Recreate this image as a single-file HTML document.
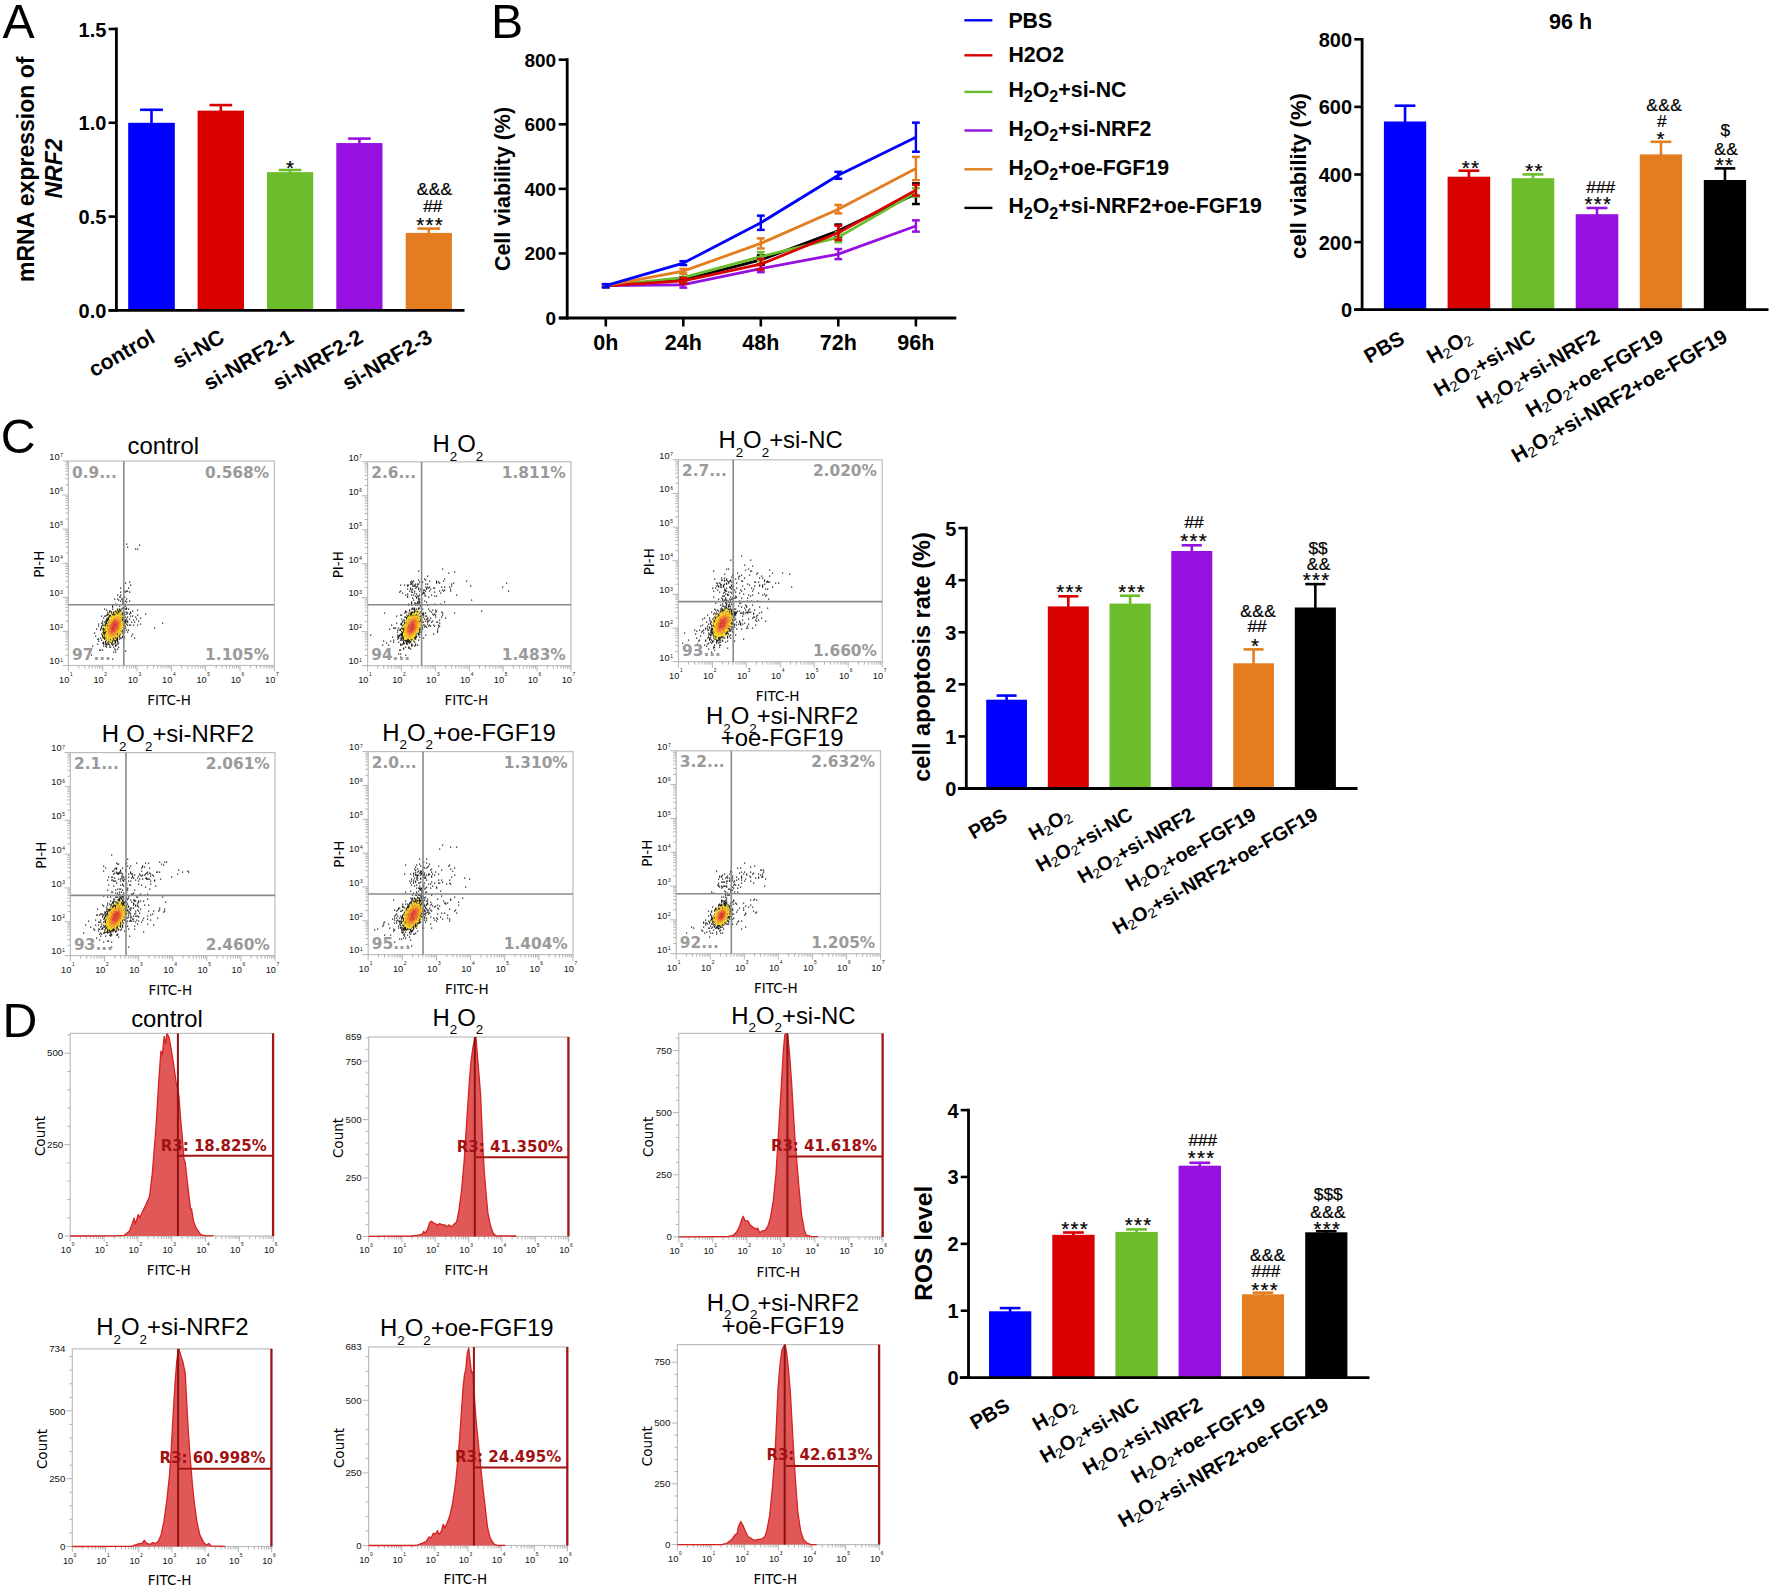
<!DOCTYPE html>
<html lang="en"><head><meta charset="utf-8"><title>NRF2 / FGF19 figure</title>
<style>html,body{margin:0;padding:0;background:#fff}body{width:1772px;height:1589px;overflow:hidden}svg{display:block}text{white-space:pre}</style>
</head><body>
<svg width="1772" height="1589" viewBox="0 0 1772 1589">
<rect width="1772" height="1589" fill="#fff"/>
<text x="2.4" y="37.5" font-family='"Liberation Sans", Arial, Helvetica, sans-serif' font-size="48.2">A</text>
<text x="491" y="37.5" font-family='"Liberation Sans", Arial, Helvetica, sans-serif' font-size="48.2">B</text>
<g id="panelA">
<rect x="128.2" y="122.8" width="46.6" height="187.6" fill="#0000ff"/>
<line x1="151.5" y1="123.8" x2="151.5" y2="109.8" stroke="#0000ff" stroke-width="2.6"/>
<line x1="140.08" y1="109.8" x2="162.92" y2="109.8" stroke="#0000ff" stroke-width="2.6"/>
<rect x="197.6" y="110.61" width="46.4" height="199.79" fill="#d90000"/>
<line x1="220.8" y1="111.61" x2="220.8" y2="105.1" stroke="#d90000" stroke-width="2.6"/>
<line x1="209.43" y1="105.1" x2="232.17" y2="105.1" stroke="#d90000" stroke-width="2.6"/>
<rect x="267" y="172.14" width="46.2" height="138.26" fill="#6cbd2c"/>
<line x1="290.1" y1="173.14" x2="290.1" y2="170" stroke="#6cbd2c" stroke-width="2.6"/>
<line x1="278.78" y1="170" x2="301.42" y2="170" stroke="#6cbd2c" stroke-width="2.6"/>
<rect x="336.3" y="143.06" width="46.2" height="167.34" fill="#9611df"/>
<line x1="359.4" y1="144.06" x2="359.4" y2="138.6" stroke="#9611df" stroke-width="2.6"/>
<line x1="348.08" y1="138.6" x2="370.72" y2="138.6" stroke="#9611df" stroke-width="2.6"/>
<rect x="405.7" y="232.92" width="46.2" height="77.48" fill="#e37d1f"/>
<line x1="428.8" y1="233.92" x2="428.8" y2="228.6" stroke="#e37d1f" stroke-width="2.6"/>
<line x1="417.48" y1="228.6" x2="440.12" y2="228.6" stroke="#e37d1f" stroke-width="2.6"/>
<line x1="116.4" y1="27.6" x2="116.4" y2="311.8" stroke="#000" stroke-width="2.8"/>
<line x1="108.6" y1="310.4" x2="464.5" y2="310.4" stroke="#000" stroke-width="2.8"/>
<line x1="108.6" y1="29" x2="116.4" y2="29" stroke="#000" stroke-width="2.6"/>
<text x="106.4" y="36.5" font-family='"Liberation Sans", Arial, Helvetica, sans-serif' font-size="20" font-weight="bold" text-anchor="end">1.5</text>
<line x1="108.6" y1="122.8" x2="116.4" y2="122.8" stroke="#000" stroke-width="2.6"/>
<text x="106.4" y="130.3" font-family='"Liberation Sans", Arial, Helvetica, sans-serif' font-size="20" font-weight="bold" text-anchor="end">1.0</text>
<line x1="108.6" y1="216.6" x2="116.4" y2="216.6" stroke="#000" stroke-width="2.6"/>
<text x="106.4" y="224.1" font-family='"Liberation Sans", Arial, Helvetica, sans-serif' font-size="20" font-weight="bold" text-anchor="end">0.5</text>
<line x1="108.6" y1="310.4" x2="116.4" y2="310.4" stroke="#000" stroke-width="2.6"/>
<text x="106.4" y="317.9" font-family='"Liberation Sans", Arial, Helvetica, sans-serif' font-size="20" font-weight="bold" text-anchor="end">0.0</text>
<text x="0" y="0" transform="translate(156.5 341.4) rotate(-30)" font-family='"Liberation Sans", Arial, Helvetica, sans-serif' font-size="21.3" font-weight="bold" text-anchor="end">control</text>
<text x="0" y="0" transform="translate(225.8 341.4) rotate(-30)" font-family='"Liberation Sans", Arial, Helvetica, sans-serif' font-size="21.3" font-weight="bold" text-anchor="end">si-NC</text>
<text x="0" y="0" transform="translate(295.1 341.4) rotate(-30)" font-family='"Liberation Sans", Arial, Helvetica, sans-serif' font-size="21.3" font-weight="bold" text-anchor="end">si-NRF2-1</text>
<text x="0" y="0" transform="translate(364.4 341.4) rotate(-30)" font-family='"Liberation Sans", Arial, Helvetica, sans-serif' font-size="21.3" font-weight="bold" text-anchor="end">si-NRF2-2</text>
<text x="0" y="0" transform="translate(433.8 341.4) rotate(-30)" font-family='"Liberation Sans", Arial, Helvetica, sans-serif' font-size="21.3" font-weight="bold" text-anchor="end">si-NRF2-3</text>
<text x="290.55" y="175.28" font-family='"Liberation Sans", Arial, Helvetica, sans-serif' font-size="20.5" text-anchor="middle" letter-spacing="1.3" stroke="#000" stroke-width="0.22">*</text>
<text x="430.15" y="231.88" font-family='"Liberation Sans", Arial, Helvetica, sans-serif' font-size="20.5" text-anchor="middle" letter-spacing="1.3" stroke="#000" stroke-width="0.22">***</text>
<text x="432.8" y="212.1" font-family='"Liberation Sans", Arial, Helvetica, sans-serif' font-size="17.3" text-anchor="middle" stroke="#000" stroke-width="0.22">##</text>
<text x="434.6" y="194.8" font-family='"Liberation Sans", Arial, Helvetica, sans-serif' font-size="17.3" text-anchor="middle" letter-spacing="0.4" stroke="#000" stroke-width="0.22">&amp;&amp;&amp;</text>
<text x="0" y="0" transform="translate(34.3 169.3) rotate(-90)" font-family='"Liberation Sans", Arial, Helvetica, sans-serif' font-size="23" font-weight="bold" text-anchor="middle">mRNA expression of</text>
<text x="0" y="0" transform="translate(62 168.5) rotate(-90)" font-family='"Liberation Sans", Arial, Helvetica, sans-serif' font-size="23" font-weight="bold" text-anchor="middle" font-style="italic">NRF2</text>
</g>
<g id="panelBline">
<polyline points="605.8,285.71 683.3,284.74 760.8,268.6 838.3,254.07 915.9,225.98" fill="none" stroke="#9611df" stroke-width="2.8" stroke-linejoin="round"/>
<line x1="605.8" y1="287" x2="605.8" y2="284.42" stroke="#9611df" stroke-width="2.4"/>
<line x1="601.9" y1="284.42" x2="609.7" y2="284.42" stroke="#9611df" stroke-width="2.5"/>
<line x1="601.9" y1="287" x2="609.7" y2="287" stroke="#9611df" stroke-width="2.5"/>
<line x1="683.3" y1="287.65" x2="683.3" y2="281.84" stroke="#9611df" stroke-width="2.4"/>
<line x1="679.4" y1="281.84" x2="687.2" y2="281.84" stroke="#9611df" stroke-width="2.5"/>
<line x1="679.4" y1="287.65" x2="687.2" y2="287.65" stroke="#9611df" stroke-width="2.5"/>
<line x1="760.8" y1="272.15" x2="760.8" y2="265.05" stroke="#9611df" stroke-width="2.4"/>
<line x1="756.9" y1="265.05" x2="764.7" y2="265.05" stroke="#9611df" stroke-width="2.5"/>
<line x1="756.9" y1="272.15" x2="764.7" y2="272.15" stroke="#9611df" stroke-width="2.5"/>
<line x1="838.3" y1="259.11" x2="838.3" y2="249.03" stroke="#9611df" stroke-width="2.4"/>
<line x1="834.4" y1="249.03" x2="842.2" y2="249.03" stroke="#9611df" stroke-width="2.5"/>
<line x1="834.4" y1="259.11" x2="842.2" y2="259.11" stroke="#9611df" stroke-width="2.5"/>
<line x1="915.9" y1="231.63" x2="915.9" y2="220.33" stroke="#9611df" stroke-width="2.4"/>
<line x1="912" y1="220.33" x2="919.8" y2="220.33" stroke="#9611df" stroke-width="2.5"/>
<line x1="912" y1="231.63" x2="919.8" y2="231.63" stroke="#9611df" stroke-width="2.5"/>
<polyline points="605.8,285.71 683.3,279.9 760.8,259.88 838.3,230.82 915.9,193.69" fill="none" stroke="#000000" stroke-width="2.8" stroke-linejoin="round"/>
<line x1="605.8" y1="287" x2="605.8" y2="284.42" stroke="#000000" stroke-width="2.4"/>
<line x1="601.9" y1="284.42" x2="609.7" y2="284.42" stroke="#000000" stroke-width="2.5"/>
<line x1="601.9" y1="287" x2="609.7" y2="287" stroke="#000000" stroke-width="2.5"/>
<line x1="683.3" y1="282.48" x2="683.3" y2="277.32" stroke="#000000" stroke-width="2.4"/>
<line x1="679.4" y1="277.32" x2="687.2" y2="277.32" stroke="#000000" stroke-width="2.5"/>
<line x1="679.4" y1="282.48" x2="687.2" y2="282.48" stroke="#000000" stroke-width="2.5"/>
<line x1="760.8" y1="264.4" x2="760.8" y2="255.36" stroke="#000000" stroke-width="2.4"/>
<line x1="756.9" y1="255.36" x2="764.7" y2="255.36" stroke="#000000" stroke-width="2.5"/>
<line x1="756.9" y1="264.4" x2="764.7" y2="264.4" stroke="#000000" stroke-width="2.5"/>
<line x1="838.3" y1="237.12" x2="838.3" y2="224.53" stroke="#000000" stroke-width="2.4"/>
<line x1="834.4" y1="224.53" x2="842.2" y2="224.53" stroke="#000000" stroke-width="2.5"/>
<line x1="834.4" y1="237.12" x2="842.2" y2="237.12" stroke="#000000" stroke-width="2.5"/>
<line x1="915.9" y1="204.03" x2="915.9" y2="183.36" stroke="#000000" stroke-width="2.4"/>
<line x1="912" y1="183.36" x2="919.8" y2="183.36" stroke="#000000" stroke-width="2.5"/>
<line x1="912" y1="204.03" x2="919.8" y2="204.03" stroke="#000000" stroke-width="2.5"/>
<polyline points="605.8,285.71 683.3,277.64 760.8,256.65 838.3,237.28 915.9,192.4" fill="none" stroke="#6cbd2c" stroke-width="2.8" stroke-linejoin="round"/>
<line x1="605.8" y1="287" x2="605.8" y2="284.42" stroke="#6cbd2c" stroke-width="2.4"/>
<line x1="601.9" y1="284.42" x2="609.7" y2="284.42" stroke="#6cbd2c" stroke-width="2.5"/>
<line x1="601.9" y1="287" x2="609.7" y2="287" stroke="#6cbd2c" stroke-width="2.5"/>
<line x1="683.3" y1="281.52" x2="683.3" y2="273.77" stroke="#6cbd2c" stroke-width="2.4"/>
<line x1="679.4" y1="273.77" x2="687.2" y2="273.77" stroke="#6cbd2c" stroke-width="2.5"/>
<line x1="679.4" y1="281.52" x2="687.2" y2="281.52" stroke="#6cbd2c" stroke-width="2.5"/>
<line x1="760.8" y1="261.17" x2="760.8" y2="252.13" stroke="#6cbd2c" stroke-width="2.4"/>
<line x1="756.9" y1="252.13" x2="764.7" y2="252.13" stroke="#6cbd2c" stroke-width="2.5"/>
<line x1="756.9" y1="261.17" x2="764.7" y2="261.17" stroke="#6cbd2c" stroke-width="2.5"/>
<line x1="838.3" y1="242.12" x2="838.3" y2="232.44" stroke="#6cbd2c" stroke-width="2.4"/>
<line x1="834.4" y1="232.44" x2="842.2" y2="232.44" stroke="#6cbd2c" stroke-width="2.5"/>
<line x1="834.4" y1="242.12" x2="842.2" y2="242.12" stroke="#6cbd2c" stroke-width="2.5"/>
<line x1="915.9" y1="196.6" x2="915.9" y2="188.2" stroke="#6cbd2c" stroke-width="2.4"/>
<line x1="912" y1="188.2" x2="919.8" y2="188.2" stroke="#6cbd2c" stroke-width="2.5"/>
<line x1="912" y1="196.6" x2="919.8" y2="196.6" stroke="#6cbd2c" stroke-width="2.5"/>
<polyline points="605.8,285.71 683.3,280.87 760.8,264.24 838.3,232.76 915.9,190.14" fill="none" stroke="#d90000" stroke-width="2.8" stroke-linejoin="round"/>
<line x1="605.8" y1="287" x2="605.8" y2="284.42" stroke="#d90000" stroke-width="2.4"/>
<line x1="601.9" y1="284.42" x2="609.7" y2="284.42" stroke="#d90000" stroke-width="2.5"/>
<line x1="601.9" y1="287" x2="609.7" y2="287" stroke="#d90000" stroke-width="2.5"/>
<line x1="683.3" y1="283.78" x2="683.3" y2="277.96" stroke="#d90000" stroke-width="2.4"/>
<line x1="679.4" y1="277.96" x2="687.2" y2="277.96" stroke="#d90000" stroke-width="2.5"/>
<line x1="679.4" y1="283.78" x2="687.2" y2="283.78" stroke="#d90000" stroke-width="2.5"/>
<line x1="760.8" y1="269.57" x2="760.8" y2="258.91" stroke="#d90000" stroke-width="2.4"/>
<line x1="756.9" y1="258.91" x2="764.7" y2="258.91" stroke="#d90000" stroke-width="2.5"/>
<line x1="756.9" y1="269.57" x2="764.7" y2="269.57" stroke="#d90000" stroke-width="2.5"/>
<line x1="838.3" y1="239.86" x2="838.3" y2="225.66" stroke="#d90000" stroke-width="2.4"/>
<line x1="834.4" y1="225.66" x2="842.2" y2="225.66" stroke="#d90000" stroke-width="2.5"/>
<line x1="834.4" y1="239.86" x2="842.2" y2="239.86" stroke="#d90000" stroke-width="2.5"/>
<line x1="915.9" y1="195.5" x2="915.9" y2="184.78" stroke="#d90000" stroke-width="2.4"/>
<line x1="912" y1="184.78" x2="919.8" y2="184.78" stroke="#d90000" stroke-width="2.5"/>
<line x1="912" y1="195.5" x2="919.8" y2="195.5" stroke="#d90000" stroke-width="2.5"/>
<polyline points="605.8,285.71 683.3,271.18 760.8,243.42 838.3,209.19 915.9,168.51" fill="none" stroke="#e37d1f" stroke-width="2.8" stroke-linejoin="round"/>
<line x1="605.8" y1="287" x2="605.8" y2="284.42" stroke="#e37d1f" stroke-width="2.4"/>
<line x1="601.9" y1="284.42" x2="609.7" y2="284.42" stroke="#e37d1f" stroke-width="2.5"/>
<line x1="601.9" y1="287" x2="609.7" y2="287" stroke="#e37d1f" stroke-width="2.5"/>
<line x1="683.3" y1="273.44" x2="683.3" y2="268.92" stroke="#e37d1f" stroke-width="2.4"/>
<line x1="679.4" y1="268.92" x2="687.2" y2="268.92" stroke="#e37d1f" stroke-width="2.5"/>
<line x1="679.4" y1="273.44" x2="687.2" y2="273.44" stroke="#e37d1f" stroke-width="2.5"/>
<line x1="760.8" y1="248.45" x2="760.8" y2="238.38" stroke="#e37d1f" stroke-width="2.4"/>
<line x1="756.9" y1="238.38" x2="764.7" y2="238.38" stroke="#e37d1f" stroke-width="2.5"/>
<line x1="756.9" y1="248.45" x2="764.7" y2="248.45" stroke="#e37d1f" stroke-width="2.5"/>
<line x1="838.3" y1="213.39" x2="838.3" y2="204.99" stroke="#e37d1f" stroke-width="2.4"/>
<line x1="834.4" y1="204.99" x2="842.2" y2="204.99" stroke="#e37d1f" stroke-width="2.5"/>
<line x1="834.4" y1="213.39" x2="842.2" y2="213.39" stroke="#e37d1f" stroke-width="2.5"/>
<line x1="915.9" y1="180.13" x2="915.9" y2="156.89" stroke="#e37d1f" stroke-width="2.4"/>
<line x1="912" y1="156.89" x2="919.8" y2="156.89" stroke="#e37d1f" stroke-width="2.5"/>
<line x1="912" y1="180.13" x2="919.8" y2="180.13" stroke="#e37d1f" stroke-width="2.5"/>
<polyline points="605.8,285.71 683.3,263.11 760.8,222.75 838.3,175.29 915.9,137.19" fill="none" stroke="#0000ff" stroke-width="2.8" stroke-linejoin="round"/>
<line x1="605.8" y1="287.33" x2="605.8" y2="284.1" stroke="#0000ff" stroke-width="2.4"/>
<line x1="601.9" y1="284.1" x2="609.7" y2="284.1" stroke="#0000ff" stroke-width="2.5"/>
<line x1="601.9" y1="287.33" x2="609.7" y2="287.33" stroke="#0000ff" stroke-width="2.5"/>
<line x1="683.3" y1="265.05" x2="683.3" y2="261.17" stroke="#0000ff" stroke-width="2.4"/>
<line x1="679.4" y1="261.17" x2="687.2" y2="261.17" stroke="#0000ff" stroke-width="2.5"/>
<line x1="679.4" y1="265.05" x2="687.2" y2="265.05" stroke="#0000ff" stroke-width="2.5"/>
<line x1="760.8" y1="229.86" x2="760.8" y2="215.65" stroke="#0000ff" stroke-width="2.4"/>
<line x1="756.9" y1="215.65" x2="764.7" y2="215.65" stroke="#0000ff" stroke-width="2.5"/>
<line x1="756.9" y1="229.86" x2="764.7" y2="229.86" stroke="#0000ff" stroke-width="2.5"/>
<line x1="838.3" y1="178.74" x2="838.3" y2="171.83" stroke="#0000ff" stroke-width="2.4"/>
<line x1="834.4" y1="171.83" x2="842.2" y2="171.83" stroke="#0000ff" stroke-width="2.5"/>
<line x1="834.4" y1="178.74" x2="842.2" y2="178.74" stroke="#0000ff" stroke-width="2.5"/>
<line x1="915.9" y1="151.72" x2="915.9" y2="122.66" stroke="#0000ff" stroke-width="2.4"/>
<line x1="912" y1="122.66" x2="919.8" y2="122.66" stroke="#0000ff" stroke-width="2.5"/>
<line x1="912" y1="151.72" x2="919.8" y2="151.72" stroke="#0000ff" stroke-width="2.5"/>
<line x1="567.2" y1="58.3" x2="567.2" y2="319.4" stroke="#000" stroke-width="2.8"/>
<line x1="559" y1="318" x2="956.3" y2="318" stroke="#000" stroke-width="2.8"/>
<line x1="558.7" y1="59.7" x2="567.2" y2="59.7" stroke="#000" stroke-width="2.6"/>
<text x="556.2" y="66.6" font-family='"Liberation Sans", Arial, Helvetica, sans-serif' font-size="19" font-weight="bold" text-anchor="end">800</text>
<line x1="558.7" y1="124.28" x2="567.2" y2="124.28" stroke="#000" stroke-width="2.6"/>
<text x="556.2" y="131.18" font-family='"Liberation Sans", Arial, Helvetica, sans-serif' font-size="19" font-weight="bold" text-anchor="end">600</text>
<line x1="558.7" y1="188.85" x2="567.2" y2="188.85" stroke="#000" stroke-width="2.6"/>
<text x="556.2" y="195.75" font-family='"Liberation Sans", Arial, Helvetica, sans-serif' font-size="19" font-weight="bold" text-anchor="end">400</text>
<line x1="558.7" y1="253.43" x2="567.2" y2="253.43" stroke="#000" stroke-width="2.6"/>
<text x="556.2" y="260.32" font-family='"Liberation Sans", Arial, Helvetica, sans-serif' font-size="19" font-weight="bold" text-anchor="end">200</text>
<line x1="558.7" y1="318" x2="567.2" y2="318" stroke="#000" stroke-width="2.6"/>
<text x="556.2" y="324.9" font-family='"Liberation Sans", Arial, Helvetica, sans-serif' font-size="19" font-weight="bold" text-anchor="end">0</text>
<line x1="605.8" y1="318" x2="605.8" y2="326.5" stroke="#000" stroke-width="2.6"/>
<text x="605.8" y="350" font-family='"Liberation Sans", Arial, Helvetica, sans-serif' font-size="21.5" font-weight="bold" text-anchor="middle">0h</text>
<line x1="683.3" y1="318" x2="683.3" y2="326.5" stroke="#000" stroke-width="2.6"/>
<text x="683.3" y="350" font-family='"Liberation Sans", Arial, Helvetica, sans-serif' font-size="21.5" font-weight="bold" text-anchor="middle">24h</text>
<line x1="760.8" y1="318" x2="760.8" y2="326.5" stroke="#000" stroke-width="2.6"/>
<text x="760.8" y="350" font-family='"Liberation Sans", Arial, Helvetica, sans-serif' font-size="21.5" font-weight="bold" text-anchor="middle">48h</text>
<line x1="838.3" y1="318" x2="838.3" y2="326.5" stroke="#000" stroke-width="2.6"/>
<text x="838.3" y="350" font-family='"Liberation Sans", Arial, Helvetica, sans-serif' font-size="21.5" font-weight="bold" text-anchor="middle">72h</text>
<line x1="915.9" y1="318" x2="915.9" y2="326.5" stroke="#000" stroke-width="2.6"/>
<text x="915.9" y="350" font-family='"Liberation Sans", Arial, Helvetica, sans-serif' font-size="21.5" font-weight="bold" text-anchor="middle">96h</text>
<text x="0" y="0" transform="translate(510.3 189) rotate(-90)" font-family='"Liberation Sans", Arial, Helvetica, sans-serif' font-size="21.4" font-weight="bold" text-anchor="middle">Cell viability (%)</text>
</g>
<g id="legend">
<line x1="964.4" y1="20.3" x2="992.4" y2="20.3" stroke="#0000ff" stroke-width="2.4"/>
<text x="1008.4" y="27.5" font-family='"Liberation Sans", Arial, Helvetica, sans-serif' font-size="21.3" font-weight="bold">PBS</text>
<line x1="964.4" y1="55.3" x2="992.4" y2="55.3" stroke="#d90000" stroke-width="2.4"/>
<text x="1008.4" y="62.3" font-family='"Liberation Sans", Arial, Helvetica, sans-serif' font-size="21.3" font-weight="bold">H2O2</text>
<line x1="964.4" y1="91.9" x2="992.4" y2="91.9" stroke="#6cbd2c" stroke-width="2.4"/>
<text x="1008.4" y="97" font-family='"Liberation Sans", Arial, Helvetica, sans-serif' font-size="21.3" font-weight="bold">H<tspan dy="0.322em" font-size="76%">2</tspan><tspan dy="-0.245em">O</tspan><tspan dy="0.322em" font-size="76%">2</tspan><tspan dy="-0.245em">+si-NC</tspan></text>
<line x1="964.4" y1="130.5" x2="992.4" y2="130.5" stroke="#9611df" stroke-width="2.4"/>
<text x="1008.4" y="136" font-family='"Liberation Sans", Arial, Helvetica, sans-serif' font-size="21.3" font-weight="bold">H<tspan dy="0.322em" font-size="76%">2</tspan><tspan dy="-0.245em">O</tspan><tspan dy="0.322em" font-size="76%">2</tspan><tspan dy="-0.245em">+si-NRF2</tspan></text>
<line x1="964.4" y1="169.3" x2="992.4" y2="169.3" stroke="#e37d1f" stroke-width="2.4"/>
<text x="1008.4" y="175" font-family='"Liberation Sans", Arial, Helvetica, sans-serif' font-size="21.3" font-weight="bold">H<tspan dy="0.322em" font-size="76%">2</tspan><tspan dy="-0.245em">O</tspan><tspan dy="0.322em" font-size="76%">2</tspan><tspan dy="-0.245em">+oe-FGF19</tspan></text>
<line x1="964.4" y1="207.9" x2="992.4" y2="207.9" stroke="#000000" stroke-width="2.4"/>
<text x="1008.4" y="213.3" font-family='"Liberation Sans", Arial, Helvetica, sans-serif' font-size="21.3" font-weight="bold">H<tspan dy="0.322em" font-size="76%">2</tspan><tspan dy="-0.245em">O</tspan><tspan dy="0.322em" font-size="76%">2</tspan><tspan dy="-0.245em">+si-NRF2+oe-FGF19</tspan></text>
</g>
<g id="panelBbar">
<rect x="1383.9" y="121.5" width="42.3" height="188.2" fill="#0000ff"/>
<line x1="1405.05" y1="122.5" x2="1405.05" y2="105.7" stroke="#0000ff" stroke-width="2.6"/>
<line x1="1394.69" y1="105.7" x2="1415.41" y2="105.7" stroke="#0000ff" stroke-width="2.6"/>
<rect x="1447.6" y="176.7" width="42.6" height="133" fill="#d90000"/>
<line x1="1468.9" y1="177.7" x2="1468.9" y2="170.7" stroke="#d90000" stroke-width="2.6"/>
<line x1="1458.46" y1="170.7" x2="1479.34" y2="170.7" stroke="#d90000" stroke-width="2.6"/>
<rect x="1511.7" y="178.2" width="42.6" height="131.5" fill="#6cbd2c"/>
<line x1="1533" y1="179.2" x2="1533" y2="174.4" stroke="#6cbd2c" stroke-width="2.6"/>
<line x1="1522.56" y1="174.4" x2="1543.44" y2="174.4" stroke="#6cbd2c" stroke-width="2.6"/>
<rect x="1575.7" y="214.2" width="42.6" height="95.5" fill="#9611df"/>
<line x1="1597" y1="215.2" x2="1597" y2="208" stroke="#9611df" stroke-width="2.6"/>
<line x1="1586.56" y1="208" x2="1607.44" y2="208" stroke="#9611df" stroke-width="2.6"/>
<rect x="1639.8" y="154.4" width="42.3" height="155.3" fill="#e37d1f"/>
<line x1="1660.95" y1="155.4" x2="1660.95" y2="141.8" stroke="#e37d1f" stroke-width="2.6"/>
<line x1="1650.59" y1="141.8" x2="1671.31" y2="141.8" stroke="#e37d1f" stroke-width="2.6"/>
<rect x="1703.8" y="180" width="42.3" height="129.7" fill="#000000"/>
<line x1="1724.95" y1="181" x2="1724.95" y2="168.4" stroke="#000000" stroke-width="2.6"/>
<line x1="1714.59" y1="168.4" x2="1735.31" y2="168.4" stroke="#000000" stroke-width="2.6"/>
<line x1="1362.1" y1="37.9" x2="1362.1" y2="311.1" stroke="#000" stroke-width="2.8"/>
<line x1="1354" y1="309.7" x2="1768.5" y2="309.7" stroke="#000" stroke-width="2.8"/>
<line x1="1354.3" y1="39.3" x2="1362.1" y2="39.3" stroke="#000" stroke-width="2.6"/>
<text x="1352.1" y="46.8" font-family='"Liberation Sans", Arial, Helvetica, sans-serif' font-size="20" font-weight="bold" text-anchor="end">800</text>
<line x1="1354.3" y1="106.9" x2="1362.1" y2="106.9" stroke="#000" stroke-width="2.6"/>
<text x="1352.1" y="114.4" font-family='"Liberation Sans", Arial, Helvetica, sans-serif' font-size="20" font-weight="bold" text-anchor="end">600</text>
<line x1="1354.3" y1="174.5" x2="1362.1" y2="174.5" stroke="#000" stroke-width="2.6"/>
<text x="1352.1" y="182" font-family='"Liberation Sans", Arial, Helvetica, sans-serif' font-size="20" font-weight="bold" text-anchor="end">400</text>
<line x1="1354.3" y1="242.1" x2="1362.1" y2="242.1" stroke="#000" stroke-width="2.6"/>
<text x="1352.1" y="249.6" font-family='"Liberation Sans", Arial, Helvetica, sans-serif' font-size="20" font-weight="bold" text-anchor="end">200</text>
<line x1="1354.3" y1="309.7" x2="1362.1" y2="309.7" stroke="#000" stroke-width="2.6"/>
<text x="1352.1" y="317.2" font-family='"Liberation Sans", Arial, Helvetica, sans-serif' font-size="20" font-weight="bold" text-anchor="end">0</text>
<text x="0" y="0" transform="translate(1406.05 342.7) rotate(-30)" font-family='"Liberation Sans", Arial, Helvetica, sans-serif' font-size="20.7" font-weight="bold" text-anchor="end">PBS</text>
<text x="0" y="0" transform="translate(1472.9 340.7) rotate(-30)" font-family='"Liberation Sans", Arial, Helvetica, sans-serif' font-size="20.7" font-weight="bold" text-anchor="end">H<tspan dy="0.214em" font-size="70%" font-weight="normal">2</tspan><tspan dy="-0.15em">O</tspan><tspan dy="0.214em" font-size="70%" font-weight="normal">2</tspan></text>
<text x="0" y="0" transform="translate(1537 340.7) rotate(-30)" font-family='"Liberation Sans", Arial, Helvetica, sans-serif' font-size="20.7" font-weight="bold" text-anchor="end">H<tspan dy="0.214em" font-size="70%" font-weight="normal">2</tspan><tspan dy="-0.15em">O</tspan><tspan dy="0.214em" font-size="70%" font-weight="normal">2</tspan><tspan dy="-0.15em">+si-NC</tspan></text>
<text x="0" y="0" transform="translate(1601 340.7) rotate(-30)" font-family='"Liberation Sans", Arial, Helvetica, sans-serif' font-size="20.7" font-weight="bold" text-anchor="end">H<tspan dy="0.214em" font-size="70%" font-weight="normal">2</tspan><tspan dy="-0.15em">O</tspan><tspan dy="0.214em" font-size="70%" font-weight="normal">2</tspan><tspan dy="-0.15em">+si-NRF2</tspan></text>
<text x="0" y="0" transform="translate(1664.95 340.7) rotate(-30)" font-family='"Liberation Sans", Arial, Helvetica, sans-serif' font-size="20.7" font-weight="bold" text-anchor="end">H<tspan dy="0.214em" font-size="70%" font-weight="normal">2</tspan><tspan dy="-0.15em">O</tspan><tspan dy="0.214em" font-size="70%" font-weight="normal">2</tspan><tspan dy="-0.15em">+oe-FGF19</tspan></text>
<text x="0" y="0" transform="translate(1728.95 340.7) rotate(-30)" font-family='"Liberation Sans", Arial, Helvetica, sans-serif' font-size="20.7" font-weight="bold" text-anchor="end">H<tspan dy="0.214em" font-size="70%" font-weight="normal">2</tspan><tspan dy="-0.15em">O</tspan><tspan dy="0.214em" font-size="70%" font-weight="normal">2</tspan><tspan dy="-0.15em">+si-NRF2+oe-FGF19</tspan></text>
<text x="1470.95" y="174.98" font-family='"Liberation Sans", Arial, Helvetica, sans-serif' font-size="20.5" text-anchor="middle" letter-spacing="1.3" stroke="#000" stroke-width="0.22">**</text>
<text x="1534.45" y="177.88" font-family='"Liberation Sans", Arial, Helvetica, sans-serif' font-size="20.5" text-anchor="middle" letter-spacing="1.3" stroke="#000" stroke-width="0.22">**</text>
<text x="1598.35" y="211.08" font-family='"Liberation Sans", Arial, Helvetica, sans-serif' font-size="20.5" text-anchor="middle" letter-spacing="1.3" stroke="#000" stroke-width="0.22">***</text>
<text x="1600.7" y="192.9" font-family='"Liberation Sans", Arial, Helvetica, sans-serif' font-size="17.3" text-anchor="middle" stroke="#000" stroke-width="0.22">###</text>
<text x="1661.25" y="145.68" font-family='"Liberation Sans", Arial, Helvetica, sans-serif' font-size="20.5" text-anchor="middle" letter-spacing="1.3" stroke="#000" stroke-width="0.22">*</text>
<text x="1661.9" y="126.9" font-family='"Liberation Sans", Arial, Helvetica, sans-serif' font-size="17.3" text-anchor="middle" stroke="#000" stroke-width="0.22">#</text>
<text x="1664.2" y="110.9" font-family='"Liberation Sans", Arial, Helvetica, sans-serif' font-size="17.3" text-anchor="middle" letter-spacing="0.4" stroke="#000" stroke-width="0.22">&amp;&amp;&amp;</text>
<text x="1725.05" y="171.68" font-family='"Liberation Sans", Arial, Helvetica, sans-serif' font-size="20.5" text-anchor="middle" letter-spacing="1.3" stroke="#000" stroke-width="0.22">**</text>
<text x="1726.2" y="154.9" font-family='"Liberation Sans", Arial, Helvetica, sans-serif' font-size="17.3" text-anchor="middle" letter-spacing="0.4" stroke="#000" stroke-width="0.22">&amp;&amp;</text>
<text x="1725.2" y="136.4" font-family='"Liberation Sans", Arial, Helvetica, sans-serif' font-size="17.3" text-anchor="middle" stroke="#000" stroke-width="0.22">$</text>
<text x="1570.6" y="29.3" font-family='"Liberation Sans", Arial, Helvetica, sans-serif' font-size="21.5" font-weight="bold" text-anchor="middle">96 h</text>
<text x="0" y="0" transform="translate(1306.3 176) rotate(-90)" font-family='"Liberation Sans", Arial, Helvetica, sans-serif' font-size="22.1" font-weight="bold" text-anchor="middle">cell viability (%)</text>
</g>
<text x="0.8" y="452.6" font-family='"Liberation Sans", Arial, Helvetica, sans-serif' font-size="48.2">C</text>
<g id="flow1">
<text x="163.3" y="453.8" font-family='"Liberation Sans", Arial, Helvetica, sans-serif' font-size="23.9" text-anchor="middle">control</text>
<rect x="68.4" y="461" width="206" height="204.5" fill="#fff" stroke="#bdbdbd" stroke-width="1.2"/>
<path d="M68.4 665.5v5.8M78.74 665.5v3M84.78 665.5v3M89.07 665.5v3M92.4 665.5v3M95.12 665.5v3M97.42 665.5v3M99.41 665.5v3M101.16 665.5v3M102.73 665.5v5.8M113.07 665.5v3M119.11 665.5v3M123.4 665.5v3M126.73 665.5v3M129.45 665.5v3M131.75 665.5v3M133.74 665.5v3M135.5 665.5v3M137.07 665.5v5.8M147.4 665.5v3M153.45 665.5v3M157.74 665.5v3M161.06 665.5v3M163.78 665.5v3M166.08 665.5v3M168.07 665.5v3M169.83 665.5v3M171.4 665.5v5.8M181.74 665.5v3M187.78 665.5v3M192.07 665.5v3M195.4 665.5v3M198.12 665.5v3M200.42 665.5v3M202.41 665.5v3M204.16 665.5v3M205.73 665.5v5.8M216.07 665.5v3M222.11 665.5v3M226.4 665.5v3M229.73 665.5v3M232.45 665.5v3M234.75 665.5v3M236.74 665.5v3M238.5 665.5v3M240.07 665.5v5.8M250.4 665.5v3M256.45 665.5v3M260.74 665.5v3M264.06 665.5v3M266.78 665.5v3M269.08 665.5v3M271.07 665.5v3M272.83 665.5v3M274.4 665.5v5.8" stroke="#ababab" stroke-width="0.9" fill="none"/>
<path d="M68.4 665.5h-5.8M68.4 655.24h-3M68.4 649.24h-3M68.4 644.98h-3M68.4 641.68h-3M68.4 638.98h-3M68.4 636.7h-3M68.4 634.72h-3M68.4 632.98h-3M68.4 631.42h-5.8M68.4 621.16h-3M68.4 615.15h-3M68.4 610.9h-3M68.4 607.59h-3M68.4 604.89h-3M68.4 602.61h-3M68.4 600.64h-3M68.4 598.89h-3M68.4 597.33h-5.8M68.4 587.07h-3M68.4 581.07h-3M68.4 576.81h-3M68.4 573.51h-3M68.4 570.81h-3M68.4 568.53h-3M68.4 566.55h-3M68.4 564.81h-3M68.4 563.25h-5.8M68.4 552.99h-3M68.4 546.99h-3M68.4 542.73h-3M68.4 539.43h-3M68.4 536.73h-3M68.4 534.45h-3M68.4 532.47h-3M68.4 530.73h-3M68.4 529.17h-5.8M68.4 518.91h-3M68.4 512.9h-3M68.4 508.65h-3M68.4 505.34h-3M68.4 502.64h-3M68.4 500.36h-3M68.4 498.39h-3M68.4 496.64h-3M68.4 495.08h-5.8M68.4 484.82h-3M68.4 478.82h-3M68.4 474.56h-3M68.4 471.26h-3M68.4 468.56h-3M68.4 466.28h-3M68.4 464.3h-3M68.4 462.56h-3M68.4 461h-5.8" stroke="#ababab" stroke-width="0.9" fill="none"/>
<path d="M126 544h1.25M139 545h1.25M127 547h1.25M135 549h1.25M137 549h1.25M129 582h1.25M125 583h1.25M130 585h1.25M120 588h1.25M128 588h1.25M124 591h1.25M126 591h1.25M127 591h1.25M120 592h1.25M125 592h1.25M129 592h1.25M123 593h1.25M117 595h1.25M120 595h1.25M119 597h1.25M120 597h1.25M124 597h1.25M114 599h1.25M117 599h1.25M121 599h1.25M122 599h1.25M126 599h1.25M118 600h1.25M120 601h1.25M122 601h1.25M125 601h1.25M129 601h1.25M126 602h1.25M122 603h1.25M115 604h1.25M124 604h1.25M112 605h1.25M116 605h1.25M112 606h1.25M119 606h1.25M123 606h1.25M125 606h1.25M112 607h1.25M122 608h1.25M124 608h1.25M126 608h1.25M104 609h1.25M112 609h1.25M117 609h1.25M119 609h1.25M121 609h1.25M125 609h1.25M126 609h1.25M128 609h1.25M106 610h1.25M117 610h1.25M119 610h1.25M120 610h1.25M137 610h1.25M109 611h1.25M110 611h1.25M115 611h1.25M117 611h1.25M118 611h1.25M120 611h1.25M121 611h1.25M123 611h1.25M132 611h1.25M107 612h1.25M109 612h1.25M111 612h1.25M113 612h1.25M114 612h1.25M115 612h1.25M116 612h1.25M118 612h1.25M119 612h1.25M124 612h1.25M126 612h1.25M130 612h1.25M111 613h1.25M113 613h1.25M116 613h1.25M117 613h1.25M118 613h1.25M119 613h1.25M122 613h1.25M123 613h1.25M124 613h1.25M127 613h1.25M130 613h1.25M107 614h1.25M108 614h1.25M112 614h1.25M113 614h1.25M114 614h1.25M115 614h1.25M117 614h1.25M121 614h1.25M122 614h1.25M124 614h1.25M126 614h1.25M129 614h1.25M145 614h1.25M106 615h1.25M107 615h1.25M109 615h1.25M110 615h1.25M112 615h1.25M113 615h1.25M114 615h1.25M120 615h1.25M122 615h1.25M123 615h1.25M124 615h1.25M137 615h1.25M101 616h1.25M104 616h1.25M105 616h1.25M109 616h1.25M110 616h1.25M123 616h1.25M130 616h1.25M132 616h1.25M108 617h1.25M109 617h1.25M111 617h1.25M120 617h1.25M122 617h1.25M123 617h1.25M125 617h1.25M127 617h1.25M135 617h1.25M103 618h1.25M107 618h1.25M108 618h1.25M122 618h1.25M124 618h1.25M140 618h1.25M106 619h1.25M107 619h1.25M108 619h1.25M121 619h1.25M122 619h1.25M123 619h1.25M126 619h1.25M129 619h1.25M136 619h1.25M106 620h1.25M107 620h1.25M108 620h1.25M109 620h1.25M122 620h1.25M124 620h1.25M125 620h1.25M133 620h1.25M102 621h1.25M105 621h1.25M106 621h1.25M107 621h1.25M122 621h1.25M123 621h1.25M124 621h1.25M125 621h1.25M126 621h1.25M127 621h1.25M138 621h1.25M104 622h1.25M106 622h1.25M108 622h1.25M123 622h1.25M125 622h1.25M127 622h1.25M131 622h1.25M134 622h1.25M101 623h1.25M102 623h1.25M105 623h1.25M106 623h1.25M107 623h1.25M123 623h1.25M124 623h1.25M125 623h1.25M162 623h1.25M98 624h1.25M105 624h1.25M106 624h1.25M124 624h1.25M126 624h1.25M140 624h1.25M102 625h1.25M103 625h1.25M104 625h1.25M105 625h1.25M107 625h1.25M123 625h1.25M127 625h1.25M129 625h1.25M130 625h1.25M133 625h1.25M137 625h1.25M98 626h1.25M101 626h1.25M105 626h1.25M107 626h1.25M123 626h1.25M124 626h1.25M125 626h1.25M101 627h1.25M123 627h1.25M101 628h1.25M103 628h1.25M105 628h1.25M123 628h1.25M124 628h1.25M125 628h1.25M154 628h1.25M96 629h1.25M100 629h1.25M102 629h1.25M103 629h1.25M104 629h1.25M123 629h1.25M100 630h1.25M103 630h1.25M104 630h1.25M122 630h1.25M123 630h1.25M124 630h1.25M126 630h1.25M128 630h1.25M103 631h1.25M105 631h1.25M106 631h1.25M120 631h1.25M121 631h1.25M122 631h1.25M123 631h1.25M102 632h1.25M103 632h1.25M104 632h1.25M105 632h1.25M121 632h1.25M124 632h1.25M127 632h1.25M94 633h1.25M103 633h1.25M104 633h1.25M105 633h1.25M117 633h1.25M119 633h1.25M122 633h1.25M101 634h1.25M103 634h1.25M104 634h1.25M117 634h1.25M120 634h1.25M132 634h1.25M102 635h1.25M104 635h1.25M117 635h1.25M119 635h1.25M123 635h1.25M95 636h1.25M102 636h1.25M118 636h1.25M119 636h1.25M122 636h1.25M131 636h1.25M102 637h1.25M103 637h1.25M104 637h1.25M105 637h1.25M115 637h1.25M117 637h1.25M119 637h1.25M122 637h1.25M124 637h1.25M100 638h1.25M103 638h1.25M104 638h1.25M106 638h1.25M112 638h1.25M113 638h1.25M114 638h1.25M115 638h1.25M116 638h1.25M117 638h1.25M120 638h1.25M121 638h1.25M134 638h1.25M97 639h1.25M98 639h1.25M104 639h1.25M105 639h1.25M108 639h1.25M110 639h1.25M113 639h1.25M116 639h1.25M117 639h1.25M119 639h1.25M123 639h1.25M101 640h1.25M106 640h1.25M110 640h1.25M112 640h1.25M113 640h1.25M114 640h1.25M115 640h1.25M116 640h1.25M117 640h1.25M98 641h1.25M105 641h1.25M108 641h1.25M109 641h1.25M112 641h1.25M114 641h1.25M115 641h1.25M117 641h1.25M103 642h1.25M105 642h1.25M107 642h1.25M110 642h1.25M112 642h1.25M115 642h1.25M117 642h1.25M102 643h1.25M103 643h1.25M105 643h1.25M108 643h1.25M111 643h1.25M114 643h1.25M115 643h1.25M118 643h1.25M97 644h1.25M103 644h1.25M105 644h1.25M106 644h1.25M107 644h1.25M108 644h1.25M111 644h1.25M112 644h1.25M113 644h1.25M117 644h1.25M106 645h1.25M109 645h1.25M112 645h1.25M115 645h1.25M116 645h1.25M92 646h1.25M103 646h1.25M105 646h1.25M115 646h1.25M106 647h1.25M109 647h1.25M110 647h1.25M113 647h1.25M118 647h1.25M114 649h1.25M117 649h1.25M99 650h1.25M100 650h1.25M102 650h1.25M115 650h1.25M125 651h1.25M113 652h1.25M115 652h1.25M91 655h1.25M112 659h1.25" stroke="#141414" stroke-width="1.25" fill="none" opacity="0.92"/>
<path d="M114 613h1.25M115 613h1.25M119 613h1.25M116 614h1.25M120 614h1.25M111 615h1.25M120 616h1.25M122 616h1.25M110 617h1.25M109 618h1.25M110 618h1.25M121 618h1.25M123 618h1.25M109 619h1.25M123 620h1.25M107 622h1.25M122 625h1.25M122 626h1.25M105 627h1.25M122 627h1.25M122 628h1.25M105 629h1.25M121 630h1.25M104 631h1.25M120 632h1.25M120 633h1.25M119 634h1.25M118 635h1.25M117 636h1.25M107 638h1.25M106 639h1.25M107 639h1.25M111 639h1.25M114 639h1.25M115 639h1.25M107 640h1.25M108 640h1.25M109 640h1.25M111 641h1.25" stroke="#f9e11e" stroke-width="1.25" fill="none"/>
<path d="M116 610h1.25M121 610h1.25M114 611h1.25M117 612h1.25M120 612h1.25M121 612h1.25M112 613h1.25M123 613h1.25M109 614h1.25M110 614h1.25M118 614h1.25M119 614h1.25M123 614h1.25M115 615h1.25M116 615h1.25M117 615h1.25M118 615h1.25M119 615h1.25M121 615h1.25M111 616h1.25M112 616h1.25M113 616h1.25M114 616h1.25M115 616h1.25M116 616h1.25M117 616h1.25M118 616h1.25M119 616h1.25M121 616h1.25M112 617h1.25M113 617h1.25M114 617h1.25M116 617h1.25M119 617h1.25M121 617h1.25M124 617h1.25M111 618h1.25M112 618h1.25M114 618h1.25M118 618h1.25M120 618h1.25M110 619h1.25M111 619h1.25M112 619h1.25M119 619h1.25M110 620h1.25M121 620h1.25M108 621h1.25M109 621h1.25M110 621h1.25M121 621h1.25M121 622h1.25M122 622h1.25M108 623h1.25M109 623h1.25M121 623h1.25M122 623h1.25M104 624h1.25M107 624h1.25M108 624h1.25M121 624h1.25M122 624h1.25M123 624h1.25M125 624h1.25M106 625h1.25M121 625h1.25M106 626h1.25M120 626h1.25M121 626h1.25M103 627h1.25M104 627h1.25M106 627h1.25M107 627h1.25M120 627h1.25M121 627h1.25M124 627h1.25M104 628h1.25M106 628h1.25M120 628h1.25M121 628h1.25M106 629h1.25M119 629h1.25M120 629h1.25M121 629h1.25M102 630h1.25M105 630h1.25M106 630h1.25M119 630h1.25M120 630h1.25M102 631h1.25M107 631h1.25M118 631h1.25M119 631h1.25M106 632h1.25M107 632h1.25M117 632h1.25M118 632h1.25M119 632h1.25M121 632h1.25M102 633h1.25M106 633h1.25M107 633h1.25M118 633h1.25M105 634h1.25M106 634h1.25M118 634h1.25M103 635h1.25M105 635h1.25M106 635h1.25M107 635h1.25M108 635h1.25M116 635h1.25M105 636h1.25M106 636h1.25M107 636h1.25M109 636h1.25M112 636h1.25M115 636h1.25M116 636h1.25M106 637h1.25M107 637h1.25M108 637h1.25M110 637h1.25M111 637h1.25M113 637h1.25M114 637h1.25M116 637h1.25M118 637h1.25M102 638h1.25M105 638h1.25M108 638h1.25M109 638h1.25M110 638h1.25M111 638h1.25M109 639h1.25M112 639h1.25M105 640h1.25M111 640h1.25M107 641h1.25M110 641h1.25M113 641h1.25M109 642h1.25M113 643h1.25M110 644h1.25" stroke="#f7cf1c" stroke-width="1.25" fill="none"/>
<path d="M115 617h1.25M117 617h1.25M118 617h1.25M113 618h1.25M115 618h1.25M116 618h1.25M117 618h1.25M119 618h1.25M113 619h1.25M115 619h1.25M118 619h1.25M120 619h1.25M111 620h1.25M112 620h1.25M117 620h1.25M119 620h1.25M120 620h1.25M111 621h1.25M118 621h1.25M120 621h1.25M109 622h1.25M110 622h1.25M111 622h1.25M119 622h1.25M120 622h1.25M110 623h1.25M119 623h1.25M120 623h1.25M119 624h1.25M120 624h1.25M108 625h1.25M109 625h1.25M119 625h1.25M120 625h1.25M108 626h1.25M119 626h1.25M108 627h1.25M118 627h1.25M119 627h1.25M107 628h1.25M108 628h1.25M118 628h1.25M107 629h1.25M108 629h1.25M118 629h1.25M107 630h1.25M109 630h1.25M118 630h1.25M108 631h1.25M117 631h1.25M115 632h1.25M116 632h1.25M108 633h1.25M109 633h1.25M113 633h1.25M107 634h1.25M108 634h1.25M111 634h1.25M114 634h1.25M115 634h1.25M116 634h1.25M109 635h1.25M110 635h1.25M111 635h1.25M112 635h1.25M114 635h1.25M115 635h1.25M108 636h1.25M110 636h1.25M111 636h1.25M113 636h1.25M114 636h1.25M109 637h1.25M112 637h1.25" stroke="#f3a61f" stroke-width="1.25" fill="none"/>
<path d="M114 619h1.25M116 619h1.25M117 619h1.25M113 620h1.25M114 620h1.25M115 620h1.25M116 620h1.25M118 620h1.25M112 621h1.25M113 621h1.25M116 621h1.25M117 621h1.25M119 621h1.25M113 622h1.25M111 623h1.25M109 624h1.25M110 624h1.25M111 624h1.25M118 624h1.25M110 625h1.25M112 625h1.25M117 625h1.25M109 626h1.25M118 626h1.25M109 627h1.25M110 627h1.25M116 627h1.25M109 628h1.25M117 628h1.25M119 628h1.25M109 629h1.25M117 629h1.25M108 630h1.25M110 630h1.25M115 630h1.25M116 630h1.25M117 630h1.25M110 631h1.25M115 631h1.25M116 631h1.25M108 632h1.25M109 632h1.25M110 632h1.25M110 633h1.25M112 633h1.25M114 633h1.25M115 633h1.25M116 633h1.25M109 634h1.25M110 634h1.25M112 634h1.25M113 634h1.25M113 635h1.25" stroke="#ee8024" stroke-width="1.25" fill="none"/>
<path d="M112 622h1.25M115 622h1.25M116 622h1.25M117 622h1.25M118 622h1.25M112 623h1.25M113 623h1.25M116 623h1.25M117 623h1.25M118 623h1.25M112 624h1.25M111 625h1.25M118 625h1.25M110 626h1.25M117 626h1.25M111 627h1.25M114 627h1.25M110 628h1.25M111 628h1.25M116 628h1.25M110 629h1.25M115 629h1.25M116 629h1.25M111 630h1.25M113 630h1.25M114 630h1.25M109 631h1.25M113 631h1.25M111 632h1.25M112 632h1.25M113 632h1.25M114 632h1.25M111 633h1.25" stroke="#e6592a" stroke-width="1.25" fill="none"/>
<path d="M114 621h1.25M115 621h1.25M114 622h1.25M114 623h1.25M115 623h1.25M113 624h1.25M114 624h1.25M115 624h1.25M116 624h1.25M117 624h1.25M113 625h1.25M114 625h1.25M115 625h1.25M116 625h1.25M111 626h1.25M112 626h1.25M113 626h1.25M114 626h1.25M115 626h1.25M116 626h1.25M112 627h1.25M113 627h1.25M115 627h1.25M117 627h1.25M112 628h1.25M113 628h1.25M114 628h1.25M115 628h1.25M111 629h1.25M112 629h1.25M113 629h1.25M114 629h1.25M112 630h1.25M111 631h1.25M112 631h1.25M114 631h1.25" stroke="#dc3a2c" stroke-width="1.25" fill="none"/>
<line x1="123.8" y1="461" x2="123.8" y2="665.5" stroke="#8a8a8a" stroke-width="1.6"/>
<line x1="68.4" y1="604.8" x2="274.4" y2="604.8" stroke="#8a8a8a" stroke-width="1.6"/>
<text x="72" y="477.6" font-family='"DejaVu Sans", "Liberation Sans", Verdana, sans-serif' font-size="15.4" font-weight="bold" fill="#9a9a9a">0.9...</text>
<text x="269.2" y="477.6" font-family='"DejaVu Sans", "Liberation Sans", Verdana, sans-serif' font-size="15.4" font-weight="bold" text-anchor="end" fill="#9a9a9a">0.568%</text>
<text x="72" y="660.1" font-family='"DejaVu Sans", "Liberation Sans", Verdana, sans-serif' font-size="15.4" font-weight="bold" fill="#9a9a9a">97...</text>
<text x="269.2" y="660.1" font-family='"DejaVu Sans", "Liberation Sans", Verdana, sans-serif' font-size="15.4" font-weight="bold" text-anchor="end" fill="#9a9a9a">1.105%</text>
<text x="65.8" y="682.7" font-family='"Liberation Sans", Arial, Helvetica, sans-serif' font-size="9.2" text-anchor="middle" fill="#111">10<tspan dx="0.6" dy="-6.7" font-size="4.8">1</tspan></text>
<text x="62.8" y="664.3" font-family='"Liberation Sans", Arial, Helvetica, sans-serif' font-size="9.2" text-anchor="end" fill="#111">10<tspan dx="0.6" dy="-2.6" font-size="4.8">1</tspan></text>
<text x="100.13" y="682.7" font-family='"Liberation Sans", Arial, Helvetica, sans-serif' font-size="9.2" text-anchor="middle" fill="#111">10<tspan dx="0.6" dy="-6.7" font-size="4.8">2</tspan></text>
<text x="62.8" y="630.22" font-family='"Liberation Sans", Arial, Helvetica, sans-serif' font-size="9.2" text-anchor="end" fill="#111">10<tspan dx="0.6" dy="-2.6" font-size="4.8">2</tspan></text>
<text x="134.47" y="682.7" font-family='"Liberation Sans", Arial, Helvetica, sans-serif' font-size="9.2" text-anchor="middle" fill="#111">10<tspan dx="0.6" dy="-6.7" font-size="4.8">3</tspan></text>
<text x="62.8" y="596.13" font-family='"Liberation Sans", Arial, Helvetica, sans-serif' font-size="9.2" text-anchor="end" fill="#111">10<tspan dx="0.6" dy="-2.6" font-size="4.8">3</tspan></text>
<text x="168.8" y="682.7" font-family='"Liberation Sans", Arial, Helvetica, sans-serif' font-size="9.2" text-anchor="middle" fill="#111">10<tspan dx="0.6" dy="-6.7" font-size="4.8">4</tspan></text>
<text x="62.8" y="562.05" font-family='"Liberation Sans", Arial, Helvetica, sans-serif' font-size="9.2" text-anchor="end" fill="#111">10<tspan dx="0.6" dy="-2.6" font-size="4.8">4</tspan></text>
<text x="203.13" y="682.7" font-family='"Liberation Sans", Arial, Helvetica, sans-serif' font-size="9.2" text-anchor="middle" fill="#111">10<tspan dx="0.6" dy="-6.7" font-size="4.8">5</tspan></text>
<text x="62.8" y="527.97" font-family='"Liberation Sans", Arial, Helvetica, sans-serif' font-size="9.2" text-anchor="end" fill="#111">10<tspan dx="0.6" dy="-2.6" font-size="4.8">5</tspan></text>
<text x="237.47" y="682.7" font-family='"Liberation Sans", Arial, Helvetica, sans-serif' font-size="9.2" text-anchor="middle" fill="#111">10<tspan dx="0.6" dy="-6.7" font-size="4.8">6</tspan></text>
<text x="62.8" y="493.88" font-family='"Liberation Sans", Arial, Helvetica, sans-serif' font-size="9.2" text-anchor="end" fill="#111">10<tspan dx="0.6" dy="-2.6" font-size="4.8">6</tspan></text>
<text x="271.8" y="682.7" font-family='"Liberation Sans", Arial, Helvetica, sans-serif' font-size="9.2" text-anchor="middle" fill="#111">10<tspan dx="0.6" dy="-6.7" font-size="4.8">7</tspan></text>
<text x="62.8" y="459.8" font-family='"Liberation Sans", Arial, Helvetica, sans-serif' font-size="9.2" text-anchor="end" fill="#111">10<tspan dx="0.6" dy="-2.6" font-size="4.8">7</tspan></text>
<text x="0" y="0" transform="translate(169 705.3) scale(0.94 1)" font-family='"DejaVu Sans", "Liberation Sans", Verdana, sans-serif' font-size="14.4" text-anchor="middle">FITC-H</text>
<text x="0" y="0" transform="translate(44.1 564.25) rotate(-90) scale(0.94 1)" font-family='"DejaVu Sans", "Liberation Sans", Verdana, sans-serif' font-size="14.4" text-anchor="middle">PI-H</text>
</g>
<g id="flow2">
<text x="457.8" y="452.4" font-family='"Liberation Sans", Arial, Helvetica, sans-serif' font-size="23.9" text-anchor="middle">H<tspan dy="0.643em" font-size="56%">2</tspan><tspan dy="-0.36em">O</tspan><tspan dy="0.643em" font-size="56%">2</tspan></text>
<rect x="367.6" y="461.8" width="203.4" height="203.8" fill="#fff" stroke="#bdbdbd" stroke-width="1.2"/>
<path d="M367.6 665.6v5.8M377.8 665.6v3M383.77 665.6v3M388.01 665.6v3M391.3 665.6v3M393.98 665.6v3M396.25 665.6v3M398.21 665.6v3M399.95 665.6v3M401.5 665.6v5.8M411.7 665.6v3M417.67 665.6v3M421.91 665.6v3M425.2 665.6v3M427.88 665.6v3M430.15 665.6v3M432.11 665.6v3M433.85 665.6v3M435.4 665.6v5.8M445.6 665.6v3M451.57 665.6v3M455.81 665.6v3M459.1 665.6v3M461.78 665.6v3M464.05 665.6v3M466.01 665.6v3M467.75 665.6v3M469.3 665.6v5.8M479.5 665.6v3M485.47 665.6v3M489.71 665.6v3M493 665.6v3M495.68 665.6v3M497.95 665.6v3M499.91 665.6v3M501.65 665.6v3M503.2 665.6v5.8M513.4 665.6v3M519.37 665.6v3M523.61 665.6v3M526.9 665.6v3M529.58 665.6v3M531.85 665.6v3M533.81 665.6v3M535.55 665.6v3M537.1 665.6v5.8M547.3 665.6v3M553.27 665.6v3M557.51 665.6v3M560.8 665.6v3M563.48 665.6v3M565.75 665.6v3M567.71 665.6v3M569.45 665.6v3M571 665.6v5.8" stroke="#ababab" stroke-width="0.9" fill="none"/>
<path d="M367.6 665.6h-5.8M367.6 655.38h-3M367.6 649.39h-3M367.6 645.15h-3M367.6 641.86h-3M367.6 639.17h-3M367.6 636.89h-3M367.6 634.93h-3M367.6 633.19h-3M367.6 631.63h-5.8M367.6 621.41h-3M367.6 615.43h-3M367.6 611.18h-3M367.6 607.89h-3M367.6 605.2h-3M367.6 602.93h-3M367.6 600.96h-3M367.6 599.22h-3M367.6 597.67h-5.8M367.6 587.44h-3M367.6 581.46h-3M367.6 577.22h-3M367.6 573.92h-3M367.6 571.24h-3M367.6 568.96h-3M367.6 566.99h-3M367.6 565.25h-3M367.6 563.7h-5.8M367.6 553.48h-3M367.6 547.49h-3M367.6 543.25h-3M367.6 539.96h-3M367.6 537.27h-3M367.6 534.99h-3M367.6 533.03h-3M367.6 531.29h-3M367.6 529.73h-5.8M367.6 519.51h-3M367.6 513.53h-3M367.6 509.28h-3M367.6 505.99h-3M367.6 503.3h-3M367.6 501.03h-3M367.6 499.06h-3M367.6 497.32h-3M367.6 495.77h-5.8M367.6 485.54h-3M367.6 479.56h-3M367.6 475.32h-3M367.6 472.02h-3M367.6 469.34h-3M367.6 467.06h-3M367.6 465.09h-3M367.6 463.35h-3M367.6 461.8h-5.8" stroke="#ababab" stroke-width="0.9" fill="none"/>
<path d="M442 569h1.25M418 571h1.25M454 572h1.25M448 573h1.25M427 576h1.25M424 579h1.25M444 579h1.25M418 580h1.25M425 580h1.25M411 581h1.25M413 581h1.25M429 581h1.25M436 581h1.25M443 581h1.25M466 581h1.25M410 582h1.25M412 582h1.25M419 582h1.25M422 582h1.25M436 582h1.25M438 582h1.25M411 583h1.25M436 583h1.25M439 583h1.25M453 583h1.25M506 583h1.25M410 584h1.25M411 584h1.25M412 584h1.25M415 584h1.25M417 584h1.25M418 584h1.25M425 584h1.25M427 584h1.25M451 584h1.25M400 585h1.25M404 585h1.25M407 585h1.25M408 585h1.25M414 585h1.25M421 585h1.25M407 586h1.25M412 586h1.25M413 586h1.25M414 586h1.25M415 586h1.25M417 586h1.25M451 586h1.25M470 586h1.25M416 587h1.25M425 587h1.25M427 587h1.25M429 587h1.25M441 587h1.25M444 587h1.25M449 587h1.25M502 587h1.25M410 588h1.25M415 588h1.25M418 588h1.25M421 588h1.25M426 588h1.25M428 588h1.25M433 588h1.25M434 588h1.25M407 589h1.25M410 589h1.25M412 589h1.25M418 589h1.25M420 589h1.25M426 589h1.25M430 589h1.25M450 589h1.25M411 590h1.25M421 590h1.25M423 590h1.25M424 590h1.25M442 590h1.25M444 590h1.25M400 591h1.25M409 591h1.25M414 591h1.25M419 591h1.25M425 591h1.25M429 591h1.25M439 591h1.25M443 591h1.25M450 591h1.25M508 591h1.25M399 592h1.25M411 592h1.25M412 592h1.25M423 592h1.25M434 592h1.25M402 593h1.25M414 593h1.25M422 593h1.25M423 593h1.25M424 593h1.25M440 593h1.25M407 594h1.25M416 594h1.25M422 594h1.25M405 595h1.25M411 595h1.25M413 595h1.25M419 595h1.25M424 595h1.25M431 595h1.25M456 595h1.25M407 596h1.25M415 596h1.25M417 596h1.25M418 596h1.25M425 596h1.25M434 596h1.25M436 596h1.25M407 597h1.25M416 597h1.25M428 597h1.25M412 598h1.25M416 598h1.25M418 598h1.25M418 599h1.25M419 599h1.25M421 599h1.25M413 600h1.25M421 600h1.25M471 600h1.25M418 601h1.25M419 601h1.25M424 601h1.25M411 602h1.25M417 602h1.25M419 602h1.25M426 602h1.25M444 602h1.25M411 603h1.25M414 603h1.25M415 603h1.25M417 603h1.25M418 603h1.25M419 603h1.25M421 603h1.25M408 604h1.25M411 604h1.25M416 604h1.25M434 604h1.25M440 604h1.25M408 605h1.25M411 605h1.25M415 605h1.25M417 605h1.25M419 605h1.25M427 605h1.25M420 606h1.25M412 608h1.25M414 608h1.25M418 608h1.25M419 608h1.25M411 609h1.25M412 609h1.25M413 609h1.25M414 609h1.25M416 609h1.25M418 609h1.25M421 609h1.25M422 609h1.25M428 609h1.25M409 610h1.25M414 610h1.25M432 610h1.25M435 610h1.25M405 611h1.25M409 611h1.25M414 611h1.25M415 611h1.25M417 611h1.25M429 611h1.25M436 611h1.25M481 611h1.25M405 612h1.25M406 612h1.25M411 612h1.25M412 612h1.25M413 612h1.25M414 612h1.25M415 612h1.25M416 612h1.25M417 612h1.25M420 612h1.25M431 612h1.25M435 612h1.25M441 612h1.25M384 613h1.25M404 613h1.25M408 613h1.25M410 613h1.25M411 613h1.25M412 613h1.25M413 613h1.25M414 613h1.25M419 613h1.25M421 613h1.25M422 613h1.25M423 613h1.25M425 613h1.25M442 613h1.25M454 613h1.25M409 614h1.25M410 614h1.25M411 614h1.25M416 614h1.25M418 614h1.25M422 614h1.25M423 614h1.25M432 614h1.25M434 614h1.25M400 615h1.25M401 615h1.25M406 615h1.25M408 615h1.25M410 615h1.25M411 615h1.25M412 615h1.25M413 615h1.25M414 615h1.25M415 615h1.25M416 615h1.25M417 615h1.25M421 615h1.25M422 615h1.25M423 615h1.25M433 615h1.25M435 615h1.25M442 615h1.25M396 616h1.25M407 616h1.25M408 616h1.25M410 616h1.25M419 616h1.25M420 616h1.25M425 616h1.25M426 616h1.25M404 617h1.25M405 617h1.25M406 617h1.25M407 617h1.25M417 617h1.25M419 617h1.25M420 617h1.25M423 617h1.25M435 617h1.25M441 617h1.25M406 618h1.25M418 618h1.25M421 618h1.25M427 618h1.25M430 618h1.25M445 618h1.25M401 619h1.25M406 619h1.25M408 619h1.25M419 619h1.25M420 619h1.25M421 619h1.25M424 619h1.25M426 619h1.25M427 619h1.25M403 620h1.25M404 620h1.25M420 620h1.25M421 620h1.25M429 620h1.25M439 620h1.25M402 621h1.25M406 621h1.25M419 621h1.25M420 621h1.25M425 621h1.25M427 621h1.25M428 621h1.25M432 621h1.25M402 622h1.25M404 622h1.25M405 622h1.25M419 622h1.25M422 622h1.25M423 622h1.25M427 622h1.25M431 622h1.25M436 622h1.25M437 622h1.25M396 623h1.25M401 623h1.25M404 623h1.25M406 623h1.25M439 623h1.25M400 624h1.25M401 624h1.25M404 624h1.25M420 624h1.25M427 624h1.25M391 625h1.25M401 625h1.25M403 625h1.25M421 625h1.25M423 625h1.25M424 625h1.25M429 625h1.25M433 625h1.25M438 625h1.25M402 626h1.25M421 626h1.25M425 626h1.25M428 626h1.25M430 626h1.25M434 626h1.25M439 626h1.25M404 627h1.25M418 627h1.25M420 627h1.25M421 627h1.25M422 627h1.25M424 627h1.25M426 627h1.25M438 627h1.25M393 628h1.25M394 628h1.25M395 628h1.25M398 628h1.25M401 628h1.25M402 628h1.25M403 628h1.25M419 628h1.25M421 628h1.25M389 629h1.25M400 629h1.25M402 629h1.25M403 629h1.25M404 629h1.25M419 629h1.25M420 629h1.25M422 629h1.25M437 629h1.25M397 630h1.25M399 630h1.25M400 630h1.25M403 630h1.25M418 630h1.25M419 630h1.25M421 630h1.25M401 631h1.25M403 631h1.25M419 631h1.25M421 631h1.25M437 631h1.25M397 632h1.25M402 632h1.25M403 632h1.25M419 632h1.25M420 632h1.25M437 632h1.25M401 633h1.25M402 633h1.25M417 633h1.25M418 633h1.25M400 634h1.25M401 634h1.25M402 634h1.25M415 634h1.25M416 634h1.25M418 634h1.25M419 634h1.25M433 634h1.25M370 635h1.25M397 635h1.25M399 635h1.25M400 635h1.25M401 635h1.25M402 635h1.25M403 635h1.25M418 635h1.25M425 635h1.25M398 636h1.25M399 636h1.25M401 636h1.25M402 636h1.25M404 636h1.25M415 636h1.25M416 636h1.25M392 637h1.25M397 637h1.25M398 637h1.25M402 637h1.25M403 637h1.25M414 637h1.25M415 637h1.25M416 637h1.25M419 637h1.25M398 638h1.25M400 638h1.25M401 638h1.25M402 638h1.25M403 638h1.25M414 638h1.25M415 638h1.25M423 638h1.25M397 639h1.25M401 639h1.25M403 639h1.25M407 639h1.25M408 639h1.25M410 639h1.25M411 639h1.25M412 639h1.25M414 639h1.25M415 639h1.25M393 640h1.25M400 640h1.25M401 640h1.25M402 640h1.25M404 640h1.25M405 640h1.25M406 640h1.25M407 640h1.25M408 640h1.25M409 640h1.25M411 640h1.25M418 640h1.25M383 641h1.25M390 641h1.25M403 641h1.25M405 641h1.25M406 641h1.25M407 641h1.25M408 641h1.25M409 641h1.25M410 641h1.25M413 641h1.25M393 642h1.25M398 642h1.25M403 642h1.25M406 642h1.25M407 642h1.25M408 642h1.25M409 642h1.25M410 642h1.25M414 642h1.25M386 643h1.25M403 643h1.25M404 643h1.25M406 643h1.25M409 643h1.25M400 644h1.25M402 644h1.25M403 644h1.25M406 644h1.25M407 644h1.25M411 644h1.25M415 644h1.25M382 645h1.25M388 645h1.25M400 645h1.25M401 645h1.25M411 645h1.25M412 645h1.25M415 645h1.25M417 645h1.25M411 646h1.25M414 646h1.25M405 647h1.25M408 647h1.25M403 648h1.25M408 648h1.25M409 648h1.25M403 649h1.25M410 649h1.25M399 650h1.25M400 650h1.25M398 654h1.25M400 654h1.25M405 655h1.25M400 657h1.25" stroke="#141414" stroke-width="1.25" fill="none" opacity="0.92"/>
<path d="M415 612h1.25M413 613h1.25M415 613h1.25M416 613h1.25M417 613h1.25M418 613h1.25M412 614h1.25M414 614h1.25M415 614h1.25M417 614h1.25M409 615h1.25M418 615h1.25M419 615h1.25M409 616h1.25M408 617h1.25M418 617h1.25M419 618h1.25M420 618h1.25M407 619h1.25M405 621h1.25M420 622h1.25M420 623h1.25M419 624h1.25M404 625h1.25M419 625h1.25M403 626h1.25M419 626h1.25M402 627h1.25M403 627h1.25M419 627h1.25M417 631h1.25M418 631h1.25M417 632h1.25M403 634h1.25M403 635h1.25M404 637h1.25M413 637h1.25M404 638h1.25M405 638h1.25M412 638h1.25M413 638h1.25M404 639h1.25M405 639h1.25M409 639h1.25M410 640h1.25" stroke="#f9e11e" stroke-width="1.25" fill="none"/>
<path d="M417 610h1.25M419 611h1.25M419 612h1.25M408 614h1.25M413 614h1.25M406 616h1.25M411 616h1.25M412 616h1.25M414 616h1.25M415 616h1.25M416 616h1.25M417 616h1.25M418 616h1.25M409 617h1.25M410 617h1.25M412 617h1.25M415 617h1.25M416 617h1.25M419 617h1.25M407 618h1.25M408 618h1.25M409 618h1.25M410 618h1.25M411 618h1.25M417 618h1.25M422 618h1.25M409 619h1.25M417 619h1.25M418 619h1.25M419 619h1.25M406 620h1.25M407 620h1.25M408 620h1.25M418 620h1.25M419 620h1.25M422 620h1.25M407 621h1.25M406 622h1.25M407 622h1.25M421 622h1.25M405 623h1.25M418 623h1.25M419 623h1.25M421 623h1.25M405 624h1.25M406 624h1.25M417 624h1.25M418 624h1.25M421 624h1.25M405 625h1.25M406 625h1.25M418 625h1.25M420 625h1.25M404 626h1.25M405 626h1.25M418 626h1.25M420 626h1.25M405 627h1.25M417 627h1.25M404 628h1.25M417 628h1.25M418 628h1.25M420 628h1.25M405 629h1.25M418 629h1.25M401 630h1.25M402 630h1.25M416 630h1.25M417 630h1.25M402 631h1.25M404 631h1.25M405 631h1.25M404 632h1.25M416 632h1.25M403 633h1.25M404 633h1.25M415 633h1.25M416 633h1.25M404 634h1.25M405 634h1.25M406 634h1.25M414 634h1.25M404 635h1.25M405 635h1.25M413 635h1.25M414 635h1.25M415 635h1.25M403 636h1.25M405 636h1.25M406 636h1.25M407 636h1.25M411 636h1.25M412 636h1.25M413 636h1.25M414 636h1.25M405 637h1.25M406 637h1.25M410 637h1.25M411 637h1.25M412 637h1.25M406 638h1.25M407 638h1.25M408 638h1.25M409 638h1.25M410 638h1.25M411 638h1.25M406 639h1.25M412 640h1.25M413 640h1.25M414 640h1.25M408 644h1.25" stroke="#f7cf1c" stroke-width="1.25" fill="none"/>
<path d="M413 616h1.25M411 617h1.25M413 617h1.25M414 617h1.25M412 618h1.25M413 618h1.25M414 618h1.25M415 618h1.25M416 618h1.25M410 619h1.25M411 619h1.25M412 619h1.25M415 619h1.25M416 619h1.25M409 620h1.25M411 620h1.25M416 620h1.25M417 620h1.25M408 621h1.25M409 621h1.25M410 621h1.25M416 621h1.25M417 621h1.25M418 621h1.25M408 622h1.25M409 622h1.25M417 622h1.25M418 622h1.25M407 623h1.25M408 623h1.25M417 623h1.25M407 624h1.25M407 625h1.25M416 625h1.25M417 625h1.25M406 626h1.25M407 626h1.25M416 626h1.25M417 626h1.25M406 627h1.25M405 628h1.25M406 628h1.25M416 628h1.25M416 629h1.25M417 629h1.25M404 630h1.25M405 630h1.25M415 630h1.25M406 631h1.25M414 631h1.25M415 631h1.25M416 631h1.25M405 632h1.25M414 632h1.25M415 632h1.25M405 633h1.25M406 633h1.25M407 633h1.25M410 633h1.25M412 633h1.25M413 633h1.25M414 633h1.25M407 634h1.25M408 634h1.25M412 634h1.25M413 634h1.25M406 635h1.25M407 635h1.25M408 635h1.25M411 635h1.25M412 635h1.25M408 636h1.25M409 636h1.25M410 636h1.25M407 637h1.25M408 637h1.25M409 637h1.25" stroke="#f3a61f" stroke-width="1.25" fill="none"/>
<path d="M413 619h1.25M414 619h1.25M410 620h1.25M413 620h1.25M414 620h1.25M415 620h1.25M411 621h1.25M412 621h1.25M415 621h1.25M410 622h1.25M414 622h1.25M415 622h1.25M416 622h1.25M409 623h1.25M410 623h1.25M414 623h1.25M415 623h1.25M416 623h1.25M408 624h1.25M409 624h1.25M415 624h1.25M416 624h1.25M415 625h1.25M411 626h1.25M414 626h1.25M415 626h1.25M407 627h1.25M408 627h1.25M410 627h1.25M414 627h1.25M416 627h1.25M407 628h1.25M415 628h1.25M406 629h1.25M407 629h1.25M408 629h1.25M415 629h1.25M406 630h1.25M407 630h1.25M408 630h1.25M414 630h1.25M407 631h1.25M413 631h1.25M406 632h1.25M407 632h1.25M412 632h1.25M408 633h1.25M411 633h1.25M409 634h1.25M410 634h1.25M411 634h1.25M409 635h1.25M410 635h1.25" stroke="#ee8024" stroke-width="1.25" fill="none"/>
<path d="M412 620h1.25M413 621h1.25M414 621h1.25M412 622h1.25M413 622h1.25M413 623h1.25M410 624h1.25M411 624h1.25M414 624h1.25M408 625h1.25M409 625h1.25M413 625h1.25M414 625h1.25M409 627h1.25M415 627h1.25M409 628h1.25M414 628h1.25M410 629h1.25M413 629h1.25M414 629h1.25M409 630h1.25M413 630h1.25M408 631h1.25M409 631h1.25M411 631h1.25M412 631h1.25M408 632h1.25M409 632h1.25M410 632h1.25M413 632h1.25M409 633h1.25" stroke="#e6592a" stroke-width="1.25" fill="none"/>
<path d="M411 622h1.25M411 623h1.25M412 623h1.25M412 624h1.25M413 624h1.25M410 625h1.25M411 625h1.25M412 625h1.25M408 626h1.25M409 626h1.25M410 626h1.25M412 626h1.25M413 626h1.25M411 627h1.25M412 627h1.25M413 627h1.25M408 628h1.25M410 628h1.25M411 628h1.25M412 628h1.25M413 628h1.25M409 629h1.25M411 629h1.25M412 629h1.25M410 630h1.25M411 630h1.25M412 630h1.25M410 631h1.25M411 632h1.25" stroke="#dc3a2c" stroke-width="1.25" fill="none"/>
<line x1="421.6" y1="461.8" x2="421.6" y2="665.6" stroke="#8a8a8a" stroke-width="1.6"/>
<line x1="367.6" y1="604.8" x2="571" y2="604.8" stroke="#8a8a8a" stroke-width="1.6"/>
<text x="371.2" y="478.4" font-family='"DejaVu Sans", "Liberation Sans", Verdana, sans-serif' font-size="15.4" font-weight="bold" fill="#9a9a9a">2.6...</text>
<text x="565.8" y="478.4" font-family='"DejaVu Sans", "Liberation Sans", Verdana, sans-serif' font-size="15.4" font-weight="bold" text-anchor="end" fill="#9a9a9a">1.811%</text>
<text x="371.2" y="660.2" font-family='"DejaVu Sans", "Liberation Sans", Verdana, sans-serif' font-size="15.4" font-weight="bold" fill="#9a9a9a">94...</text>
<text x="565.8" y="660.2" font-family='"DejaVu Sans", "Liberation Sans", Verdana, sans-serif' font-size="15.4" font-weight="bold" text-anchor="end" fill="#9a9a9a">1.483%</text>
<text x="365" y="682.8" font-family='"Liberation Sans", Arial, Helvetica, sans-serif' font-size="9.2" text-anchor="middle" fill="#111">10<tspan dx="0.6" dy="-6.7" font-size="4.8">1</tspan></text>
<text x="362" y="664.4" font-family='"Liberation Sans", Arial, Helvetica, sans-serif' font-size="9.2" text-anchor="end" fill="#111">10<tspan dx="0.6" dy="-2.6" font-size="4.8">1</tspan></text>
<text x="398.9" y="682.8" font-family='"Liberation Sans", Arial, Helvetica, sans-serif' font-size="9.2" text-anchor="middle" fill="#111">10<tspan dx="0.6" dy="-6.7" font-size="4.8">2</tspan></text>
<text x="362" y="630.43" font-family='"Liberation Sans", Arial, Helvetica, sans-serif' font-size="9.2" text-anchor="end" fill="#111">10<tspan dx="0.6" dy="-2.6" font-size="4.8">2</tspan></text>
<text x="432.8" y="682.8" font-family='"Liberation Sans", Arial, Helvetica, sans-serif' font-size="9.2" text-anchor="middle" fill="#111">10<tspan dx="0.6" dy="-6.7" font-size="4.8">3</tspan></text>
<text x="362" y="596.47" font-family='"Liberation Sans", Arial, Helvetica, sans-serif' font-size="9.2" text-anchor="end" fill="#111">10<tspan dx="0.6" dy="-2.6" font-size="4.8">3</tspan></text>
<text x="466.7" y="682.8" font-family='"Liberation Sans", Arial, Helvetica, sans-serif' font-size="9.2" text-anchor="middle" fill="#111">10<tspan dx="0.6" dy="-6.7" font-size="4.8">4</tspan></text>
<text x="362" y="562.5" font-family='"Liberation Sans", Arial, Helvetica, sans-serif' font-size="9.2" text-anchor="end" fill="#111">10<tspan dx="0.6" dy="-2.6" font-size="4.8">4</tspan></text>
<text x="500.6" y="682.8" font-family='"Liberation Sans", Arial, Helvetica, sans-serif' font-size="9.2" text-anchor="middle" fill="#111">10<tspan dx="0.6" dy="-6.7" font-size="4.8">5</tspan></text>
<text x="362" y="528.53" font-family='"Liberation Sans", Arial, Helvetica, sans-serif' font-size="9.2" text-anchor="end" fill="#111">10<tspan dx="0.6" dy="-2.6" font-size="4.8">5</tspan></text>
<text x="534.5" y="682.8" font-family='"Liberation Sans", Arial, Helvetica, sans-serif' font-size="9.2" text-anchor="middle" fill="#111">10<tspan dx="0.6" dy="-6.7" font-size="4.8">6</tspan></text>
<text x="362" y="494.57" font-family='"Liberation Sans", Arial, Helvetica, sans-serif' font-size="9.2" text-anchor="end" fill="#111">10<tspan dx="0.6" dy="-2.6" font-size="4.8">6</tspan></text>
<text x="568.4" y="682.8" font-family='"Liberation Sans", Arial, Helvetica, sans-serif' font-size="9.2" text-anchor="middle" fill="#111">10<tspan dx="0.6" dy="-6.7" font-size="4.8">7</tspan></text>
<text x="362" y="460.6" font-family='"Liberation Sans", Arial, Helvetica, sans-serif' font-size="9.2" text-anchor="end" fill="#111">10<tspan dx="0.6" dy="-2.6" font-size="4.8">7</tspan></text>
<text x="0" y="0" transform="translate(466.3 705.3) scale(0.94 1)" font-family='"DejaVu Sans", "Liberation Sans", Verdana, sans-serif' font-size="14.4" text-anchor="middle">FITC-H</text>
<text x="0" y="0" transform="translate(343.3 564.7) rotate(-90) scale(0.94 1)" font-family='"DejaVu Sans", "Liberation Sans", Verdana, sans-serif' font-size="14.4" text-anchor="middle">PI-H</text>
</g>
<g id="flow3">
<text x="780.6" y="448" font-family='"Liberation Sans", Arial, Helvetica, sans-serif' font-size="23.9" text-anchor="middle">H<tspan dy="0.643em" font-size="56%">2</tspan><tspan dy="-0.36em">O</tspan><tspan dy="0.643em" font-size="56%">2</tspan><tspan dy="-0.36em">+si-NC</tspan></text>
<rect x="678.4" y="459.8" width="203.8" height="201.9" fill="#fff" stroke="#bdbdbd" stroke-width="1.2"/>
<path d="M678.4 661.7v5.8M688.62 661.7v3M694.61 661.7v3M698.85 661.7v3M702.14 661.7v3M704.83 661.7v3M707.11 661.7v3M709.07 661.7v3M710.81 661.7v3M712.37 661.7v5.8M722.59 661.7v3M728.57 661.7v3M732.82 661.7v3M736.11 661.7v3M738.8 661.7v3M741.07 661.7v3M743.04 661.7v3M744.78 661.7v3M746.33 661.7v5.8M756.56 661.7v3M762.54 661.7v3M766.78 661.7v3M770.08 661.7v3M772.76 661.7v3M775.04 661.7v3M777.01 661.7v3M778.75 661.7v3M780.3 661.7v5.8M790.52 661.7v3M796.51 661.7v3M800.75 661.7v3M804.04 661.7v3M806.73 661.7v3M809.01 661.7v3M810.97 661.7v3M812.71 661.7v3M814.27 661.7v5.8M824.49 661.7v3M830.47 661.7v3M834.72 661.7v3M838.01 661.7v3M840.7 661.7v3M842.97 661.7v3M844.94 661.7v3M846.68 661.7v3M848.23 661.7v5.8M858.46 661.7v3M864.44 661.7v3M868.68 661.7v3M871.98 661.7v3M874.66 661.7v3M876.94 661.7v3M878.91 661.7v3M880.65 661.7v3M882.2 661.7v5.8" stroke="#ababab" stroke-width="0.9" fill="none"/>
<path d="M678.4 661.7h-5.8M678.4 651.57h-3M678.4 645.64h-3M678.4 641.44h-3M678.4 638.18h-3M678.4 635.52h-3M678.4 633.26h-3M678.4 631.31h-3M678.4 629.59h-3M678.4 628.05h-5.8M678.4 617.92h-3M678.4 611.99h-3M678.4 607.79h-3M678.4 604.53h-3M678.4 601.87h-3M678.4 599.61h-3M678.4 597.66h-3M678.4 595.94h-3M678.4 594.4h-5.8M678.4 584.27h-3M678.4 578.34h-3M678.4 574.14h-3M678.4 570.88h-3M678.4 568.22h-3M678.4 565.96h-3M678.4 564.01h-3M678.4 562.29h-3M678.4 560.75h-5.8M678.4 550.62h-3M678.4 544.69h-3M678.4 540.49h-3M678.4 537.23h-3M678.4 534.57h-3M678.4 532.31h-3M678.4 530.36h-3M678.4 528.64h-3M678.4 527.1h-5.8M678.4 516.97h-3M678.4 511.04h-3M678.4 506.84h-3M678.4 503.58h-3M678.4 500.92h-3M678.4 498.66h-3M678.4 496.71h-3M678.4 494.99h-3M678.4 493.45h-5.8M678.4 483.32h-3M678.4 477.39h-3M678.4 473.19h-3M678.4 469.93h-3M678.4 467.27h-3M678.4 465.01h-3M678.4 463.06h-3M678.4 461.34h-3M678.4 459.8h-5.8" stroke="#ababab" stroke-width="0.9" fill="none"/>
<path d="M741 556h1.25M730 560h1.25M750 560h1.25M744 565h1.25M752 566h1.25M726 569h1.25M728 569h1.25M748 569h1.25M745 570h1.25M769 570h1.25M713 571h1.25M750 571h1.25M751 571h1.25M737 573h1.25M757 573h1.25M772 573h1.25M782 573h1.25M724 574h1.25M756 574h1.25M789 574h1.25M732 575h1.25M741 575h1.25M749 575h1.25M739 576h1.25M761 576h1.25M769 576h1.25M731 577h1.25M738 577h1.25M721 578h1.25M724 578h1.25M744 578h1.25M759 578h1.25M762 578h1.25M714 579h1.25M726 579h1.25M735 579h1.25M738 579h1.25M721 580h1.25M722 580h1.25M724 580h1.25M726 580h1.25M730 580h1.25M764 580h1.25M724 581h1.25M727 581h1.25M729 581h1.25M730 581h1.25M741 581h1.25M742 581h1.25M764 581h1.25M767 581h1.25M728 582h1.25M731 582h1.25M754 582h1.25M755 582h1.25M758 582h1.25M766 582h1.25M767 582h1.25M768 582h1.25M769 582h1.25M716 583h1.25M717 583h1.25M719 583h1.25M726 583h1.25M728 583h1.25M736 583h1.25M775 583h1.25M778 583h1.25M720 584h1.25M724 584h1.25M726 584h1.25M747 584h1.25M764 584h1.25M717 585h1.25M720 585h1.25M721 585h1.25M723 585h1.25M731 585h1.25M749 585h1.25M759 585h1.25M762 585h1.25M716 586h1.25M718 586h1.25M723 586h1.25M731 586h1.25M742 586h1.25M754 586h1.25M759 586h1.25M762 586h1.25M718 587h1.25M720 587h1.25M721 587h1.25M723 587h1.25M729 587h1.25M730 587h1.25M732 587h1.25M762 587h1.25M772 587h1.25M791 587h1.25M712 588h1.25M715 588h1.25M726 588h1.25M730 588h1.25M736 588h1.25M751 588h1.25M724 589h1.25M731 589h1.25M744 589h1.25M753 589h1.25M765 589h1.25M767 589h1.25M717 590h1.25M724 590h1.25M725 590h1.25M734 590h1.25M740 590h1.25M713 591h1.25M725 591h1.25M726 591h1.25M741 591h1.25M752 591h1.25M719 592h1.25M724 592h1.25M728 592h1.25M730 592h1.25M733 592h1.25M735 592h1.25M723 593h1.25M731 593h1.25M739 593h1.25M758 593h1.25M725 594h1.25M727 594h1.25M743 594h1.25M764 594h1.25M727 595h1.25M728 595h1.25M748 595h1.25M752 595h1.25M762 595h1.25M766 595h1.25M722 596h1.25M723 596h1.25M724 596h1.25M735 596h1.25M750 596h1.25M765 596h1.25M713 597h1.25M730 597h1.25M733 597h1.25M736 597h1.25M721 598h1.25M725 598h1.25M732 598h1.25M733 598h1.25M734 598h1.25M735 598h1.25M741 598h1.25M747 598h1.25M718 599h1.25M722 599h1.25M725 599h1.25M729 599h1.25M731 599h1.25M732 599h1.25M768 599h1.25M722 600h1.25M724 600h1.25M726 600h1.25M730 600h1.25M723 601h1.25M725 601h1.25M727 601h1.25M728 601h1.25M739 601h1.25M747 601h1.25M751 601h1.25M757 601h1.25M725 602h1.25M728 602h1.25M729 602h1.25M730 602h1.25M715 603h1.25M725 603h1.25M726 603h1.25M739 603h1.25M740 603h1.25M722 604h1.25M726 604h1.25M729 604h1.25M731 604h1.25M733 604h1.25M720 605h1.25M726 605h1.25M728 605h1.25M745 605h1.25M752 605h1.25M722 606h1.25M723 606h1.25M725 606h1.25M728 606h1.25M729 606h1.25M730 606h1.25M733 606h1.25M738 606h1.25M746 606h1.25M724 607h1.25M726 607h1.25M728 607h1.25M741 607h1.25M746 607h1.25M759 607h1.25M721 608h1.25M725 608h1.25M726 608h1.25M730 608h1.25M744 608h1.25M767 608h1.25M714 609h1.25M720 609h1.25M722 609h1.25M724 609h1.25M727 609h1.25M728 609h1.25M729 609h1.25M730 609h1.25M734 609h1.25M735 609h1.25M749 609h1.25M715 610h1.25M717 610h1.25M721 610h1.25M722 610h1.25M723 610h1.25M724 610h1.25M728 610h1.25M731 610h1.25M732 610h1.25M745 610h1.25M748 610h1.25M754 610h1.25M718 611h1.25M720 611h1.25M722 611h1.25M723 611h1.25M726 611h1.25M727 611h1.25M729 611h1.25M730 611h1.25M731 611h1.25M733 611h1.25M737 611h1.25M739 611h1.25M711 612h1.25M716 612h1.25M720 612h1.25M721 612h1.25M722 612h1.25M729 612h1.25M731 612h1.25M733 612h1.25M734 612h1.25M735 612h1.25M736 612h1.25M743 612h1.25M746 612h1.25M747 612h1.25M748 612h1.25M749 612h1.25M750 612h1.25M761 612h1.25M714 613h1.25M719 613h1.25M722 613h1.25M725 613h1.25M729 613h1.25M730 613h1.25M731 613h1.25M732 613h1.25M733 613h1.25M734 613h1.25M735 613h1.25M736 613h1.25M740 613h1.25M741 613h1.25M742 613h1.25M745 613h1.25M747 613h1.25M753 613h1.25M759 613h1.25M713 614h1.25M715 614h1.25M716 614h1.25M717 614h1.25M718 614h1.25M728 614h1.25M731 614h1.25M732 614h1.25M733 614h1.25M734 614h1.25M735 614h1.25M743 614h1.25M753 614h1.25M707 615h1.25M718 615h1.25M719 615h1.25M731 615h1.25M732 615h1.25M733 615h1.25M734 615h1.25M735 615h1.25M757 615h1.25M717 616h1.25M718 616h1.25M733 616h1.25M742 616h1.25M756 616h1.25M714 617h1.25M715 617h1.25M716 617h1.25M729 617h1.25M731 617h1.25M732 617h1.25M734 617h1.25M753 617h1.25M754 617h1.25M704 618h1.25M709 618h1.25M713 618h1.25M715 618h1.25M733 618h1.25M752 618h1.25M756 618h1.25M761 618h1.25M702 619h1.25M712 619h1.25M715 619h1.25M731 619h1.25M732 619h1.25M735 619h1.25M748 619h1.25M709 620h1.25M714 620h1.25M729 620h1.25M730 620h1.25M732 620h1.25M734 620h1.25M742 620h1.25M755 620h1.25M758 620h1.25M710 621h1.25M713 621h1.25M714 621h1.25M732 621h1.25M739 621h1.25M756 621h1.25M765 621h1.25M706 622h1.25M711 622h1.25M714 622h1.25M731 622h1.25M736 622h1.25M739 622h1.25M710 623h1.25M713 623h1.25M730 623h1.25M731 623h1.25M732 623h1.25M740 623h1.25M744 623h1.25M708 624h1.25M710 624h1.25M731 624h1.25M732 624h1.25M734 624h1.25M738 624h1.25M740 624h1.25M742 624h1.25M748 624h1.25M702 625h1.25M711 625h1.25M713 625h1.25M734 625h1.25M736 625h1.25M740 625h1.25M755 625h1.25M700 626h1.25M707 626h1.25M711 626h1.25M712 626h1.25M713 626h1.25M715 626h1.25M728 626h1.25M729 626h1.25M730 626h1.25M747 626h1.25M709 627h1.25M714 627h1.25M731 627h1.25M732 627h1.25M734 627h1.25M705 628h1.25M707 628h1.25M709 628h1.25M711 628h1.25M712 628h1.25M727 628h1.25M728 628h1.25M729 628h1.25M746 628h1.25M747 628h1.25M752 628h1.25M705 629h1.25M711 629h1.25M712 629h1.25M728 629h1.25M729 629h1.25M731 629h1.25M732 629h1.25M736 629h1.25M741 629h1.25M694 630h1.25M699 630h1.25M703 630h1.25M707 630h1.25M708 630h1.25M710 630h1.25M711 630h1.25M712 630h1.25M729 630h1.25M730 630h1.25M696 631h1.25M702 631h1.25M711 631h1.25M713 631h1.25M727 631h1.25M728 631h1.25M729 631h1.25M730 631h1.25M732 631h1.25M701 632h1.25M710 632h1.25M711 632h1.25M712 632h1.25M714 632h1.25M724 632h1.25M726 632h1.25M727 632h1.25M732 632h1.25M733 632h1.25M684 633h1.25M703 633h1.25M708 633h1.25M711 633h1.25M712 633h1.25M713 633h1.25M721 633h1.25M722 633h1.25M725 633h1.25M726 633h1.25M727 633h1.25M695 634h1.25M709 634h1.25M710 634h1.25M712 634h1.25M725 634h1.25M726 634h1.25M728 634h1.25M708 635h1.25M710 635h1.25M711 635h1.25M713 635h1.25M730 635h1.25M735 635h1.25M700 636h1.25M713 636h1.25M714 636h1.25M715 636h1.25M721 636h1.25M722 636h1.25M727 636h1.25M729 636h1.25M708 637h1.25M710 637h1.25M715 637h1.25M716 637h1.25M718 637h1.25M719 637h1.25M720 637h1.25M721 637h1.25M723 637h1.25M727 637h1.25M696 638h1.25M707 638h1.25M709 638h1.25M713 638h1.25M718 638h1.25M719 638h1.25M720 638h1.25M722 638h1.25M724 638h1.25M727 638h1.25M730 638h1.25M709 639h1.25M710 639h1.25M714 639h1.25M715 639h1.25M718 639h1.25M719 639h1.25M743 639h1.25M688 640h1.25M699 640h1.25M705 640h1.25M709 640h1.25M711 640h1.25M716 640h1.25M717 640h1.25M718 640h1.25M719 640h1.25M720 640h1.25M722 640h1.25M698 641h1.25M705 641h1.25M712 641h1.25M713 641h1.25M716 641h1.25M717 641h1.25M722 641h1.25M727 641h1.25M734 641h1.25M710 642h1.25M712 642h1.25M716 642h1.25M719 642h1.25M720 642h1.25M725 642h1.25M682 643h1.25M708 643h1.25M711 643h1.25M716 643h1.25M718 643h1.25M697 644h1.25M707 644h1.25M704 645h1.25M714 645h1.25M719 645h1.25M720 645h1.25M706 646h1.25M713 647h1.25M714 647h1.25M719 647h1.25M713 648h1.25M727 648h1.25M708 649h1.25M695 650h1.25M714 650h1.25M711 652h1.25" stroke="#141414" stroke-width="1.25" fill="none" opacity="0.92"/>
<path d="M725 610h1.25M726 610h1.25M727 610h1.25M724 611h1.25M725 611h1.25M728 611h1.25M730 612h1.25M720 613h1.25M728 613h1.25M719 614h1.25M730 614h1.25M717 615h1.25M731 616h1.25M732 617h1.25M716 618h1.25M731 618h1.25M731 620h1.25M731 621h1.25M714 623h1.25M713 624h1.25M730 624h1.25M730 625h1.25M712 627h1.25M713 627h1.25M729 627h1.25M713 629h1.25M713 630h1.25M714 630h1.25M728 630h1.25M714 633h1.25M724 633h1.25M714 634h1.25M723 634h1.25M724 634h1.25M714 635h1.25M715 635h1.25M721 635h1.25M723 635h1.25M724 635h1.25M719 636h1.25M723 636h1.25M717 637h1.25" stroke="#f9e11e" stroke-width="1.25" fill="none"/>
<path d="M729 608h1.25M723 609h1.25M732 611h1.25M722 612h1.25M723 612h1.25M724 612h1.25M725 612h1.25M726 612h1.25M727 612h1.25M728 612h1.25M721 613h1.25M723 613h1.25M726 613h1.25M727 613h1.25M720 614h1.25M721 614h1.25M722 614h1.25M723 614h1.25M724 614h1.25M726 614h1.25M727 614h1.25M729 614h1.25M715 615h1.25M720 615h1.25M721 615h1.25M722 615h1.25M728 615h1.25M729 615h1.25M730 615h1.25M715 616h1.25M719 616h1.25M720 616h1.25M728 616h1.25M729 616h1.25M730 616h1.25M717 617h1.25M718 617h1.25M730 617h1.25M714 618h1.25M717 618h1.25M718 618h1.25M730 618h1.25M732 618h1.25M713 619h1.25M716 619h1.25M717 619h1.25M729 619h1.25M730 619h1.25M715 620h1.25M716 620h1.25M717 620h1.25M715 621h1.25M716 621h1.25M730 621h1.25M713 622h1.25M715 622h1.25M716 622h1.25M729 622h1.25M730 622h1.25M715 623h1.25M729 623h1.25M712 624h1.25M714 624h1.25M715 624h1.25M728 624h1.25M729 624h1.25M714 625h1.25M715 625h1.25M729 625h1.25M714 626h1.25M715 627h1.25M728 627h1.25M713 628h1.25M714 628h1.25M715 628h1.25M714 629h1.25M715 629h1.25M726 629h1.25M727 629h1.25M715 630h1.25M725 630h1.25M726 630h1.25M727 630h1.25M714 631h1.25M725 631h1.25M726 631h1.25M713 632h1.25M715 632h1.25M716 632h1.25M725 632h1.25M728 632h1.25M715 633h1.25M716 633h1.25M718 633h1.25M719 633h1.25M723 633h1.25M715 634h1.25M716 634h1.25M717 634h1.25M718 634h1.25M720 634h1.25M721 634h1.25M722 634h1.25M712 635h1.25M716 635h1.25M717 635h1.25M718 635h1.25M719 635h1.25M720 635h1.25M722 635h1.25M725 635h1.25M716 636h1.25M717 636h1.25M718 636h1.25M720 636h1.25M725 636h1.25M714 637h1.25M714 638h1.25M716 638h1.25M717 639h1.25M722 639h1.25" stroke="#f7cf1c" stroke-width="1.25" fill="none"/>
<path d="M724 613h1.25M725 614h1.25M723 615h1.25M724 615h1.25M725 615h1.25M726 615h1.25M727 615h1.25M721 616h1.25M724 616h1.25M726 616h1.25M727 616h1.25M719 617h1.25M720 617h1.25M721 617h1.25M722 617h1.25M725 617h1.25M727 617h1.25M728 617h1.25M719 618h1.25M720 618h1.25M728 618h1.25M729 618h1.25M718 619h1.25M719 619h1.25M727 619h1.25M728 619h1.25M718 620h1.25M728 620h1.25M717 621h1.25M718 621h1.25M728 621h1.25M729 621h1.25M717 622h1.25M727 622h1.25M728 622h1.25M716 623h1.25M717 623h1.25M728 623h1.25M716 624h1.25M725 624h1.25M727 624h1.25M716 625h1.25M717 625h1.25M727 625h1.25M728 625h1.25M716 626h1.25M726 626h1.25M727 626h1.25M717 627h1.25M725 627h1.25M726 627h1.25M727 627h1.25M716 628h1.25M725 628h1.25M726 628h1.25M716 629h1.25M724 629h1.25M725 629h1.25M716 630h1.25M717 630h1.25M723 630h1.25M724 630h1.25M715 631h1.25M716 631h1.25M718 631h1.25M720 631h1.25M721 631h1.25M722 631h1.25M723 631h1.25M724 631h1.25M717 632h1.25M718 632h1.25M719 632h1.25M720 632h1.25M721 632h1.25M722 632h1.25M723 632h1.25M717 633h1.25M720 633h1.25M719 634h1.25" stroke="#f3a61f" stroke-width="1.25" fill="none"/>
<path d="M722 616h1.25M723 616h1.25M725 616h1.25M723 617h1.25M724 617h1.25M726 617h1.25M721 618h1.25M722 618h1.25M726 618h1.25M727 618h1.25M723 619h1.25M725 619h1.25M719 620h1.25M726 620h1.25M727 620h1.25M719 621h1.25M724 621h1.25M726 621h1.25M718 622h1.25M719 622h1.25M718 623h1.25M726 623h1.25M727 623h1.25M717 624h1.25M726 624h1.25M718 625h1.25M725 625h1.25M726 625h1.25M717 626h1.25M718 626h1.25M725 626h1.25M716 627h1.25M718 627h1.25M717 628h1.25M723 628h1.25M724 628h1.25M717 629h1.25M718 629h1.25M719 629h1.25M720 629h1.25M721 629h1.25M723 629h1.25M718 630h1.25M721 630h1.25M722 630h1.25M717 631h1.25M719 631h1.25" stroke="#ee8024" stroke-width="1.25" fill="none"/>
<path d="M720 619h1.25M721 619h1.25M722 619h1.25M724 619h1.25M720 620h1.25M721 620h1.25M722 620h1.25M725 620h1.25M721 621h1.25M725 621h1.25M727 621h1.25M720 622h1.25M723 622h1.25M725 622h1.25M726 622h1.25M719 623h1.25M725 623h1.25M718 624h1.25M719 624h1.25M722 624h1.25M724 624h1.25M719 625h1.25M721 625h1.25M723 625h1.25M722 626h1.25M724 626h1.25M723 627h1.25M724 627h1.25M718 628h1.25M720 628h1.25M721 628h1.25M722 628h1.25M722 629h1.25M719 630h1.25M720 630h1.25" stroke="#e6592a" stroke-width="1.25" fill="none"/>
<path d="M723 618h1.25M724 618h1.25M725 618h1.25M726 619h1.25M723 620h1.25M724 620h1.25M720 621h1.25M722 621h1.25M723 621h1.25M721 622h1.25M722 622h1.25M724 622h1.25M720 623h1.25M721 623h1.25M722 623h1.25M723 623h1.25M724 623h1.25M720 624h1.25M721 624h1.25M723 624h1.25M720 625h1.25M722 625h1.25M724 625h1.25M719 626h1.25M720 626h1.25M721 626h1.25M723 626h1.25M719 627h1.25M720 627h1.25M721 627h1.25M722 627h1.25M719 628h1.25" stroke="#dc3a2c" stroke-width="1.25" fill="none"/>
<line x1="733.2" y1="459.8" x2="733.2" y2="661.7" stroke="#8a8a8a" stroke-width="1.6"/>
<line x1="678.4" y1="601.6" x2="882.2" y2="601.6" stroke="#8a8a8a" stroke-width="1.6"/>
<text x="682" y="476.4" font-family='"DejaVu Sans", "Liberation Sans", Verdana, sans-serif' font-size="15.4" font-weight="bold" fill="#9a9a9a">2.7...</text>
<text x="877" y="476.4" font-family='"DejaVu Sans", "Liberation Sans", Verdana, sans-serif' font-size="15.4" font-weight="bold" text-anchor="end" fill="#9a9a9a">2.020%</text>
<text x="682" y="656.3" font-family='"DejaVu Sans", "Liberation Sans", Verdana, sans-serif' font-size="15.4" font-weight="bold" fill="#9a9a9a">93...</text>
<text x="877" y="656.3" font-family='"DejaVu Sans", "Liberation Sans", Verdana, sans-serif' font-size="15.4" font-weight="bold" text-anchor="end" fill="#9a9a9a">1.660%</text>
<text x="675.8" y="678.9" font-family='"Liberation Sans", Arial, Helvetica, sans-serif' font-size="9.2" text-anchor="middle" fill="#111">10<tspan dx="0.6" dy="-6.7" font-size="4.8">1</tspan></text>
<text x="672.8" y="660.5" font-family='"Liberation Sans", Arial, Helvetica, sans-serif' font-size="9.2" text-anchor="end" fill="#111">10<tspan dx="0.6" dy="-2.6" font-size="4.8">1</tspan></text>
<text x="709.77" y="678.9" font-family='"Liberation Sans", Arial, Helvetica, sans-serif' font-size="9.2" text-anchor="middle" fill="#111">10<tspan dx="0.6" dy="-6.7" font-size="4.8">2</tspan></text>
<text x="672.8" y="626.85" font-family='"Liberation Sans", Arial, Helvetica, sans-serif' font-size="9.2" text-anchor="end" fill="#111">10<tspan dx="0.6" dy="-2.6" font-size="4.8">2</tspan></text>
<text x="743.73" y="678.9" font-family='"Liberation Sans", Arial, Helvetica, sans-serif' font-size="9.2" text-anchor="middle" fill="#111">10<tspan dx="0.6" dy="-6.7" font-size="4.8">3</tspan></text>
<text x="672.8" y="593.2" font-family='"Liberation Sans", Arial, Helvetica, sans-serif' font-size="9.2" text-anchor="end" fill="#111">10<tspan dx="0.6" dy="-2.6" font-size="4.8">3</tspan></text>
<text x="777.7" y="678.9" font-family='"Liberation Sans", Arial, Helvetica, sans-serif' font-size="9.2" text-anchor="middle" fill="#111">10<tspan dx="0.6" dy="-6.7" font-size="4.8">4</tspan></text>
<text x="672.8" y="559.55" font-family='"Liberation Sans", Arial, Helvetica, sans-serif' font-size="9.2" text-anchor="end" fill="#111">10<tspan dx="0.6" dy="-2.6" font-size="4.8">4</tspan></text>
<text x="811.67" y="678.9" font-family='"Liberation Sans", Arial, Helvetica, sans-serif' font-size="9.2" text-anchor="middle" fill="#111">10<tspan dx="0.6" dy="-6.7" font-size="4.8">5</tspan></text>
<text x="672.8" y="525.9" font-family='"Liberation Sans", Arial, Helvetica, sans-serif' font-size="9.2" text-anchor="end" fill="#111">10<tspan dx="0.6" dy="-2.6" font-size="4.8">5</tspan></text>
<text x="845.63" y="678.9" font-family='"Liberation Sans", Arial, Helvetica, sans-serif' font-size="9.2" text-anchor="middle" fill="#111">10<tspan dx="0.6" dy="-6.7" font-size="4.8">6</tspan></text>
<text x="672.8" y="492.25" font-family='"Liberation Sans", Arial, Helvetica, sans-serif' font-size="9.2" text-anchor="end" fill="#111">10<tspan dx="0.6" dy="-2.6" font-size="4.8">6</tspan></text>
<text x="879.6" y="678.9" font-family='"Liberation Sans", Arial, Helvetica, sans-serif' font-size="9.2" text-anchor="middle" fill="#111">10<tspan dx="0.6" dy="-6.7" font-size="4.8">7</tspan></text>
<text x="672.8" y="458.6" font-family='"Liberation Sans", Arial, Helvetica, sans-serif' font-size="9.2" text-anchor="end" fill="#111">10<tspan dx="0.6" dy="-2.6" font-size="4.8">7</tspan></text>
<text x="0" y="0" transform="translate(777.6 700.8) scale(0.94 1)" font-family='"DejaVu Sans", "Liberation Sans", Verdana, sans-serif' font-size="14.4" text-anchor="middle">FITC-H</text>
<text x="0" y="0" transform="translate(654.1 561.75) rotate(-90) scale(0.94 1)" font-family='"DejaVu Sans", "Liberation Sans", Verdana, sans-serif' font-size="14.4" text-anchor="middle">PI-H</text>
</g>
<g id="flow4">
<text x="177.8" y="742.4" font-family='"Liberation Sans", Arial, Helvetica, sans-serif' font-size="23.9" text-anchor="middle">H<tspan dy="0.643em" font-size="56%">2</tspan><tspan dy="-0.36em">O</tspan><tspan dy="0.643em" font-size="56%">2</tspan><tspan dy="-0.36em">+si-NRF2</tspan></text>
<rect x="70.4" y="752.6" width="204.6" height="203" fill="#fff" stroke="#bdbdbd" stroke-width="1.2"/>
<path d="M70.4 955.6v5.8M80.67 955.6v3M86.67 955.6v3M90.93 955.6v3M94.23 955.6v3M96.93 955.6v3M99.22 955.6v3M101.2 955.6v3M102.94 955.6v3M104.5 955.6v5.8M114.77 955.6v3M120.77 955.6v3M125.03 955.6v3M128.33 955.6v3M131.03 955.6v3M133.32 955.6v3M135.3 955.6v3M137.04 955.6v3M138.6 955.6v5.8M148.87 955.6v3M154.87 955.6v3M159.13 955.6v3M162.43 955.6v3M165.13 955.6v3M167.42 955.6v3M169.4 955.6v3M171.14 955.6v3M172.7 955.6v5.8M182.97 955.6v3M188.97 955.6v3M193.23 955.6v3M196.53 955.6v3M199.23 955.6v3M201.52 955.6v3M203.5 955.6v3M205.24 955.6v3M206.8 955.6v5.8M217.07 955.6v3M223.07 955.6v3M227.33 955.6v3M230.63 955.6v3M233.33 955.6v3M235.62 955.6v3M237.6 955.6v3M239.34 955.6v3M240.9 955.6v5.8M251.17 955.6v3M257.17 955.6v3M261.43 955.6v3M264.73 955.6v3M267.43 955.6v3M269.72 955.6v3M271.7 955.6v3M273.44 955.6v3M275 955.6v5.8" stroke="#ababab" stroke-width="0.9" fill="none"/>
<path d="M70.4 955.6h-5.8M70.4 945.42h-3M70.4 939.46h-3M70.4 935.23h-3M70.4 931.95h-3M70.4 929.27h-3M70.4 927.01h-3M70.4 925.05h-3M70.4 923.31h-3M70.4 921.77h-5.8M70.4 911.58h-3M70.4 905.62h-3M70.4 901.4h-3M70.4 898.12h-3M70.4 895.44h-3M70.4 893.17h-3M70.4 891.21h-3M70.4 889.48h-3M70.4 887.93h-5.8M70.4 877.75h-3M70.4 871.79h-3M70.4 867.56h-3M70.4 864.28h-3M70.4 861.61h-3M70.4 859.34h-3M70.4 857.38h-3M70.4 855.65h-3M70.4 854.1h-5.8M70.4 843.92h-3M70.4 837.96h-3M70.4 833.73h-3M70.4 830.45h-3M70.4 827.77h-3M70.4 825.51h-3M70.4 823.55h-3M70.4 821.81h-3M70.4 820.27h-5.8M70.4 810.08h-3M70.4 804.12h-3M70.4 799.9h-3M70.4 796.62h-3M70.4 793.94h-3M70.4 791.67h-3M70.4 789.71h-3M70.4 787.98h-3M70.4 786.43h-5.8M70.4 776.25h-3M70.4 770.29h-3M70.4 766.06h-3M70.4 762.78h-3M70.4 760.11h-3M70.4 757.84h-3M70.4 755.88h-3M70.4 754.15h-3M70.4 752.6h-5.8" stroke="#ababab" stroke-width="0.9" fill="none"/>
<path d="M111 855h1.25M127 859h1.25M159 862h1.25M164 862h1.25M166 862h1.25M116 863h1.25M126 863h1.25M136 863h1.25M145 863h1.25M148 863h1.25M117 864h1.25M118 864h1.25M125 864h1.25M161 864h1.25M163 865h1.25M103 866h1.25M127 866h1.25M130 866h1.25M142 866h1.25M142 867h1.25M144 867h1.25M105 868h1.25M115 868h1.25M116 868h1.25M122 868h1.25M129 868h1.25M141 868h1.25M149 868h1.25M114 869h1.25M116 869h1.25M120 870h1.25M125 870h1.25M178 870h1.25M103 871h1.25M112 871h1.25M113 871h1.25M120 871h1.25M125 871h1.25M141 871h1.25M187 871h1.25M116 872h1.25M119 872h1.25M130 872h1.25M147 872h1.25M156 872h1.25M157 872h1.25M159 872h1.25M182 872h1.25M188 872h1.25M114 873h1.25M116 873h1.25M117 873h1.25M118 873h1.25M119 873h1.25M120 873h1.25M121 873h1.25M130 873h1.25M146 873h1.25M149 873h1.25M113 874h1.25M117 874h1.25M118 874h1.25M122 874h1.25M128 874h1.25M131 874h1.25M132 874h1.25M139 874h1.25M145 874h1.25M147 874h1.25M150 874h1.25M177 874h1.25M134 875h1.25M140 875h1.25M142 875h1.25M144 875h1.25M152 875h1.25M121 876h1.25M122 876h1.25M132 876h1.25M138 876h1.25M141 876h1.25M150 876h1.25M153 876h1.25M108 877h1.25M111 877h1.25M112 877h1.25M123 877h1.25M125 877h1.25M128 877h1.25M132 877h1.25M171 877h1.25M114 878h1.25M121 878h1.25M122 878h1.25M131 878h1.25M133 878h1.25M137 878h1.25M145 878h1.25M146 878h1.25M118 879h1.25M120 879h1.25M124 879h1.25M139 879h1.25M142 879h1.25M146 879h1.25M147 879h1.25M148 879h1.25M149 879h1.25M160 879h1.25M107 880h1.25M111 880h1.25M112 880h1.25M122 880h1.25M123 880h1.25M135 880h1.25M154 880h1.25M113 881h1.25M114 881h1.25M115 881h1.25M120 881h1.25M123 881h1.25M128 881h1.25M130 881h1.25M138 881h1.25M150 881h1.25M154 881h1.25M116 883h1.25M126 883h1.25M122 884h1.25M138 884h1.25M150 884h1.25M108 885h1.25M120 885h1.25M122 885h1.25M126 885h1.25M129 885h1.25M130 885h1.25M141 885h1.25M113 886h1.25M123 886h1.25M155 886h1.25M145 887h1.25M127 888h1.25M117 889h1.25M119 889h1.25M120 889h1.25M126 889h1.25M149 889h1.25M107 890h1.25M115 890h1.25M122 890h1.25M126 890h1.25M127 890h1.25M134 890h1.25M111 892h1.25M112 892h1.25M119 892h1.25M121 892h1.25M126 892h1.25M115 893h1.25M117 893h1.25M123 893h1.25M133 893h1.25M119 894h1.25M131 894h1.25M132 894h1.25M140 894h1.25M147 894h1.25M117 895h1.25M118 895h1.25M119 895h1.25M122 895h1.25M124 895h1.25M131 895h1.25M139 895h1.25M144 895h1.25M103 896h1.25M119 896h1.25M121 896h1.25M122 896h1.25M123 896h1.25M128 896h1.25M107 897h1.25M110 897h1.25M115 897h1.25M116 897h1.25M117 897h1.25M120 897h1.25M122 897h1.25M136 897h1.25M137 897h1.25M162 897h1.25M119 898h1.25M120 898h1.25M121 898h1.25M123 898h1.25M126 898h1.25M128 898h1.25M113 899h1.25M114 899h1.25M118 899h1.25M119 899h1.25M121 899h1.25M127 899h1.25M147 899h1.25M117 900h1.25M118 900h1.25M119 900h1.25M122 900h1.25M123 900h1.25M126 900h1.25M130 900h1.25M133 900h1.25M134 900h1.25M110 901h1.25M113 901h1.25M114 901h1.25M118 901h1.25M119 901h1.25M122 901h1.25M125 901h1.25M134 901h1.25M135 901h1.25M138 901h1.25M140 901h1.25M143 901h1.25M112 902h1.25M113 902h1.25M115 902h1.25M116 902h1.25M121 902h1.25M123 902h1.25M124 902h1.25M125 902h1.25M126 902h1.25M131 902h1.25M138 902h1.25M165 902h1.25M107 903h1.25M112 903h1.25M113 903h1.25M116 903h1.25M117 903h1.25M118 903h1.25M121 903h1.25M122 903h1.25M123 903h1.25M124 903h1.25M126 903h1.25M133 903h1.25M137 903h1.25M109 904h1.25M111 904h1.25M117 904h1.25M120 904h1.25M121 904h1.25M122 904h1.25M123 904h1.25M127 904h1.25M133 904h1.25M102 905h1.25M107 905h1.25M110 905h1.25M113 905h1.25M114 905h1.25M115 905h1.25M116 905h1.25M118 905h1.25M122 905h1.25M123 905h1.25M124 905h1.25M126 905h1.25M133 905h1.25M135 905h1.25M137 905h1.25M144 905h1.25M148 905h1.25M103 906h1.25M111 906h1.25M112 906h1.25M113 906h1.25M114 906h1.25M115 906h1.25M122 906h1.25M124 906h1.25M126 906h1.25M128 906h1.25M135 906h1.25M137 906h1.25M106 907h1.25M110 907h1.25M112 907h1.25M113 907h1.25M115 907h1.25M119 907h1.25M125 907h1.25M126 907h1.25M128 907h1.25M138 907h1.25M112 908h1.25M115 908h1.25M122 908h1.25M124 908h1.25M125 908h1.25M126 908h1.25M130 908h1.25M131 908h1.25M133 908h1.25M159 908h1.25M97 909h1.25M106 909h1.25M107 909h1.25M109 909h1.25M110 909h1.25M111 909h1.25M125 909h1.25M126 909h1.25M129 909h1.25M140 909h1.25M164 909h1.25M108 910h1.25M109 910h1.25M110 910h1.25M123 910h1.25M124 910h1.25M125 910h1.25M126 910h1.25M127 910h1.25M130 910h1.25M137 910h1.25M159 910h1.25M106 911h1.25M107 911h1.25M108 911h1.25M109 911h1.25M125 911h1.25M126 911h1.25M127 911h1.25M128 911h1.25M135 911h1.25M138 911h1.25M148 911h1.25M153 911h1.25M158 911h1.25M164 911h1.25M104 912h1.25M105 912h1.25M107 912h1.25M110 912h1.25M124 912h1.25M129 912h1.25M163 912h1.25M105 913h1.25M107 913h1.25M125 913h1.25M126 913h1.25M128 913h1.25M129 913h1.25M135 913h1.25M139 913h1.25M100 914h1.25M101 914h1.25M102 914h1.25M104 914h1.25M106 914h1.25M107 914h1.25M124 914h1.25M125 914h1.25M126 914h1.25M130 914h1.25M134 914h1.25M152 914h1.25M96 915h1.25M97 915h1.25M99 915h1.25M103 915h1.25M105 915h1.25M107 915h1.25M108 915h1.25M125 915h1.25M128 915h1.25M150 915h1.25M102 916h1.25M105 916h1.25M106 916h1.25M123 916h1.25M130 916h1.25M133 916h1.25M135 916h1.25M136 916h1.25M137 916h1.25M147 916h1.25M102 917h1.25M104 917h1.25M105 917h1.25M107 917h1.25M124 917h1.25M126 917h1.25M128 917h1.25M131 917h1.25M138 917h1.25M104 918h1.25M127 918h1.25M130 918h1.25M143 918h1.25M157 918h1.25M103 919h1.25M104 919h1.25M106 919h1.25M123 919h1.25M125 919h1.25M132 919h1.25M133 919h1.25M147 919h1.25M95 920h1.25M100 920h1.25M105 920h1.25M122 920h1.25M124 920h1.25M130 920h1.25M136 920h1.25M142 920h1.25M150 920h1.25M88 921h1.25M104 921h1.25M105 921h1.25M122 921h1.25M125 921h1.25M127 921h1.25M129 921h1.25M130 921h1.25M131 921h1.25M133 921h1.25M138 921h1.25M98 922h1.25M99 922h1.25M100 922h1.25M103 922h1.25M105 922h1.25M120 922h1.25M122 922h1.25M135 922h1.25M141 922h1.25M105 923h1.25M120 923h1.25M121 923h1.25M123 923h1.25M126 923h1.25M101 924h1.25M120 924h1.25M137 924h1.25M147 924h1.25M85 925h1.25M95 925h1.25M98 925h1.25M103 925h1.25M105 925h1.25M118 925h1.25M120 925h1.25M122 925h1.25M125 925h1.25M153 925h1.25M101 926h1.25M104 926h1.25M105 926h1.25M107 926h1.25M117 926h1.25M119 926h1.25M120 926h1.25M122 926h1.25M127 926h1.25M134 926h1.25M90 927h1.25M100 927h1.25M103 927h1.25M104 927h1.25M106 927h1.25M111 927h1.25M116 927h1.25M117 927h1.25M120 927h1.25M122 927h1.25M125 927h1.25M102 928h1.25M105 928h1.25M106 928h1.25M113 928h1.25M116 928h1.25M93 929h1.25M98 929h1.25M99 929h1.25M101 929h1.25M102 929h1.25M105 929h1.25M107 929h1.25M109 929h1.25M112 929h1.25M113 929h1.25M114 929h1.25M116 929h1.25M117 929h1.25M118 929h1.25M121 929h1.25M128 929h1.25M134 929h1.25M94 930h1.25M104 930h1.25M107 930h1.25M108 930h1.25M109 930h1.25M111 930h1.25M112 930h1.25M113 930h1.25M114 930h1.25M118 930h1.25M120 930h1.25M98 931h1.25M105 931h1.25M107 931h1.25M108 931h1.25M109 931h1.25M110 931h1.25M111 931h1.25M112 931h1.25M113 931h1.25M115 931h1.25M116 931h1.25M124 931h1.25M104 932h1.25M105 932h1.25M106 932h1.25M107 932h1.25M108 932h1.25M109 932h1.25M110 932h1.25M115 932h1.25M143 932h1.25M83 933h1.25M100 933h1.25M103 933h1.25M104 933h1.25M107 933h1.25M110 933h1.25M99 934h1.25M101 934h1.25M111 934h1.25M117 934h1.25M109 935h1.25M110 935h1.25M111 935h1.25M116 935h1.25M117 935h1.25M100 936h1.25M105 936h1.25M110 936h1.25M129 936h1.25M118 937h1.25M96 938h1.25M99 940h1.25M107 941h1.25M108 941h1.25M103 942h1.25M111 942h1.25M85 947h1.25M111 947h1.25M128 947h1.25" stroke="#141414" stroke-width="1.25" fill="none" opacity="0.92"/>
<path d="M120 902h1.25M119 903h1.25M120 903h1.25M116 904h1.25M118 904h1.25M117 906h1.25M123 906h1.25M123 907h1.25M124 907h1.25M111 908h1.25M124 909h1.25M111 910h1.25M125 912h1.25M108 913h1.25M124 913h1.25M124 915h1.25M106 917h1.25M106 918h1.25M122 919h1.25M106 920h1.25M106 921h1.25M121 922h1.25M106 924h1.25M121 924h1.25M106 925h1.25M119 925h1.25M118 926h1.25M118 927h1.25M107 928h1.25M108 929h1.25M110 929h1.25M115 929h1.25" stroke="#f9e11e" stroke-width="1.25" fill="none"/>
<path d="M120 900h1.25M117 901h1.25M118 902h1.25M119 902h1.25M115 903h1.25M115 904h1.25M119 904h1.25M124 904h1.25M125 904h1.25M126 904h1.25M112 905h1.25M117 905h1.25M119 905h1.25M120 905h1.25M121 905h1.25M116 906h1.25M119 906h1.25M120 906h1.25M121 906h1.25M125 906h1.25M111 907h1.25M114 907h1.25M116 907h1.25M120 907h1.25M121 907h1.25M122 907h1.25M109 908h1.25M110 908h1.25M113 908h1.25M121 908h1.25M123 908h1.25M112 909h1.25M113 909h1.25M122 909h1.25M123 909h1.25M112 910h1.25M122 910h1.25M110 911h1.25M111 911h1.25M123 911h1.25M124 911h1.25M108 912h1.25M109 912h1.25M122 912h1.25M123 912h1.25M126 912h1.25M127 912h1.25M109 913h1.25M110 913h1.25M123 913h1.25M127 913h1.25M108 914h1.25M109 914h1.25M122 914h1.25M123 914h1.25M109 915h1.25M122 915h1.25M123 915h1.25M107 916h1.25M108 916h1.25M109 916h1.25M122 916h1.25M124 916h1.25M126 916h1.25M108 917h1.25M109 917h1.25M122 917h1.25M123 917h1.25M105 918h1.25M107 918h1.25M121 918h1.25M122 918h1.25M123 918h1.25M107 919h1.25M121 919h1.25M104 920h1.25M107 920h1.25M108 920h1.25M120 920h1.25M121 920h1.25M107 921h1.25M120 921h1.25M121 921h1.25M106 922h1.25M107 922h1.25M108 922h1.25M119 922h1.25M123 922h1.25M106 923h1.25M107 923h1.25M108 923h1.25M117 923h1.25M118 923h1.25M119 923h1.25M103 924h1.25M105 924h1.25M107 924h1.25M108 924h1.25M116 924h1.25M118 924h1.25M119 924h1.25M104 925h1.25M107 925h1.25M108 925h1.25M115 925h1.25M117 925h1.25M106 926h1.25M108 926h1.25M109 926h1.25M110 926h1.25M112 926h1.25M115 926h1.25M116 926h1.25M107 927h1.25M108 927h1.25M109 927h1.25M110 927h1.25M113 927h1.25M115 927h1.25M108 928h1.25M109 928h1.25M110 928h1.25M111 928h1.25M112 928h1.25M114 928h1.25M115 928h1.25M111 929h1.25M105 930h1.25M110 930h1.25M117 930h1.25M105 931h1.25M108 931h1.25M112 933h1.25" stroke="#f7cf1c" stroke-width="1.25" fill="none"/>
<path d="M118 906h1.25M117 907h1.25M118 907h1.25M114 908h1.25M116 908h1.25M117 908h1.25M118 908h1.25M119 908h1.25M120 908h1.25M114 909h1.25M115 909h1.25M116 909h1.25M117 909h1.25M119 909h1.25M120 909h1.25M121 909h1.25M113 910h1.25M114 910h1.25M115 910h1.25M116 910h1.25M117 910h1.25M119 910h1.25M120 910h1.25M121 910h1.25M112 911h1.25M113 911h1.25M120 911h1.25M121 911h1.25M122 911h1.25M111 912h1.25M112 912h1.25M113 912h1.25M120 912h1.25M121 913h1.25M122 913h1.25M110 914h1.25M111 914h1.25M110 915h1.25M111 915h1.25M121 915h1.25M110 916h1.25M121 916h1.25M110 917h1.25M120 917h1.25M121 917h1.25M108 918h1.25M109 918h1.25M108 919h1.25M109 919h1.25M110 919h1.25M120 919h1.25M109 920h1.25M119 920h1.25M108 921h1.25M109 921h1.25M110 921h1.25M118 921h1.25M119 921h1.25M109 922h1.25M117 922h1.25M118 922h1.25M109 923h1.25M110 923h1.25M114 923h1.25M109 924h1.25M110 924h1.25M112 924h1.25M113 924h1.25M117 924h1.25M109 925h1.25M110 925h1.25M111 925h1.25M112 925h1.25M114 925h1.25M111 926h1.25M113 926h1.25M114 926h1.25M112 927h1.25M114 927h1.25" stroke="#f3a61f" stroke-width="1.25" fill="none"/>
<path d="M118 909h1.25M118 910h1.25M115 911h1.25M116 911h1.25M117 911h1.25M119 911h1.25M114 912h1.25M119 912h1.25M121 912h1.25M111 913h1.25M112 913h1.25M113 913h1.25M119 913h1.25M120 913h1.25M112 914h1.25M120 914h1.25M121 914h1.25M120 915h1.25M111 916h1.25M112 916h1.25M118 916h1.25M120 916h1.25M111 917h1.25M112 917h1.25M110 918h1.25M118 918h1.25M120 918h1.25M111 919h1.25M118 919h1.25M119 919h1.25M110 920h1.25M111 920h1.25M117 920h1.25M118 920h1.25M111 921h1.25M117 921h1.25M110 922h1.25M111 922h1.25M112 922h1.25M113 922h1.25M116 922h1.25M111 923h1.25M115 923h1.25M116 923h1.25M111 924h1.25M114 924h1.25M115 924h1.25M113 925h1.25M116 925h1.25" stroke="#ee8024" stroke-width="1.25" fill="none"/>
<path d="M114 911h1.25M118 911h1.25M115 912h1.25M114 913h1.25M115 913h1.25M117 913h1.25M113 914h1.25M115 914h1.25M118 914h1.25M119 914h1.25M112 915h1.25M113 915h1.25M118 915h1.25M119 915h1.25M119 916h1.25M113 917h1.25M116 917h1.25M118 917h1.25M111 918h1.25M115 918h1.25M117 918h1.25M119 918h1.25M113 919h1.25M116 919h1.25M112 920h1.25M113 920h1.25M115 920h1.25M116 920h1.25M112 921h1.25M113 921h1.25M116 921h1.25M114 922h1.25M115 922h1.25M112 923h1.25M113 923h1.25" stroke="#e6592a" stroke-width="1.25" fill="none"/>
<path d="M116 912h1.25M117 912h1.25M118 912h1.25M116 913h1.25M118 913h1.25M114 914h1.25M116 914h1.25M117 914h1.25M114 915h1.25M115 915h1.25M116 915h1.25M117 915h1.25M113 916h1.25M114 916h1.25M115 916h1.25M116 916h1.25M117 916h1.25M114 917h1.25M115 917h1.25M117 917h1.25M119 917h1.25M112 918h1.25M113 918h1.25M114 918h1.25M116 918h1.25M112 919h1.25M114 919h1.25M115 919h1.25M117 919h1.25M114 920h1.25M114 921h1.25M115 921h1.25" stroke="#dc3a2c" stroke-width="1.25" fill="none"/>
<line x1="126" y1="752.6" x2="126" y2="955.6" stroke="#8a8a8a" stroke-width="1.6"/>
<line x1="70.4" y1="895.4" x2="275" y2="895.4" stroke="#8a8a8a" stroke-width="1.6"/>
<text x="74" y="769.2" font-family='"DejaVu Sans", "Liberation Sans", Verdana, sans-serif' font-size="15.4" font-weight="bold" fill="#9a9a9a">2.1...</text>
<text x="269.8" y="769.2" font-family='"DejaVu Sans", "Liberation Sans", Verdana, sans-serif' font-size="15.4" font-weight="bold" text-anchor="end" fill="#9a9a9a">2.061%</text>
<text x="74" y="950.2" font-family='"DejaVu Sans", "Liberation Sans", Verdana, sans-serif' font-size="15.4" font-weight="bold" fill="#9a9a9a">93...</text>
<text x="269.8" y="950.2" font-family='"DejaVu Sans", "Liberation Sans", Verdana, sans-serif' font-size="15.4" font-weight="bold" text-anchor="end" fill="#9a9a9a">2.460%</text>
<text x="67.8" y="972.8" font-family='"Liberation Sans", Arial, Helvetica, sans-serif' font-size="9.2" text-anchor="middle" fill="#111">10<tspan dx="0.6" dy="-6.7" font-size="4.8">1</tspan></text>
<text x="64.8" y="954.4" font-family='"Liberation Sans", Arial, Helvetica, sans-serif' font-size="9.2" text-anchor="end" fill="#111">10<tspan dx="0.6" dy="-2.6" font-size="4.8">1</tspan></text>
<text x="101.9" y="972.8" font-family='"Liberation Sans", Arial, Helvetica, sans-serif' font-size="9.2" text-anchor="middle" fill="#111">10<tspan dx="0.6" dy="-6.7" font-size="4.8">2</tspan></text>
<text x="64.8" y="920.57" font-family='"Liberation Sans", Arial, Helvetica, sans-serif' font-size="9.2" text-anchor="end" fill="#111">10<tspan dx="0.6" dy="-2.6" font-size="4.8">2</tspan></text>
<text x="136" y="972.8" font-family='"Liberation Sans", Arial, Helvetica, sans-serif' font-size="9.2" text-anchor="middle" fill="#111">10<tspan dx="0.6" dy="-6.7" font-size="4.8">3</tspan></text>
<text x="64.8" y="886.73" font-family='"Liberation Sans", Arial, Helvetica, sans-serif' font-size="9.2" text-anchor="end" fill="#111">10<tspan dx="0.6" dy="-2.6" font-size="4.8">3</tspan></text>
<text x="170.1" y="972.8" font-family='"Liberation Sans", Arial, Helvetica, sans-serif' font-size="9.2" text-anchor="middle" fill="#111">10<tspan dx="0.6" dy="-6.7" font-size="4.8">4</tspan></text>
<text x="64.8" y="852.9" font-family='"Liberation Sans", Arial, Helvetica, sans-serif' font-size="9.2" text-anchor="end" fill="#111">10<tspan dx="0.6" dy="-2.6" font-size="4.8">4</tspan></text>
<text x="204.2" y="972.8" font-family='"Liberation Sans", Arial, Helvetica, sans-serif' font-size="9.2" text-anchor="middle" fill="#111">10<tspan dx="0.6" dy="-6.7" font-size="4.8">5</tspan></text>
<text x="64.8" y="819.07" font-family='"Liberation Sans", Arial, Helvetica, sans-serif' font-size="9.2" text-anchor="end" fill="#111">10<tspan dx="0.6" dy="-2.6" font-size="4.8">5</tspan></text>
<text x="238.3" y="972.8" font-family='"Liberation Sans", Arial, Helvetica, sans-serif' font-size="9.2" text-anchor="middle" fill="#111">10<tspan dx="0.6" dy="-6.7" font-size="4.8">6</tspan></text>
<text x="64.8" y="785.23" font-family='"Liberation Sans", Arial, Helvetica, sans-serif' font-size="9.2" text-anchor="end" fill="#111">10<tspan dx="0.6" dy="-2.6" font-size="4.8">6</tspan></text>
<text x="272.4" y="972.8" font-family='"Liberation Sans", Arial, Helvetica, sans-serif' font-size="9.2" text-anchor="middle" fill="#111">10<tspan dx="0.6" dy="-6.7" font-size="4.8">7</tspan></text>
<text x="64.8" y="751.4" font-family='"Liberation Sans", Arial, Helvetica, sans-serif' font-size="9.2" text-anchor="end" fill="#111">10<tspan dx="0.6" dy="-2.6" font-size="4.8">7</tspan></text>
<text x="0" y="0" transform="translate(170.3 994.6) scale(0.94 1)" font-family='"DejaVu Sans", "Liberation Sans", Verdana, sans-serif' font-size="14.4" text-anchor="middle">FITC-H</text>
<text x="0" y="0" transform="translate(46.1 855.1) rotate(-90) scale(0.94 1)" font-family='"DejaVu Sans", "Liberation Sans", Verdana, sans-serif' font-size="14.4" text-anchor="middle">PI-H</text>
</g>
<g id="flow5">
<text x="469" y="740.6" font-family='"Liberation Sans", Arial, Helvetica, sans-serif' font-size="23.9" text-anchor="middle">H<tspan dy="0.643em" font-size="56%">2</tspan><tspan dy="-0.36em">O</tspan><tspan dy="0.643em" font-size="56%">2</tspan><tspan dy="-0.36em">+oe-FGF19</tspan></text>
<rect x="368.2" y="751.6" width="204.8" height="203" fill="#fff" stroke="#bdbdbd" stroke-width="1.2"/>
<path d="M368.2 954.6v5.8M378.48 954.6v3M384.49 954.6v3M388.75 954.6v3M392.06 954.6v3M394.76 954.6v3M397.05 954.6v3M399.03 954.6v3M400.77 954.6v3M402.33 954.6v5.8M412.61 954.6v3M418.62 954.6v3M422.88 954.6v3M426.19 954.6v3M428.89 954.6v3M431.18 954.6v3M433.16 954.6v3M434.9 954.6v3M436.47 954.6v5.8M446.74 954.6v3M452.75 954.6v3M457.02 954.6v3M460.32 954.6v3M463.03 954.6v3M465.31 954.6v3M467.29 954.6v3M469.04 954.6v3M470.6 954.6v5.8M480.88 954.6v3M486.89 954.6v3M491.15 954.6v3M494.46 954.6v3M497.16 954.6v3M499.45 954.6v3M501.43 954.6v3M503.17 954.6v3M504.73 954.6v5.8M515.01 954.6v3M521.02 954.6v3M525.28 954.6v3M528.59 954.6v3M531.29 954.6v3M533.58 954.6v3M535.56 954.6v3M537.3 954.6v3M538.87 954.6v5.8M549.14 954.6v3M555.15 954.6v3M559.42 954.6v3M562.72 954.6v3M565.43 954.6v3M567.71 954.6v3M569.69 954.6v3M571.44 954.6v3M573 954.6v5.8" stroke="#ababab" stroke-width="0.9" fill="none"/>
<path d="M368.2 954.6h-5.8M368.2 944.42h-3M368.2 938.46h-3M368.2 934.23h-3M368.2 930.95h-3M368.2 928.27h-3M368.2 926.01h-3M368.2 924.05h-3M368.2 922.31h-3M368.2 920.77h-5.8M368.2 910.58h-3M368.2 904.62h-3M368.2 900.4h-3M368.2 897.12h-3M368.2 894.44h-3M368.2 892.17h-3M368.2 890.21h-3M368.2 888.48h-3M368.2 886.93h-5.8M368.2 876.75h-3M368.2 870.79h-3M368.2 866.56h-3M368.2 863.28h-3M368.2 860.61h-3M368.2 858.34h-3M368.2 856.38h-3M368.2 854.65h-3M368.2 853.1h-5.8M368.2 842.92h-3M368.2 836.96h-3M368.2 832.73h-3M368.2 829.45h-3M368.2 826.77h-3M368.2 824.51h-3M368.2 822.55h-3M368.2 820.81h-3M368.2 819.27h-5.8M368.2 809.08h-3M368.2 803.12h-3M368.2 798.9h-3M368.2 795.62h-3M368.2 792.94h-3M368.2 790.67h-3M368.2 788.71h-3M368.2 786.98h-3M368.2 785.43h-5.8M368.2 775.25h-3M368.2 769.29h-3M368.2 765.06h-3M368.2 761.78h-3M368.2 759.11h-3M368.2 756.84h-3M368.2 754.88h-3M368.2 753.15h-3M368.2 751.6h-5.8" stroke="#ababab" stroke-width="0.9" fill="none"/>
<path d="M442 845h1.25M450 847h1.25M456 847h1.25M439 849h1.25M419 859h1.25M426 859h1.25M423 862h1.25M426 863h1.25M419 864h1.25M429 864h1.25M405 865h1.25M416 865h1.25M449 865h1.25M420 866h1.25M428 866h1.25M438 866h1.25M448 866h1.25M415 867h1.25M423 867h1.25M427 867h1.25M424 868h1.25M426 868h1.25M454 868h1.25M414 869h1.25M417 869h1.25M431 869h1.25M450 869h1.25M415 870h1.25M430 870h1.25M441 870h1.25M418 871h1.25M420 871h1.25M421 871h1.25M452 871h1.25M415 872h1.25M417 872h1.25M420 872h1.25M422 872h1.25M431 872h1.25M435 872h1.25M413 873h1.25M419 873h1.25M420 873h1.25M421 873h1.25M424 873h1.25M404 874h1.25M410 874h1.25M413 874h1.25M415 874h1.25M421 874h1.25M422 874h1.25M423 874h1.25M428 874h1.25M429 874h1.25M432 874h1.25M438 874h1.25M415 875h1.25M416 875h1.25M417 875h1.25M418 875h1.25M420 875h1.25M422 875h1.25M424 875h1.25M426 875h1.25M428 875h1.25M434 875h1.25M454 875h1.25M413 876h1.25M417 876h1.25M423 876h1.25M431 876h1.25M416 877h1.25M423 877h1.25M425 877h1.25M431 877h1.25M451 877h1.25M414 878h1.25M417 878h1.25M420 878h1.25M424 878h1.25M425 878h1.25M464 878h1.25M411 879h1.25M416 879h1.25M420 879h1.25M469 879h1.25M413 880h1.25M417 880h1.25M426 880h1.25M438 880h1.25M441 880h1.25M449 880h1.25M409 881h1.25M411 881h1.25M415 881h1.25M413 882h1.25M415 882h1.25M420 882h1.25M431 882h1.25M442 882h1.25M410 883h1.25M413 883h1.25M418 883h1.25M419 883h1.25M424 883h1.25M434 883h1.25M438 883h1.25M439 883h1.25M449 883h1.25M428 884h1.25M430 884h1.25M446 884h1.25M450 884h1.25M411 885h1.25M416 885h1.25M422 885h1.25M423 885h1.25M414 886h1.25M419 886h1.25M423 886h1.25M432 886h1.25M423 887h1.25M426 887h1.25M436 887h1.25M465 887h1.25M416 888h1.25M418 888h1.25M419 888h1.25M420 888h1.25M421 888h1.25M425 888h1.25M430 888h1.25M436 888h1.25M419 889h1.25M420 889h1.25M421 889h1.25M424 889h1.25M420 890h1.25M410 891h1.25M418 891h1.25M421 891h1.25M440 891h1.25M405 892h1.25M416 892h1.25M422 892h1.25M425 892h1.25M426 892h1.25M413 893h1.25M416 893h1.25M421 893h1.25M418 894h1.25M421 894h1.25M422 894h1.25M412 895h1.25M415 895h1.25M416 895h1.25M418 895h1.25M419 895h1.25M420 895h1.25M431 895h1.25M421 896h1.25M422 896h1.25M441 896h1.25M417 897h1.25M420 897h1.25M423 897h1.25M425 897h1.25M454 897h1.25M410 898h1.25M412 898h1.25M414 898h1.25M417 898h1.25M418 898h1.25M419 898h1.25M421 898h1.25M422 898h1.25M423 898h1.25M424 898h1.25M462 898h1.25M411 899h1.25M412 899h1.25M414 899h1.25M415 899h1.25M416 899h1.25M417 899h1.25M419 899h1.25M427 899h1.25M437 899h1.25M450 899h1.25M393 900h1.25M412 900h1.25M415 900h1.25M416 900h1.25M417 900h1.25M419 900h1.25M420 900h1.25M421 900h1.25M423 900h1.25M424 900h1.25M450 900h1.25M405 901h1.25M411 901h1.25M413 901h1.25M414 901h1.25M415 901h1.25M417 901h1.25M418 901h1.25M419 901h1.25M420 901h1.25M422 901h1.25M423 901h1.25M426 901h1.25M427 901h1.25M443 901h1.25M410 902h1.25M411 902h1.25M414 902h1.25M415 902h1.25M416 902h1.25M419 902h1.25M420 902h1.25M422 902h1.25M430 902h1.25M458 902h1.25M409 903h1.25M410 903h1.25M413 903h1.25M416 903h1.25M417 903h1.25M418 903h1.25M419 903h1.25M421 903h1.25M422 903h1.25M423 903h1.25M427 903h1.25M444 903h1.25M445 903h1.25M447 903h1.25M402 904h1.25M405 904h1.25M407 904h1.25M409 904h1.25M411 904h1.25M419 904h1.25M420 904h1.25M421 904h1.25M423 904h1.25M426 904h1.25M427 904h1.25M431 904h1.25M445 904h1.25M408 905h1.25M412 905h1.25M414 905h1.25M420 905h1.25M423 905h1.25M424 905h1.25M426 905h1.25M430 905h1.25M437 905h1.25M458 905h1.25M402 906h1.25M407 906h1.25M408 906h1.25M409 906h1.25M419 906h1.25M420 906h1.25M423 906h1.25M424 906h1.25M432 906h1.25M435 906h1.25M439 906h1.25M402 907h1.25M403 907h1.25M407 907h1.25M408 907h1.25M421 907h1.25M422 907h1.25M425 907h1.25M434 907h1.25M398 908h1.25M399 908h1.25M404 908h1.25M406 908h1.25M407 908h1.25M408 908h1.25M420 908h1.25M421 908h1.25M423 908h1.25M425 908h1.25M429 908h1.25M437 908h1.25M398 909h1.25M406 909h1.25M422 909h1.25M423 909h1.25M426 909h1.25M438 909h1.25M449 909h1.25M394 910h1.25M397 910h1.25M402 910h1.25M405 910h1.25M406 910h1.25M407 910h1.25M422 910h1.25M423 910h1.25M424 910h1.25M427 910h1.25M428 910h1.25M430 910h1.25M455 910h1.25M396 911h1.25M400 911h1.25M401 911h1.25M422 911h1.25M423 911h1.25M424 911h1.25M425 911h1.25M431 911h1.25M454 911h1.25M404 912h1.25M422 912h1.25M423 912h1.25M427 912h1.25M428 912h1.25M404 913h1.25M420 913h1.25M421 913h1.25M423 913h1.25M425 913h1.25M426 913h1.25M429 913h1.25M441 913h1.25M444 913h1.25M456 913h1.25M396 914h1.25M403 914h1.25M406 914h1.25M421 914h1.25M422 914h1.25M423 914h1.25M424 914h1.25M428 914h1.25M437 914h1.25M395 915h1.25M402 915h1.25M404 915h1.25M419 915h1.25M420 915h1.25M422 915h1.25M423 915h1.25M425 915h1.25M447 915h1.25M394 916h1.25M397 916h1.25M400 916h1.25M402 916h1.25M420 916h1.25M421 916h1.25M423 916h1.25M401 917h1.25M402 917h1.25M419 917h1.25M421 917h1.25M422 917h1.25M424 917h1.25M430 917h1.25M440 917h1.25M394 918h1.25M396 918h1.25M399 918h1.25M401 918h1.25M402 918h1.25M403 918h1.25M405 918h1.25M419 918h1.25M424 918h1.25M426 918h1.25M433 918h1.25M436 918h1.25M447 918h1.25M392 919h1.25M401 919h1.25M403 919h1.25M419 919h1.25M420 919h1.25M437 919h1.25M442 919h1.25M449 919h1.25M394 920h1.25M397 920h1.25M403 920h1.25M418 920h1.25M419 920h1.25M424 920h1.25M426 920h1.25M434 920h1.25M396 921h1.25M398 921h1.25M399 921h1.25M400 921h1.25M401 921h1.25M402 921h1.25M403 921h1.25M419 921h1.25M436 921h1.25M449 921h1.25M384 922h1.25M399 922h1.25M401 922h1.25M404 922h1.25M405 922h1.25M418 922h1.25M419 922h1.25M420 922h1.25M425 922h1.25M383 923h1.25M394 923h1.25M396 923h1.25M400 923h1.25M401 923h1.25M405 923h1.25M415 923h1.25M416 923h1.25M417 923h1.25M418 923h1.25M419 923h1.25M388 924h1.25M399 924h1.25M404 924h1.25M413 924h1.25M415 924h1.25M417 924h1.25M430 924h1.25M383 925h1.25M400 925h1.25M402 925h1.25M403 925h1.25M414 925h1.25M415 925h1.25M416 925h1.25M422 925h1.25M382 926h1.25M398 926h1.25M403 926h1.25M409 926h1.25M413 926h1.25M414 926h1.25M415 926h1.25M416 926h1.25M400 927h1.25M401 927h1.25M404 927h1.25M405 927h1.25M412 927h1.25M413 927h1.25M415 927h1.25M389 928h1.25M398 928h1.25M400 928h1.25M402 928h1.25M403 928h1.25M404 928h1.25M405 928h1.25M407 928h1.25M411 928h1.25M413 928h1.25M416 928h1.25M422 928h1.25M423 928h1.25M431 928h1.25M377 929h1.25M393 929h1.25M401 929h1.25M403 929h1.25M404 929h1.25M405 929h1.25M406 929h1.25M407 929h1.25M408 929h1.25M409 929h1.25M410 929h1.25M413 929h1.25M374 930h1.25M394 930h1.25M401 930h1.25M402 930h1.25M403 930h1.25M404 930h1.25M405 930h1.25M406 930h1.25M410 930h1.25M411 930h1.25M412 930h1.25M393 931h1.25M410 931h1.25M411 931h1.25M412 931h1.25M417 931h1.25M401 932h1.25M402 932h1.25M403 932h1.25M405 932h1.25M409 932h1.25M411 932h1.25M402 933h1.25M409 933h1.25M415 933h1.25M404 934h1.25M410 934h1.25M413 934h1.25M414 934h1.25M384 935h1.25M390 935h1.25M403 935h1.25M407 935h1.25M404 936h1.25M409 937h1.25M403 938h1.25M405 938h1.25M399 939h1.25M401 939h1.25M410 940h1.25M394 942h1.25M407 946h1.25M411 946h1.25" stroke="#141414" stroke-width="1.25" fill="none" opacity="0.92"/>
<path d="M418 902h1.25M412 903h1.25M414 903h1.25M420 903h1.25M413 904h1.25M410 905h1.25M421 906h1.25M422 906h1.25M421 907h1.25M422 908h1.25M407 909h1.25M422 909h1.25M405 911h1.25M405 912h1.25M421 912h1.25M405 913h1.25M422 913h1.25M404 914h1.25M421 915h1.25M404 916h1.25M403 917h1.25M404 917h1.25M420 917h1.25M404 921h1.25M403 922h1.25M417 922h1.25M403 923h1.25M404 923h1.25M403 924h1.25M416 924h1.25M404 925h1.25M406 926h1.25M406 927h1.25M409 927h1.25M411 927h1.25M414 927h1.25M406 928h1.25M408 928h1.25M410 928h1.25" stroke="#f9e11e" stroke-width="1.25" fill="none"/>
<path d="M416 899h1.25M417 899h1.25M414 900h1.25M412 902h1.25M417 902h1.25M415 903h1.25M412 904h1.25M414 904h1.25M415 904h1.25M416 904h1.25M417 904h1.25M418 904h1.25M422 904h1.25M411 905h1.25M413 905h1.25M416 905h1.25M417 905h1.25M418 905h1.25M419 905h1.25M410 906h1.25M411 906h1.25M418 906h1.25M409 907h1.25M410 907h1.25M411 907h1.25M418 907h1.25M419 907h1.25M420 907h1.25M409 908h1.25M410 908h1.25M404 909h1.25M405 909h1.25M408 909h1.25M409 909h1.25M420 909h1.25M421 909h1.25M408 910h1.25M420 910h1.25M421 910h1.25M406 911h1.25M407 911h1.25M421 911h1.25M406 912h1.25M407 912h1.25M406 913h1.25M405 914h1.25M420 914h1.25M405 915h1.25M405 916h1.25M418 916h1.25M419 916h1.25M405 917h1.25M404 918h1.25M418 918h1.25M419 918h1.25M420 918h1.25M422 918h1.25M404 919h1.25M405 919h1.25M417 919h1.25M418 919h1.25M402 920h1.25M404 920h1.25M417 920h1.25M420 920h1.25M416 921h1.25M417 921h1.25M418 921h1.25M415 922h1.25M416 922h1.25M406 923h1.25M414 923h1.25M405 924h1.25M406 924h1.25M414 924h1.25M405 925h1.25M406 925h1.25M407 925h1.25M411 925h1.25M412 925h1.25M413 925h1.25M404 926h1.25M405 926h1.25M407 926h1.25M408 926h1.25M410 926h1.25M411 926h1.25M412 926h1.25M407 927h1.25M408 927h1.25M410 927h1.25M416 927h1.25M409 928h1.25M411 929h1.25M405 931h1.25" stroke="#f7cf1c" stroke-width="1.25" fill="none"/>
<path d="M415 905h1.25M412 906h1.25M413 906h1.25M414 906h1.25M415 906h1.25M416 906h1.25M417 906h1.25M412 907h1.25M413 907h1.25M414 907h1.25M415 907h1.25M416 907h1.25M411 908h1.25M413 908h1.25M414 908h1.25M417 908h1.25M418 908h1.25M419 908h1.25M410 909h1.25M411 909h1.25M417 909h1.25M419 909h1.25M409 910h1.25M418 910h1.25M419 910h1.25M408 911h1.25M418 911h1.25M419 911h1.25M420 911h1.25M408 912h1.25M409 912h1.25M418 912h1.25M419 912h1.25M420 912h1.25M407 913h1.25M418 913h1.25M419 913h1.25M407 914h1.25M418 914h1.25M419 914h1.25M406 915h1.25M418 915h1.25M406 916h1.25M407 916h1.25M406 917h1.25M407 917h1.25M418 917h1.25M406 918h1.25M407 918h1.25M417 918h1.25M406 919h1.25M405 920h1.25M406 920h1.25M408 920h1.25M405 921h1.25M406 921h1.25M407 921h1.25M414 921h1.25M415 921h1.25M406 922h1.25M407 922h1.25M409 922h1.25M413 922h1.25M414 922h1.25M407 923h1.25M408 923h1.25M410 923h1.25M412 923h1.25M413 923h1.25M407 924h1.25M408 924h1.25M409 924h1.25M410 924h1.25M411 924h1.25M412 924h1.25M408 925h1.25M409 925h1.25M410 925h1.25" stroke="#f3a61f" stroke-width="1.25" fill="none"/>
<path d="M417 907h1.25M412 908h1.25M415 908h1.25M416 908h1.25M412 909h1.25M413 909h1.25M415 909h1.25M416 909h1.25M418 909h1.25M410 910h1.25M411 910h1.25M415 910h1.25M417 910h1.25M409 911h1.25M410 911h1.25M411 911h1.25M412 911h1.25M416 911h1.25M410 912h1.25M411 912h1.25M416 912h1.25M417 912h1.25M408 913h1.25M409 913h1.25M417 913h1.25M408 914h1.25M409 914h1.25M416 914h1.25M417 914h1.25M407 915h1.25M409 915h1.25M410 915h1.25M408 916h1.25M414 916h1.25M416 916h1.25M417 916h1.25M408 917h1.25M409 917h1.25M416 917h1.25M417 917h1.25M408 918h1.25M414 918h1.25M415 918h1.25M416 918h1.25M407 919h1.25M408 919h1.25M414 919h1.25M415 919h1.25M416 919h1.25M407 920h1.25M413 920h1.25M414 920h1.25M415 920h1.25M416 920h1.25M408 921h1.25M409 921h1.25M410 921h1.25M411 921h1.25M412 921h1.25M413 921h1.25M408 922h1.25M410 922h1.25M411 922h1.25M412 922h1.25M409 923h1.25M411 923h1.25" stroke="#ee8024" stroke-width="1.25" fill="none"/>
<path d="M414 909h1.25M412 910h1.25M414 910h1.25M416 910h1.25M413 911h1.25M415 911h1.25M413 912h1.25M415 912h1.25M410 913h1.25M411 913h1.25M416 913h1.25M414 914h1.25M415 914h1.25M408 915h1.25M413 915h1.25M416 915h1.25M417 915h1.25M409 916h1.25M410 916h1.25M413 916h1.25M415 916h1.25M410 917h1.25M411 917h1.25M414 917h1.25M415 917h1.25M409 918h1.25M411 918h1.25M409 919h1.25M410 919h1.25M412 919h1.25M409 920h1.25M411 920h1.25" stroke="#e6592a" stroke-width="1.25" fill="none"/>
<path d="M413 910h1.25M414 911h1.25M417 911h1.25M412 912h1.25M414 912h1.25M412 913h1.25M413 913h1.25M414 913h1.25M415 913h1.25M410 914h1.25M411 914h1.25M412 914h1.25M413 914h1.25M411 915h1.25M412 915h1.25M414 915h1.25M415 915h1.25M411 916h1.25M412 916h1.25M412 917h1.25M413 917h1.25M410 918h1.25M412 918h1.25M413 918h1.25M411 919h1.25M413 919h1.25M410 920h1.25M412 920h1.25" stroke="#dc3a2c" stroke-width="1.25" fill="none"/>
<line x1="423" y1="751.6" x2="423" y2="954.6" stroke="#8a8a8a" stroke-width="1.6"/>
<line x1="368.2" y1="894" x2="573" y2="894" stroke="#8a8a8a" stroke-width="1.6"/>
<text x="371.8" y="768.2" font-family='"DejaVu Sans", "Liberation Sans", Verdana, sans-serif' font-size="15.4" font-weight="bold" fill="#9a9a9a">2.0...</text>
<text x="567.8" y="768.2" font-family='"DejaVu Sans", "Liberation Sans", Verdana, sans-serif' font-size="15.4" font-weight="bold" text-anchor="end" fill="#9a9a9a">1.310%</text>
<text x="371.8" y="949.2" font-family='"DejaVu Sans", "Liberation Sans", Verdana, sans-serif' font-size="15.4" font-weight="bold" fill="#9a9a9a">95...</text>
<text x="567.8" y="949.2" font-family='"DejaVu Sans", "Liberation Sans", Verdana, sans-serif' font-size="15.4" font-weight="bold" text-anchor="end" fill="#9a9a9a">1.404%</text>
<text x="365.6" y="971.8" font-family='"Liberation Sans", Arial, Helvetica, sans-serif' font-size="9.2" text-anchor="middle" fill="#111">10<tspan dx="0.6" dy="-6.7" font-size="4.8">1</tspan></text>
<text x="362.6" y="953.4" font-family='"Liberation Sans", Arial, Helvetica, sans-serif' font-size="9.2" text-anchor="end" fill="#111">10<tspan dx="0.6" dy="-2.6" font-size="4.8">1</tspan></text>
<text x="399.73" y="971.8" font-family='"Liberation Sans", Arial, Helvetica, sans-serif' font-size="9.2" text-anchor="middle" fill="#111">10<tspan dx="0.6" dy="-6.7" font-size="4.8">2</tspan></text>
<text x="362.6" y="919.57" font-family='"Liberation Sans", Arial, Helvetica, sans-serif' font-size="9.2" text-anchor="end" fill="#111">10<tspan dx="0.6" dy="-2.6" font-size="4.8">2</tspan></text>
<text x="433.87" y="971.8" font-family='"Liberation Sans", Arial, Helvetica, sans-serif' font-size="9.2" text-anchor="middle" fill="#111">10<tspan dx="0.6" dy="-6.7" font-size="4.8">3</tspan></text>
<text x="362.6" y="885.73" font-family='"Liberation Sans", Arial, Helvetica, sans-serif' font-size="9.2" text-anchor="end" fill="#111">10<tspan dx="0.6" dy="-2.6" font-size="4.8">3</tspan></text>
<text x="468" y="971.8" font-family='"Liberation Sans", Arial, Helvetica, sans-serif' font-size="9.2" text-anchor="middle" fill="#111">10<tspan dx="0.6" dy="-6.7" font-size="4.8">4</tspan></text>
<text x="362.6" y="851.9" font-family='"Liberation Sans", Arial, Helvetica, sans-serif' font-size="9.2" text-anchor="end" fill="#111">10<tspan dx="0.6" dy="-2.6" font-size="4.8">4</tspan></text>
<text x="502.13" y="971.8" font-family='"Liberation Sans", Arial, Helvetica, sans-serif' font-size="9.2" text-anchor="middle" fill="#111">10<tspan dx="0.6" dy="-6.7" font-size="4.8">5</tspan></text>
<text x="362.6" y="818.07" font-family='"Liberation Sans", Arial, Helvetica, sans-serif' font-size="9.2" text-anchor="end" fill="#111">10<tspan dx="0.6" dy="-2.6" font-size="4.8">5</tspan></text>
<text x="536.27" y="971.8" font-family='"Liberation Sans", Arial, Helvetica, sans-serif' font-size="9.2" text-anchor="middle" fill="#111">10<tspan dx="0.6" dy="-6.7" font-size="4.8">6</tspan></text>
<text x="362.6" y="784.23" font-family='"Liberation Sans", Arial, Helvetica, sans-serif' font-size="9.2" text-anchor="end" fill="#111">10<tspan dx="0.6" dy="-2.6" font-size="4.8">6</tspan></text>
<text x="570.4" y="971.8" font-family='"Liberation Sans", Arial, Helvetica, sans-serif' font-size="9.2" text-anchor="middle" fill="#111">10<tspan dx="0.6" dy="-6.7" font-size="4.8">7</tspan></text>
<text x="362.6" y="750.4" font-family='"Liberation Sans", Arial, Helvetica, sans-serif' font-size="9.2" text-anchor="end" fill="#111">10<tspan dx="0.6" dy="-2.6" font-size="4.8">7</tspan></text>
<text x="0" y="0" transform="translate(466.8 993.6) scale(0.94 1)" font-family='"DejaVu Sans", "Liberation Sans", Verdana, sans-serif' font-size="14.4" text-anchor="middle">FITC-H</text>
<text x="0" y="0" transform="translate(343.9 854.1) rotate(-90) scale(0.94 1)" font-family='"DejaVu Sans", "Liberation Sans", Verdana, sans-serif' font-size="14.4" text-anchor="middle">PI-H</text>
</g>
<g id="flow6">
<text x="782.2" y="724" font-family='"Liberation Sans", Arial, Helvetica, sans-serif' font-size="23.9" text-anchor="middle">H<tspan dy="0.643em" font-size="56%">2</tspan><tspan dy="-0.36em">O</tspan><tspan dy="0.643em" font-size="56%">2</tspan><tspan dy="-0.36em">+si-NRF2</tspan></text>
<text x="782.2" y="746.2" font-family='"Liberation Sans", Arial, Helvetica, sans-serif' font-size="23.9" text-anchor="middle">+oe-FGF19</text>
<rect x="676.2" y="750.8" width="204.3" height="202.9" fill="#fff" stroke="#bdbdbd" stroke-width="1.2"/>
<path d="M676.2 953.7v5.8M686.45 953.7v3M692.45 953.7v3M696.7 953.7v3M700 953.7v3M702.7 953.7v3M704.98 953.7v3M706.95 953.7v3M708.69 953.7v3M710.25 953.7v5.8M720.5 953.7v3M726.5 953.7v3M730.75 953.7v3M734.05 953.7v3M736.75 953.7v3M739.03 953.7v3M741 953.7v3M742.74 953.7v3M744.3 953.7v5.8M754.55 953.7v3M760.55 953.7v3M764.8 953.7v3M768.1 953.7v3M770.8 953.7v3M773.08 953.7v3M775.05 953.7v3M776.79 953.7v3M778.35 953.7v5.8M788.6 953.7v3M794.6 953.7v3M798.85 953.7v3M802.15 953.7v3M804.85 953.7v3M807.13 953.7v3M809.1 953.7v3M810.84 953.7v3M812.4 953.7v5.8M822.65 953.7v3M828.65 953.7v3M832.9 953.7v3M836.2 953.7v3M838.9 953.7v3M841.18 953.7v3M843.15 953.7v3M844.89 953.7v3M846.45 953.7v5.8M856.7 953.7v3M862.7 953.7v3M866.95 953.7v3M870.25 953.7v3M872.95 953.7v3M875.23 953.7v3M877.2 953.7v3M878.94 953.7v3M880.5 953.7v5.8" stroke="#ababab" stroke-width="0.9" fill="none"/>
<path d="M676.2 953.7h-5.8M676.2 943.52h-3M676.2 937.57h-3M676.2 933.34h-3M676.2 930.06h-3M676.2 927.39h-3M676.2 925.12h-3M676.2 923.16h-3M676.2 921.43h-3M676.2 919.88h-5.8M676.2 909.7h-3M676.2 903.75h-3M676.2 899.52h-3M676.2 896.25h-3M676.2 893.57h-3M676.2 891.3h-3M676.2 889.34h-3M676.2 887.61h-3M676.2 886.07h-5.8M676.2 875.89h-3M676.2 869.93h-3M676.2 865.71h-3M676.2 862.43h-3M676.2 859.75h-3M676.2 857.49h-3M676.2 855.53h-3M676.2 853.8h-3M676.2 852.25h-5.8M676.2 842.07h-3M676.2 836.12h-3M676.2 831.89h-3M676.2 828.61h-3M676.2 825.94h-3M676.2 823.67h-3M676.2 821.71h-3M676.2 819.98h-3M676.2 818.43h-5.8M676.2 808.25h-3M676.2 802.3h-3M676.2 798.07h-3M676.2 794.8h-3M676.2 792.12h-3M676.2 789.85h-3M676.2 787.89h-3M676.2 786.16h-3M676.2 784.62h-5.8M676.2 774.44h-3M676.2 768.48h-3M676.2 764.26h-3M676.2 760.98h-3M676.2 758.3h-3M676.2 756.04h-3M676.2 754.08h-3M676.2 752.35h-3M676.2 750.8h-5.8" stroke="#ababab" stroke-width="0.9" fill="none"/>
<path d="M744 863h1.25M754 866h1.25M750 867h1.25M737 868h1.25M740 868h1.25M760 870h1.25M761 870h1.25M763 870h1.25M716 871h1.25M730 871h1.25M730 872h1.25M731 872h1.25M741 872h1.25M744 872h1.25M750 872h1.25M763 872h1.25M731 873h1.25M739 873h1.25M753 873h1.25M724 874h1.25M729 874h1.25M743 874h1.25M746 874h1.25M752 874h1.25M758 874h1.25M762 874h1.25M722 875h1.25M746 875h1.25M760 875h1.25M719 876h1.25M721 876h1.25M727 876h1.25M732 876h1.25M741 876h1.25M749 876h1.25M762 876h1.25M719 877h1.25M721 877h1.25M726 877h1.25M736 877h1.25M741 877h1.25M750 877h1.25M758 877h1.25M761 877h1.25M762 877h1.25M725 878h1.25M727 878h1.25M729 878h1.25M731 878h1.25M732 878h1.25M741 878h1.25M755 878h1.25M758 878h1.25M718 879h1.25M722 879h1.25M738 879h1.25M745 879h1.25M765 879h1.25M729 880h1.25M732 880h1.25M736 880h1.25M741 880h1.25M726 881h1.25M727 881h1.25M729 881h1.25M734 881h1.25M744 881h1.25M750 881h1.25M721 882h1.25M722 882h1.25M723 882h1.25M724 882h1.25M731 882h1.25M733 882h1.25M718 883h1.25M726 883h1.25M741 883h1.25M753 883h1.25M734 884h1.25M717 885h1.25M718 885h1.25M733 885h1.25M735 885h1.25M738 885h1.25M718 886h1.25M721 886h1.25M723 886h1.25M724 886h1.25M725 886h1.25M726 886h1.25M764 886h1.25M719 887h1.25M722 887h1.25M726 887h1.25M732 887h1.25M740 887h1.25M721 888h1.25M733 888h1.25M737 888h1.25M728 889h1.25M729 889h1.25M730 890h1.25M732 890h1.25M724 891h1.25M730 891h1.25M711 892h1.25M725 892h1.25M734 892h1.25M737 892h1.25M713 893h1.25M727 893h1.25M730 893h1.25M731 893h1.25M725 894h1.25M725 895h1.25M727 895h1.25M728 895h1.25M729 895h1.25M721 897h1.25M723 897h1.25M725 897h1.25M726 898h1.25M754 899h1.25M721 900h1.25M725 900h1.25M726 900h1.25M733 900h1.25M750 900h1.25M753 900h1.25M756 900h1.25M721 901h1.25M722 901h1.25M723 901h1.25M724 901h1.25M733 901h1.25M721 902h1.25M724 902h1.25M725 902h1.25M726 902h1.25M731 902h1.25M732 902h1.25M723 903h1.25M724 903h1.25M725 903h1.25M726 903h1.25M730 903h1.25M735 903h1.25M743 903h1.25M719 904h1.25M721 904h1.25M724 904h1.25M725 904h1.25M726 904h1.25M731 904h1.25M733 904h1.25M736 904h1.25M718 905h1.25M719 905h1.25M720 905h1.25M721 905h1.25M722 905h1.25M723 905h1.25M724 905h1.25M725 905h1.25M727 905h1.25M728 905h1.25M730 905h1.25M750 905h1.25M718 906h1.25M720 906h1.25M721 906h1.25M724 906h1.25M725 906h1.25M726 906h1.25M729 906h1.25M731 906h1.25M745 906h1.25M712 907h1.25M722 907h1.25M727 907h1.25M728 907h1.25M729 907h1.25M748 907h1.25M752 907h1.25M715 908h1.25M718 908h1.25M719 908h1.25M722 908h1.25M725 908h1.25M730 908h1.25M739 908h1.25M743 908h1.25M715 909h1.25M716 909h1.25M718 909h1.25M719 909h1.25M727 909h1.25M728 909h1.25M729 909h1.25M731 909h1.25M732 909h1.25M714 910h1.25M715 910h1.25M717 910h1.25M730 910h1.25M731 910h1.25M732 910h1.25M737 910h1.25M743 910h1.25M708 911h1.25M711 911h1.25M714 911h1.25M729 911h1.25M730 911h1.25M731 911h1.25M753 911h1.25M711 912h1.25M731 912h1.25M736 912h1.25M756 912h1.25M729 913h1.25M730 913h1.25M745 913h1.25M755 913h1.25M710 914h1.25M714 914h1.25M727 914h1.25M729 914h1.25M731 914h1.25M732 914h1.25M733 914h1.25M745 914h1.25M710 915h1.25M731 915h1.25M744 915h1.25M708 916h1.25M711 916h1.25M713 916h1.25M728 916h1.25M729 916h1.25M730 916h1.25M711 917h1.25M714 917h1.25M727 917h1.25M728 917h1.25M729 917h1.25M711 918h1.25M712 918h1.25M713 918h1.25M714 918h1.25M727 918h1.25M728 918h1.25M733 918h1.25M711 919h1.25M712 919h1.25M726 919h1.25M729 919h1.25M731 919h1.25M732 919h1.25M705 920h1.25M710 920h1.25M711 920h1.25M727 920h1.25M708 921h1.25M712 921h1.25M713 921h1.25M726 921h1.25M727 921h1.25M728 921h1.25M731 921h1.25M738 921h1.25M741 921h1.25M703 922h1.25M709 922h1.25M712 922h1.25M714 922h1.25M721 922h1.25M724 922h1.25M728 922h1.25M737 922h1.25M703 923h1.25M705 923h1.25M706 923h1.25M709 923h1.25M713 923h1.25M715 923h1.25M718 923h1.25M725 923h1.25M707 924h1.25M711 924h1.25M712 924h1.25M714 924h1.25M722 924h1.25M724 924h1.25M726 924h1.25M727 924h1.25M728 924h1.25M732 924h1.25M736 924h1.25M705 925h1.25M713 925h1.25M715 925h1.25M717 925h1.25M718 925h1.25M719 925h1.25M721 925h1.25M722 925h1.25M723 925h1.25M710 926h1.25M714 926h1.25M717 926h1.25M718 926h1.25M719 926h1.25M720 926h1.25M731 926h1.25M691 927h1.25M703 927h1.25M712 927h1.25M714 927h1.25M716 927h1.25M717 927h1.25M720 927h1.25M721 927h1.25M722 927h1.25M745 927h1.25M693 928h1.25M708 928h1.25M709 928h1.25M711 928h1.25M715 928h1.25M716 928h1.25M717 928h1.25M718 928h1.25M719 928h1.25M718 929h1.25M723 929h1.25M741 929h1.25M701 930h1.25M713 930h1.25M720 930h1.25M702 931h1.25M709 931h1.25M719 931h1.25M706 932h1.25M716 932h1.25M686 933h1.25M704 933h1.25M710 933h1.25M712 933h1.25M720 933h1.25M722 933h1.25M716 934h1.25M709 937h1.25" stroke="#141414" stroke-width="1.25" fill="none" opacity="0.92"/>
<path d="M722 906h1.25M723 906h1.25M727 906h1.25M719 907h1.25M720 907h1.25M723 907h1.25M727 908h1.25M728 908h1.25M717 909h1.25M728 911h1.25M728 912h1.25M715 913h1.25M728 914h1.25M714 915h1.25M728 915h1.25M714 916h1.25M713 917h1.25M726 918h1.25M713 919h1.25M713 920h1.25M726 920h1.25M725 921h1.25M714 923h1.25M723 923h1.25M715 924h1.25M720 924h1.25M716 925h1.25M720 925h1.25" stroke="#f9e11e" stroke-width="1.25" fill="none"/>
<path d="M722 904h1.25M726 905h1.25M717 907h1.25M721 907h1.25M724 907h1.25M725 907h1.25M726 907h1.25M730 907h1.25M720 908h1.25M721 908h1.25M723 908h1.25M724 908h1.25M726 908h1.25M720 909h1.25M725 909h1.25M726 909h1.25M718 910h1.25M719 910h1.25M726 910h1.25M727 910h1.25M728 910h1.25M729 910h1.25M715 911h1.25M716 911h1.25M717 911h1.25M726 911h1.25M716 912h1.25M726 912h1.25M727 912h1.25M716 913h1.25M728 913h1.25M715 914h1.25M730 914h1.25M715 915h1.25M727 915h1.25M729 915h1.25M712 916h1.25M715 916h1.25M726 916h1.25M727 916h1.25M715 917h1.25M726 917h1.25M715 918h1.25M725 918h1.25M714 919h1.25M725 919h1.25M727 919h1.25M714 920h1.25M724 920h1.25M725 920h1.25M711 921h1.25M714 921h1.25M715 921h1.25M716 921h1.25M723 921h1.25M724 921h1.25M715 922h1.25M716 922h1.25M720 922h1.25M722 922h1.25M723 922h1.25M726 922h1.25M716 923h1.25M717 923h1.25M719 923h1.25M720 923h1.25M722 923h1.25M716 924h1.25M717 924h1.25M718 924h1.25M719 924h1.25M721 924h1.25M723 924h1.25M721 926h1.25" stroke="#f7cf1c" stroke-width="1.25" fill="none"/>
<path d="M721 909h1.25M722 909h1.25M723 909h1.25M724 909h1.25M720 910h1.25M721 910h1.25M723 910h1.25M724 910h1.25M725 910h1.25M718 911h1.25M719 911h1.25M720 911h1.25M727 911h1.25M717 912h1.25M718 912h1.25M725 912h1.25M717 913h1.25M725 913h1.25M726 913h1.25M727 913h1.25M716 914h1.25M717 914h1.25M725 914h1.25M726 914h1.25M716 915h1.25M717 915h1.25M725 915h1.25M726 915h1.25M716 916h1.25M717 916h1.25M725 916h1.25M725 917h1.25M716 918h1.25M723 918h1.25M715 919h1.25M716 919h1.25M717 919h1.25M724 919h1.25M715 920h1.25M716 920h1.25M717 920h1.25M722 920h1.25M723 920h1.25M717 921h1.25M720 921h1.25M721 921h1.25M722 921h1.25M717 922h1.25M718 922h1.25M719 922h1.25M721 923h1.25" stroke="#f3a61f" stroke-width="1.25" fill="none"/>
<path d="M722 910h1.25M721 911h1.25M723 911h1.25M724 911h1.25M725 911h1.25M719 912h1.25M723 912h1.25M724 912h1.25M718 913h1.25M719 913h1.25M718 914h1.25M724 914h1.25M718 915h1.25M720 915h1.25M723 916h1.25M724 916h1.25M716 917h1.25M717 917h1.25M723 917h1.25M724 917h1.25M717 918h1.25M724 918h1.25M721 919h1.25M722 919h1.25M723 919h1.25M718 920h1.25M719 920h1.25M721 920h1.25M718 921h1.25M719 921h1.25" stroke="#ee8024" stroke-width="1.25" fill="none"/>
<path d="M722 911h1.25M720 912h1.25M721 912h1.25M722 912h1.25M719 914h1.25M723 915h1.25M724 915h1.25M718 916h1.25M719 916h1.25M718 917h1.25M718 918h1.25M720 918h1.25M718 919h1.25M719 919h1.25M720 919h1.25M720 920h1.25" stroke="#e6592a" stroke-width="1.25" fill="none"/>
<path d="M720 913h1.25M721 913h1.25M722 913h1.25M723 913h1.25M724 913h1.25M720 914h1.25M721 914h1.25M722 914h1.25M723 914h1.25M719 915h1.25M721 915h1.25M722 915h1.25M720 916h1.25M721 916h1.25M722 916h1.25M719 917h1.25M720 917h1.25M721 917h1.25M722 917h1.25M719 918h1.25M721 918h1.25M722 918h1.25" stroke="#dc3a2c" stroke-width="1.25" fill="none"/>
<line x1="731.3" y1="750.8" x2="731.3" y2="953.7" stroke="#8a8a8a" stroke-width="1.6"/>
<line x1="676.2" y1="893.7" x2="880.5" y2="893.7" stroke="#8a8a8a" stroke-width="1.6"/>
<text x="679.8" y="767.4" font-family='"DejaVu Sans", "Liberation Sans", Verdana, sans-serif' font-size="15.4" font-weight="bold" fill="#9a9a9a">3.2...</text>
<text x="875.3" y="767.4" font-family='"DejaVu Sans", "Liberation Sans", Verdana, sans-serif' font-size="15.4" font-weight="bold" text-anchor="end" fill="#9a9a9a">2.632%</text>
<text x="679.8" y="948.3" font-family='"DejaVu Sans", "Liberation Sans", Verdana, sans-serif' font-size="15.4" font-weight="bold" fill="#9a9a9a">92...</text>
<text x="875.3" y="948.3" font-family='"DejaVu Sans", "Liberation Sans", Verdana, sans-serif' font-size="15.4" font-weight="bold" text-anchor="end" fill="#9a9a9a">1.205%</text>
<text x="673.6" y="970.9" font-family='"Liberation Sans", Arial, Helvetica, sans-serif' font-size="9.2" text-anchor="middle" fill="#111">10<tspan dx="0.6" dy="-6.7" font-size="4.8">1</tspan></text>
<text x="670.6" y="952.5" font-family='"Liberation Sans", Arial, Helvetica, sans-serif' font-size="9.2" text-anchor="end" fill="#111">10<tspan dx="0.6" dy="-2.6" font-size="4.8">1</tspan></text>
<text x="707.65" y="970.9" font-family='"Liberation Sans", Arial, Helvetica, sans-serif' font-size="9.2" text-anchor="middle" fill="#111">10<tspan dx="0.6" dy="-6.7" font-size="4.8">2</tspan></text>
<text x="670.6" y="918.68" font-family='"Liberation Sans", Arial, Helvetica, sans-serif' font-size="9.2" text-anchor="end" fill="#111">10<tspan dx="0.6" dy="-2.6" font-size="4.8">2</tspan></text>
<text x="741.7" y="970.9" font-family='"Liberation Sans", Arial, Helvetica, sans-serif' font-size="9.2" text-anchor="middle" fill="#111">10<tspan dx="0.6" dy="-6.7" font-size="4.8">3</tspan></text>
<text x="670.6" y="884.87" font-family='"Liberation Sans", Arial, Helvetica, sans-serif' font-size="9.2" text-anchor="end" fill="#111">10<tspan dx="0.6" dy="-2.6" font-size="4.8">3</tspan></text>
<text x="775.75" y="970.9" font-family='"Liberation Sans", Arial, Helvetica, sans-serif' font-size="9.2" text-anchor="middle" fill="#111">10<tspan dx="0.6" dy="-6.7" font-size="4.8">4</tspan></text>
<text x="670.6" y="851.05" font-family='"Liberation Sans", Arial, Helvetica, sans-serif' font-size="9.2" text-anchor="end" fill="#111">10<tspan dx="0.6" dy="-2.6" font-size="4.8">4</tspan></text>
<text x="809.8" y="970.9" font-family='"Liberation Sans", Arial, Helvetica, sans-serif' font-size="9.2" text-anchor="middle" fill="#111">10<tspan dx="0.6" dy="-6.7" font-size="4.8">5</tspan></text>
<text x="670.6" y="817.23" font-family='"Liberation Sans", Arial, Helvetica, sans-serif' font-size="9.2" text-anchor="end" fill="#111">10<tspan dx="0.6" dy="-2.6" font-size="4.8">5</tspan></text>
<text x="843.85" y="970.9" font-family='"Liberation Sans", Arial, Helvetica, sans-serif' font-size="9.2" text-anchor="middle" fill="#111">10<tspan dx="0.6" dy="-6.7" font-size="4.8">6</tspan></text>
<text x="670.6" y="783.42" font-family='"Liberation Sans", Arial, Helvetica, sans-serif' font-size="9.2" text-anchor="end" fill="#111">10<tspan dx="0.6" dy="-2.6" font-size="4.8">6</tspan></text>
<text x="877.9" y="970.9" font-family='"Liberation Sans", Arial, Helvetica, sans-serif' font-size="9.2" text-anchor="middle" fill="#111">10<tspan dx="0.6" dy="-6.7" font-size="4.8">7</tspan></text>
<text x="670.6" y="749.6" font-family='"Liberation Sans", Arial, Helvetica, sans-serif' font-size="9.2" text-anchor="end" fill="#111">10<tspan dx="0.6" dy="-2.6" font-size="4.8">7</tspan></text>
<text x="0" y="0" transform="translate(775.8 993) scale(0.94 1)" font-family='"DejaVu Sans", "Liberation Sans", Verdana, sans-serif' font-size="14.4" text-anchor="middle">FITC-H</text>
<text x="0" y="0" transform="translate(651.9 853.25) rotate(-90) scale(0.94 1)" font-family='"DejaVu Sans", "Liberation Sans", Verdana, sans-serif' font-size="14.4" text-anchor="middle">PI-H</text>
</g>
<g id="panelCbar">
<rect x="986.2" y="699.7" width="40.8" height="88.8" fill="#0000ff"/>
<line x1="1006.6" y1="700.7" x2="1006.6" y2="695.6" stroke="#0000ff" stroke-width="2.6"/>
<line x1="996.6" y1="695.6" x2="1016.6" y2="695.6" stroke="#0000ff" stroke-width="2.6"/>
<rect x="1047.8" y="606.4" width="41" height="182.1" fill="#d90000"/>
<line x1="1068.3" y1="607.4" x2="1068.3" y2="596.3" stroke="#d90000" stroke-width="2.6"/>
<line x1="1058.25" y1="596.3" x2="1078.35" y2="596.3" stroke="#d90000" stroke-width="2.6"/>
<rect x="1109.5" y="603.6" width="41.2" height="184.9" fill="#6cbd2c"/>
<line x1="1130.1" y1="604.6" x2="1130.1" y2="595.7" stroke="#6cbd2c" stroke-width="2.6"/>
<line x1="1120.01" y1="595.7" x2="1140.19" y2="595.7" stroke="#6cbd2c" stroke-width="2.6"/>
<rect x="1171.3" y="551" width="41" height="237.5" fill="#9611df"/>
<line x1="1191.8" y1="552" x2="1191.8" y2="545.3" stroke="#9611df" stroke-width="2.6"/>
<line x1="1181.75" y1="545.3" x2="1201.85" y2="545.3" stroke="#9611df" stroke-width="2.6"/>
<rect x="1233.2" y="663.3" width="40.8" height="125.2" fill="#e37d1f"/>
<line x1="1253.6" y1="664.3" x2="1253.6" y2="649.4" stroke="#e37d1f" stroke-width="2.6"/>
<line x1="1243.6" y1="649.4" x2="1263.6" y2="649.4" stroke="#e37d1f" stroke-width="2.6"/>
<rect x="1294.8" y="607.5" width="41.1" height="181" fill="#000000"/>
<line x1="1315.35" y1="608.5" x2="1315.35" y2="584.1" stroke="#000000" stroke-width="2.6"/>
<line x1="1305.28" y1="584.1" x2="1325.42" y2="584.1" stroke="#000000" stroke-width="2.6"/>
<line x1="966.3" y1="526.7" x2="966.3" y2="789.9" stroke="#000" stroke-width="2.8"/>
<line x1="958" y1="788.5" x2="1357.5" y2="788.5" stroke="#000" stroke-width="2.8"/>
<line x1="958.5" y1="788.5" x2="966.3" y2="788.5" stroke="#000" stroke-width="2.6"/>
<text x="956.3" y="796" font-family='"Liberation Sans", Arial, Helvetica, sans-serif' font-size="20" font-weight="bold" text-anchor="end">0</text>
<line x1="958.5" y1="736.42" x2="966.3" y2="736.42" stroke="#000" stroke-width="2.6"/>
<text x="956.3" y="743.92" font-family='"Liberation Sans", Arial, Helvetica, sans-serif' font-size="20" font-weight="bold" text-anchor="end">1</text>
<line x1="958.5" y1="684.34" x2="966.3" y2="684.34" stroke="#000" stroke-width="2.6"/>
<text x="956.3" y="691.84" font-family='"Liberation Sans", Arial, Helvetica, sans-serif' font-size="20" font-weight="bold" text-anchor="end">2</text>
<line x1="958.5" y1="632.26" x2="966.3" y2="632.26" stroke="#000" stroke-width="2.6"/>
<text x="956.3" y="639.76" font-family='"Liberation Sans", Arial, Helvetica, sans-serif' font-size="20" font-weight="bold" text-anchor="end">3</text>
<line x1="958.5" y1="580.18" x2="966.3" y2="580.18" stroke="#000" stroke-width="2.6"/>
<text x="956.3" y="587.68" font-family='"Liberation Sans", Arial, Helvetica, sans-serif' font-size="20" font-weight="bold" text-anchor="end">4</text>
<line x1="958.5" y1="528.1" x2="966.3" y2="528.1" stroke="#000" stroke-width="2.6"/>
<text x="956.3" y="535.6" font-family='"Liberation Sans", Arial, Helvetica, sans-serif' font-size="20" font-weight="bold" text-anchor="end">5</text>
<text x="0" y="0" transform="translate(1008.6 819.5) rotate(-30)" font-family='"Liberation Sans", Arial, Helvetica, sans-serif' font-size="19.7" font-weight="bold" text-anchor="end">PBS</text>
<text x="0" y="0" transform="translate(1072.3 818.5) rotate(-30)" font-family='"Liberation Sans", Arial, Helvetica, sans-serif' font-size="19.7" font-weight="bold" text-anchor="end">H<tspan dy="0.214em" font-size="70%" font-weight="normal">2</tspan><tspan dy="-0.15em">O</tspan><tspan dy="0.214em" font-size="70%" font-weight="normal">2</tspan></text>
<text x="0" y="0" transform="translate(1134.1 818.5) rotate(-30)" font-family='"Liberation Sans", Arial, Helvetica, sans-serif' font-size="19.7" font-weight="bold" text-anchor="end">H<tspan dy="0.214em" font-size="70%" font-weight="normal">2</tspan><tspan dy="-0.15em">O</tspan><tspan dy="0.214em" font-size="70%" font-weight="normal">2</tspan><tspan dy="-0.15em">+si-NC</tspan></text>
<text x="0" y="0" transform="translate(1195.8 818.5) rotate(-30)" font-family='"Liberation Sans", Arial, Helvetica, sans-serif' font-size="19.7" font-weight="bold" text-anchor="end">H<tspan dy="0.214em" font-size="70%" font-weight="normal">2</tspan><tspan dy="-0.15em">O</tspan><tspan dy="0.214em" font-size="70%" font-weight="normal">2</tspan><tspan dy="-0.15em">+si-NRF2</tspan></text>
<text x="0" y="0" transform="translate(1257.6 818.5) rotate(-30)" font-family='"Liberation Sans", Arial, Helvetica, sans-serif' font-size="19.7" font-weight="bold" text-anchor="end">H<tspan dy="0.214em" font-size="70%" font-weight="normal">2</tspan><tspan dy="-0.15em">O</tspan><tspan dy="0.214em" font-size="70%" font-weight="normal">2</tspan><tspan dy="-0.15em">+oe-FGF19</tspan></text>
<text x="0" y="0" transform="translate(1319.35 818.5) rotate(-30)" font-family='"Liberation Sans", Arial, Helvetica, sans-serif' font-size="19.7" font-weight="bold" text-anchor="end">H<tspan dy="0.214em" font-size="70%" font-weight="normal">2</tspan><tspan dy="-0.15em">O</tspan><tspan dy="0.214em" font-size="70%" font-weight="normal">2</tspan><tspan dy="-0.15em">+si-NRF2+oe-FGF19</tspan></text>
<text x="1070.15" y="598.67" font-family='"Liberation Sans", Arial, Helvetica, sans-serif' font-size="20.5" text-anchor="middle" letter-spacing="1.3" stroke="#000" stroke-width="0.22">***</text>
<text x="1132.05" y="598.67" font-family='"Liberation Sans", Arial, Helvetica, sans-serif' font-size="20.5" text-anchor="middle" letter-spacing="1.3" stroke="#000" stroke-width="0.22">***</text>
<text x="1194.05" y="547.88" font-family='"Liberation Sans", Arial, Helvetica, sans-serif' font-size="20.5" text-anchor="middle" letter-spacing="1.3" stroke="#000" stroke-width="0.22">***</text>
<text x="1194" y="528.2" font-family='"Liberation Sans", Arial, Helvetica, sans-serif' font-size="17.3" text-anchor="middle" stroke="#000" stroke-width="0.22">##</text>
<text x="1255.65" y="652.67" font-family='"Liberation Sans", Arial, Helvetica, sans-serif' font-size="20.5" text-anchor="middle" letter-spacing="1.3" stroke="#000" stroke-width="0.22">*</text>
<text x="1257.1" y="632.4" font-family='"Liberation Sans", Arial, Helvetica, sans-serif' font-size="17.3" text-anchor="middle" stroke="#000" stroke-width="0.22">##</text>
<text x="1258.2" y="616.9" font-family='"Liberation Sans", Arial, Helvetica, sans-serif' font-size="17.3" text-anchor="middle" letter-spacing="0.4" stroke="#000" stroke-width="0.22">&amp;&amp;&amp;</text>
<text x="1316.55" y="587.07" font-family='"Liberation Sans", Arial, Helvetica, sans-serif' font-size="20.5" text-anchor="middle" letter-spacing="1.3" stroke="#000" stroke-width="0.22">***</text>
<text x="1318.8" y="569.7" font-family='"Liberation Sans", Arial, Helvetica, sans-serif' font-size="17.3" text-anchor="middle" letter-spacing="0.4" stroke="#000" stroke-width="0.22">&amp;&amp;</text>
<text x="1318" y="554.4" font-family='"Liberation Sans", Arial, Helvetica, sans-serif' font-size="17.3" text-anchor="middle" stroke="#000" stroke-width="0.22">$$</text>
<text x="0" y="0" transform="translate(929.5 657) rotate(-90)" font-family='"Liberation Sans", Arial, Helvetica, sans-serif' font-size="23.5" font-weight="bold" text-anchor="middle">cell apoptosis rate (%)</text>
</g>
<text x="2.5" y="1036.9" font-family='"Liberation Sans", Arial, Helvetica, sans-serif' font-size="48.2">D</text>
<g id="hist1">
<text x="167" y="1027" font-family='"Liberation Sans", Arial, Helvetica, sans-serif' font-size="23.9" text-anchor="middle">control</text>
<rect x="70.2" y="1033.4" width="203.1" height="202.6" fill="#fff" stroke="#bdbdbd" stroke-width="1.2"/>
<path d="M70.2 1236v5.8M80.39 1236v3M86.35 1236v3M90.58 1236v3M93.86 1236v3M96.54 1236v3M98.81 1236v3M100.77 1236v3M102.5 1236v3M104.05 1236v5.8M114.24 1236v3M120.2 1236v3M124.43 1236v3M127.71 1236v3M130.39 1236v3M132.66 1236v3M134.62 1236v3M136.35 1236v3M137.9 1236v5.8M148.09 1236v3M154.05 1236v3M158.28 1236v3M161.56 1236v3M164.24 1236v3M166.51 1236v3M168.47 1236v3M170.2 1236v3M171.75 1236v5.8M181.94 1236v3M187.9 1236v3M192.13 1236v3M195.41 1236v3M198.09 1236v3M200.36 1236v3M202.32 1236v3M204.05 1236v3M205.6 1236v5.8M215.79 1236v3M221.75 1236v3M225.98 1236v3M229.26 1236v3M231.94 1236v3M234.21 1236v3M236.17 1236v3M237.9 1236v3M239.45 1236v5.8M249.64 1236v3M255.6 1236v3M259.83 1236v3M263.11 1236v3M265.79 1236v3M268.06 1236v3M270.02 1236v3M271.75 1236v3M273.3 1236v5.8" stroke="#ababab" stroke-width="0.9" fill="none"/>
<path d="M70.2 1236h-5.8M70.2 1217.72h-3M70.2 1199.44h-3M70.2 1181.16h-3M70.2 1162.88h-3M70.2 1144.6h-5.8M70.2 1126.32h-3M70.2 1108.04h-3M70.2 1089.76h-3M70.2 1071.48h-3M70.2 1053.2h-5.8M70.2 1034.92h-3" stroke="#ababab" stroke-width="0.9" fill="none"/>
<path d="M70.2 1236L114.91 1235.81L124.03 1235.44L129.51 1230.88L132.25 1223.58L134.07 1218.11L135.35 1224.13L138.27 1214.46L139.73 1217.56L145.94 1204.42L149.59 1196.2L152.32 1173.39L155.97 1127.76L158.71 1082.13L160.9 1051.1L162.36 1054.75L164.19 1036.5L165.65 1043.8L166.92 1033.7L168.75 1036.5L170.57 1045.63L173.31 1062.06L176.05 1082.13L178.79 1094.91L180.61 1118.63L182.44 1138.71L183.9 1158.79L185.18 1162.44L187 1178.86L189.74 1202.59L190.65 1209.89L191.56 1208.98L193.39 1220.84L196.13 1228.14L200.69 1234.53L206.17 1235.81L213.47 1235.63L213.47 1236Z" fill="#e05858" stroke="none"/>
<path d="M70.2 1236L114.91 1235.81L124.03 1235.44L129.51 1230.88L132.25 1223.58L134.07 1218.11L135.35 1224.13L138.27 1214.46L139.73 1217.56L145.94 1204.42L149.59 1196.2L152.32 1173.39L155.97 1127.76L158.71 1082.13L160.9 1051.1L162.36 1054.75L164.19 1036.5L165.65 1043.8L166.92 1033.7L168.75 1036.5L170.57 1045.63L173.31 1062.06L176.05 1082.13L178.79 1094.91L180.61 1118.63L182.44 1138.71L183.9 1158.79L185.18 1162.44L187 1178.86L189.74 1202.59L190.65 1209.89L191.56 1208.98L193.39 1220.84L196.13 1228.14L200.69 1234.53L206.17 1235.81L213.47 1235.63" fill="none" stroke="#d62222" stroke-width="1.3" stroke-linejoin="round"/>
<line x1="177.9" y1="1033.4" x2="177.9" y2="1236" stroke="#8e1414" stroke-width="2"/>
<line x1="177.9" y1="1155.7" x2="273.3" y2="1155.7" stroke="#a31515" stroke-width="2"/>
<line x1="273.1" y1="1033.4" x2="273.1" y2="1236" stroke="#a31515" stroke-width="2.3"/>
<text x="266.8" y="1150.6" font-family='"DejaVu Sans", "Liberation Sans", Verdana, sans-serif' font-size="15" font-weight="bold" text-anchor="end" fill="#a01212">R3: 18.825%</text>
<text x="67.6" y="1253" font-family='"Liberation Sans", Arial, Helvetica, sans-serif' font-size="9.2" text-anchor="middle" fill="#111">10<tspan dx="0.6" dy="-6.7" font-size="4.8">0</tspan></text>
<text x="101.45" y="1253" font-family='"Liberation Sans", Arial, Helvetica, sans-serif' font-size="9.2" text-anchor="middle" fill="#111">10<tspan dx="0.6" dy="-6.7" font-size="4.8">1</tspan></text>
<text x="135.3" y="1253" font-family='"Liberation Sans", Arial, Helvetica, sans-serif' font-size="9.2" text-anchor="middle" fill="#111">10<tspan dx="0.6" dy="-6.7" font-size="4.8">2</tspan></text>
<text x="169.15" y="1253" font-family='"Liberation Sans", Arial, Helvetica, sans-serif' font-size="9.2" text-anchor="middle" fill="#111">10<tspan dx="0.6" dy="-6.7" font-size="4.8">3</tspan></text>
<text x="203" y="1253" font-family='"Liberation Sans", Arial, Helvetica, sans-serif' font-size="9.2" text-anchor="middle" fill="#111">10<tspan dx="0.6" dy="-6.7" font-size="4.8">4</tspan></text>
<text x="236.85" y="1253" font-family='"Liberation Sans", Arial, Helvetica, sans-serif' font-size="9.2" text-anchor="middle" fill="#111">10<tspan dx="0.6" dy="-6.7" font-size="4.8">5</tspan></text>
<text x="270.7" y="1253" font-family='"Liberation Sans", Arial, Helvetica, sans-serif' font-size="9.2" text-anchor="middle" fill="#111">10<tspan dx="0.6" dy="-6.7" font-size="4.8">6</tspan></text>
<text x="63.2" y="1056.3" font-family='"Liberation Sans", Arial, Helvetica, sans-serif' font-size="9.7" text-anchor="end" fill="#111">500</text>
<text x="63.2" y="1148" font-family='"Liberation Sans", Arial, Helvetica, sans-serif' font-size="9.7" text-anchor="end" fill="#111">250</text>
<text x="63.2" y="1239.4" font-family='"Liberation Sans", Arial, Helvetica, sans-serif' font-size="9.7" text-anchor="end" fill="#111">0</text>
<text x="0" y="0" transform="translate(168.7 1274.7) scale(0.94 1)" font-family='"DejaVu Sans", "Liberation Sans", Verdana, sans-serif' font-size="14.4" text-anchor="middle">FITC-H</text>
<text x="0" y="0" transform="translate(44.8 1136) rotate(-90) scale(0.94 1)" font-family='"DejaVu Sans", "Liberation Sans", Verdana, sans-serif' font-size="14.4" text-anchor="middle">Count</text>
</g>
<g id="hist2">
<text x="457.8" y="1025.6" font-family='"Liberation Sans", Arial, Helvetica, sans-serif' font-size="23.9" text-anchor="middle">H<tspan dy="0.643em" font-size="56%">2</tspan><tspan dy="-0.36em">O</tspan><tspan dy="0.643em" font-size="56%">2</tspan></text>
<rect x="368.7" y="1037" width="199.9" height="199.4" fill="#fff" stroke="#bdbdbd" stroke-width="1.2"/>
<path d="M368.7 1236.4v5.8M378.73 1236.4v3M384.6 1236.4v3M388.76 1236.4v3M391.99 1236.4v3M394.63 1236.4v3M396.86 1236.4v3M398.79 1236.4v3M400.49 1236.4v3M402.02 1236.4v5.8M412.05 1236.4v3M417.91 1236.4v3M422.08 1236.4v3M425.3 1236.4v3M427.94 1236.4v3M430.17 1236.4v3M432.1 1236.4v3M433.81 1236.4v3M435.33 1236.4v5.8M445.36 1236.4v3M451.23 1236.4v3M455.39 1236.4v3M458.62 1236.4v3M461.26 1236.4v3M463.49 1236.4v3M465.42 1236.4v3M467.13 1236.4v3M468.65 1236.4v5.8M478.68 1236.4v3M484.55 1236.4v3M488.71 1236.4v3M491.94 1236.4v3M494.58 1236.4v3M496.81 1236.4v3M498.74 1236.4v3M500.44 1236.4v3M501.97 1236.4v5.8M512 1236.4v3M517.86 1236.4v3M522.03 1236.4v3M525.25 1236.4v3M527.89 1236.4v3M530.12 1236.4v3M532.05 1236.4v3M533.76 1236.4v3M535.28 1236.4v5.8M545.31 1236.4v3M551.18 1236.4v3M555.34 1236.4v3M558.57 1236.4v3M561.21 1236.4v3M563.44 1236.4v3M565.37 1236.4v3M567.08 1236.4v3M568.6 1236.4v5.8" stroke="#ababab" stroke-width="0.9" fill="none"/>
<path d="M368.7 1236.4h-5.8M368.7 1224.72h-3M368.7 1213.04h-3M368.7 1201.36h-3M368.7 1189.68h-3M368.7 1178h-5.8M368.7 1166.32h-3M368.7 1154.64h-3M368.7 1142.96h-3M368.7 1131.28h-3M368.7 1119.6h-5.8M368.7 1107.92h-3M368.7 1096.24h-3M368.7 1084.56h-3M368.7 1072.88h-3M368.7 1061.2h-5.8M368.7 1049.52h-3M368.7 1037.84h-3" stroke="#ababab" stroke-width="0.9" fill="none"/>
<path d="M368.7 1236.4L411.26 1235.99L418.56 1235.08L422.21 1234.17L423.67 1231.43L424.95 1233.25L427.68 1229.06L429.51 1222.67L431.33 1221.21L434.07 1223.03L437.72 1225.04L439.55 1223.58L442.29 1224.86L445.02 1224.86L446.85 1226.87L449.22 1224.86L451.05 1226.87L454.15 1224.13L456.52 1222.3L458.71 1211.72L461.45 1191.64L464.19 1160.61L466.92 1118.63L469.3 1082.13L471.12 1060.23L472.95 1047.45L474.77 1038.33L476.05 1037.42L477.33 1054.75L479.15 1076.66L480.61 1094.91L481.53 1116.81L482.8 1146.01L484.26 1171.56L486.09 1193.47L487.91 1213.54L490.65 1226.32L493.39 1233.62L496.13 1235.81L516.2 1235.99L516.2 1236.4Z" fill="#e05858" stroke="none"/>
<path d="M368.7 1236.4L411.26 1235.99L418.56 1235.08L422.21 1234.17L423.67 1231.43L424.95 1233.25L427.68 1229.06L429.51 1222.67L431.33 1221.21L434.07 1223.03L437.72 1225.04L439.55 1223.58L442.29 1224.86L445.02 1224.86L446.85 1226.87L449.22 1224.86L451.05 1226.87L454.15 1224.13L456.52 1222.3L458.71 1211.72L461.45 1191.64L464.19 1160.61L466.92 1118.63L469.3 1082.13L471.12 1060.23L472.95 1047.45L474.77 1038.33L476.05 1037.42L477.33 1054.75L479.15 1076.66L480.61 1094.91L481.53 1116.81L482.8 1146.01L484.26 1171.56L486.09 1193.47L487.91 1213.54L490.65 1226.32L493.39 1233.62L496.13 1235.81L516.2 1235.99" fill="none" stroke="#d62222" stroke-width="1.3" stroke-linejoin="round"/>
<line x1="474.8" y1="1037" x2="474.8" y2="1236.4" stroke="#8e1414" stroke-width="2"/>
<line x1="474.8" y1="1157.3" x2="568.6" y2="1157.3" stroke="#a31515" stroke-width="2"/>
<line x1="568.4" y1="1037" x2="568.4" y2="1236.4" stroke="#a31515" stroke-width="2.3"/>
<text x="562.9" y="1151.9" font-family='"DejaVu Sans", "Liberation Sans", Verdana, sans-serif' font-size="15" font-weight="bold" text-anchor="end" fill="#a01212">R3: 41.350%</text>
<text x="366.1" y="1253.4" font-family='"Liberation Sans", Arial, Helvetica, sans-serif' font-size="9.2" text-anchor="middle" fill="#111">10<tspan dx="0.6" dy="-6.7" font-size="4.8">0</tspan></text>
<text x="399.42" y="1253.4" font-family='"Liberation Sans", Arial, Helvetica, sans-serif' font-size="9.2" text-anchor="middle" fill="#111">10<tspan dx="0.6" dy="-6.7" font-size="4.8">1</tspan></text>
<text x="432.73" y="1253.4" font-family='"Liberation Sans", Arial, Helvetica, sans-serif' font-size="9.2" text-anchor="middle" fill="#111">10<tspan dx="0.6" dy="-6.7" font-size="4.8">2</tspan></text>
<text x="466.05" y="1253.4" font-family='"Liberation Sans", Arial, Helvetica, sans-serif' font-size="9.2" text-anchor="middle" fill="#111">10<tspan dx="0.6" dy="-6.7" font-size="4.8">3</tspan></text>
<text x="499.37" y="1253.4" font-family='"Liberation Sans", Arial, Helvetica, sans-serif' font-size="9.2" text-anchor="middle" fill="#111">10<tspan dx="0.6" dy="-6.7" font-size="4.8">4</tspan></text>
<text x="532.68" y="1253.4" font-family='"Liberation Sans", Arial, Helvetica, sans-serif' font-size="9.2" text-anchor="middle" fill="#111">10<tspan dx="0.6" dy="-6.7" font-size="4.8">5</tspan></text>
<text x="566" y="1253.4" font-family='"Liberation Sans", Arial, Helvetica, sans-serif' font-size="9.2" text-anchor="middle" fill="#111">10<tspan dx="0.6" dy="-6.7" font-size="4.8">6</tspan></text>
<text x="361.7" y="1040" font-family='"Liberation Sans", Arial, Helvetica, sans-serif' font-size="9.7" text-anchor="end" fill="#111">859</text>
<text x="361.7" y="1065.2" font-family='"Liberation Sans", Arial, Helvetica, sans-serif' font-size="9.7" text-anchor="end" fill="#111">750</text>
<text x="361.7" y="1123.1" font-family='"Liberation Sans", Arial, Helvetica, sans-serif' font-size="9.7" text-anchor="end" fill="#111">500</text>
<text x="361.7" y="1181.4" font-family='"Liberation Sans", Arial, Helvetica, sans-serif' font-size="9.7" text-anchor="end" fill="#111">250</text>
<text x="361.7" y="1239.8" font-family='"Liberation Sans", Arial, Helvetica, sans-serif' font-size="9.7" text-anchor="end" fill="#111">0</text>
<text x="0" y="0" transform="translate(466.3 1275) scale(0.94 1)" font-family='"DejaVu Sans", "Liberation Sans", Verdana, sans-serif' font-size="14.4" text-anchor="middle">FITC-H</text>
<text x="0" y="0" transform="translate(343.4 1138) rotate(-90) scale(0.94 1)" font-family='"DejaVu Sans", "Liberation Sans", Verdana, sans-serif' font-size="14.4" text-anchor="middle">Count</text>
</g>
<g id="hist3">
<text x="793.4" y="1023.7" font-family='"Liberation Sans", Arial, Helvetica, sans-serif' font-size="23.9" text-anchor="middle">H<tspan dy="0.643em" font-size="56%">2</tspan><tspan dy="-0.36em">O</tspan><tspan dy="0.643em" font-size="56%">2</tspan><tspan dy="-0.36em">+si-NC</tspan></text>
<rect x="678.8" y="1033.4" width="204" height="203.5" fill="#fff" stroke="#bdbdbd" stroke-width="1.2"/>
<path d="M678.8 1236.9v5.8M689.04 1236.9v3M695.02 1236.9v3M699.27 1236.9v3M702.56 1236.9v3M705.26 1236.9v3M707.53 1236.9v3M709.51 1236.9v3M711.24 1236.9v3M712.8 1236.9v5.8M723.04 1236.9v3M729.02 1236.9v3M733.27 1236.9v3M736.56 1236.9v3M739.26 1236.9v3M741.53 1236.9v3M743.51 1236.9v3M745.24 1236.9v3M746.8 1236.9v5.8M757.04 1236.9v3M763.02 1236.9v3M767.27 1236.9v3M770.56 1236.9v3M773.26 1236.9v3M775.53 1236.9v3M777.51 1236.9v3M779.24 1236.9v3M780.8 1236.9v5.8M791.04 1236.9v3M797.02 1236.9v3M801.27 1236.9v3M804.56 1236.9v3M807.26 1236.9v3M809.53 1236.9v3M811.51 1236.9v3M813.24 1236.9v3M814.8 1236.9v5.8M825.04 1236.9v3M831.02 1236.9v3M835.27 1236.9v3M838.56 1236.9v3M841.26 1236.9v3M843.53 1236.9v3M845.51 1236.9v3M847.24 1236.9v3M848.8 1236.9v5.8M859.04 1236.9v3M865.02 1236.9v3M869.27 1236.9v3M872.56 1236.9v3M875.26 1236.9v3M877.53 1236.9v3M879.51 1236.9v3M881.24 1236.9v3M882.8 1236.9v5.8" stroke="#ababab" stroke-width="0.9" fill="none"/>
<path d="M678.8 1236.9h-5.8M678.8 1224.48h-3M678.8 1212.06h-3M678.8 1199.64h-3M678.8 1187.22h-3M678.8 1174.8h-5.8M678.8 1162.38h-3M678.8 1149.96h-3M678.8 1137.54h-3M678.8 1125.12h-3M678.8 1112.7h-5.8M678.8 1100.28h-3M678.8 1087.86h-3M678.8 1075.44h-3M678.8 1063.02h-3M678.8 1050.6h-5.8M678.8 1038.18h-3" stroke="#ababab" stroke-width="0.9" fill="none"/>
<path d="M678.8 1236.9L718.56 1236.72L727.68 1236.72L733.16 1235.44L736.81 1231.79L739.55 1226.32L741.92 1219.02L743.2 1216.28L745.02 1220.84L747.76 1220.84L750.5 1225.41L753.24 1227.23L755.97 1229.06L757.8 1228.14L759.62 1232.71L762.36 1230.88L765.1 1230.33L767.84 1226.32L770.57 1217.19L773.31 1200.77L776.05 1173.39L778.79 1127.76L781.53 1082.13L783.35 1051.1L784.81 1034.68L786.09 1033.77L787.55 1034.68L789.37 1051.1L791.56 1082.13L793.39 1113.16L795.21 1142.36L797.04 1164.26L798.86 1186.17L801.6 1215.37L804.34 1229.97L806.17 1235.08L810.73 1236.36L818.03 1236.72L818.03 1236.9Z" fill="#e05858" stroke="none"/>
<path d="M678.8 1236.9L718.56 1236.72L727.68 1236.72L733.16 1235.44L736.81 1231.79L739.55 1226.32L741.92 1219.02L743.2 1216.28L745.02 1220.84L747.76 1220.84L750.5 1225.41L753.24 1227.23L755.97 1229.06L757.8 1228.14L759.62 1232.71L762.36 1230.88L765.1 1230.33L767.84 1226.32L770.57 1217.19L773.31 1200.77L776.05 1173.39L778.79 1127.76L781.53 1082.13L783.35 1051.1L784.81 1034.68L786.09 1033.77L787.55 1034.68L789.37 1051.1L791.56 1082.13L793.39 1113.16L795.21 1142.36L797.04 1164.26L798.86 1186.17L801.6 1215.37L804.34 1229.97L806.17 1235.08L810.73 1236.36L818.03 1236.72" fill="none" stroke="#d62222" stroke-width="1.3" stroke-linejoin="round"/>
<line x1="787.4" y1="1033.4" x2="787.4" y2="1236.9" stroke="#8e1414" stroke-width="2"/>
<line x1="787.4" y1="1156.4" x2="882.8" y2="1156.4" stroke="#a31515" stroke-width="2"/>
<line x1="882.6" y1="1033.4" x2="882.6" y2="1236.9" stroke="#a31515" stroke-width="2.3"/>
<text x="877" y="1151.1" font-family='"DejaVu Sans", "Liberation Sans", Verdana, sans-serif' font-size="15" font-weight="bold" text-anchor="end" fill="#a01212">R3: 41.618%</text>
<text x="676.2" y="1253.9" font-family='"Liberation Sans", Arial, Helvetica, sans-serif' font-size="9.2" text-anchor="middle" fill="#111">10<tspan dx="0.6" dy="-6.7" font-size="4.8">0</tspan></text>
<text x="710.2" y="1253.9" font-family='"Liberation Sans", Arial, Helvetica, sans-serif' font-size="9.2" text-anchor="middle" fill="#111">10<tspan dx="0.6" dy="-6.7" font-size="4.8">1</tspan></text>
<text x="744.2" y="1253.9" font-family='"Liberation Sans", Arial, Helvetica, sans-serif' font-size="9.2" text-anchor="middle" fill="#111">10<tspan dx="0.6" dy="-6.7" font-size="4.8">2</tspan></text>
<text x="778.2" y="1253.9" font-family='"Liberation Sans", Arial, Helvetica, sans-serif' font-size="9.2" text-anchor="middle" fill="#111">10<tspan dx="0.6" dy="-6.7" font-size="4.8">3</tspan></text>
<text x="812.2" y="1253.9" font-family='"Liberation Sans", Arial, Helvetica, sans-serif' font-size="9.2" text-anchor="middle" fill="#111">10<tspan dx="0.6" dy="-6.7" font-size="4.8">4</tspan></text>
<text x="846.2" y="1253.9" font-family='"Liberation Sans", Arial, Helvetica, sans-serif' font-size="9.2" text-anchor="middle" fill="#111">10<tspan dx="0.6" dy="-6.7" font-size="4.8">5</tspan></text>
<text x="880.2" y="1253.9" font-family='"Liberation Sans", Arial, Helvetica, sans-serif' font-size="9.2" text-anchor="middle" fill="#111">10<tspan dx="0.6" dy="-6.7" font-size="4.8">6</tspan></text>
<text x="671.8" y="1053.6" font-family='"Liberation Sans", Arial, Helvetica, sans-serif' font-size="9.7" text-anchor="end" fill="#111">750</text>
<text x="671.8" y="1116.2" font-family='"Liberation Sans", Arial, Helvetica, sans-serif' font-size="9.7" text-anchor="end" fill="#111">500</text>
<text x="671.8" y="1178.2" font-family='"Liberation Sans", Arial, Helvetica, sans-serif' font-size="9.7" text-anchor="end" fill="#111">250</text>
<text x="671.8" y="1240.3" font-family='"Liberation Sans", Arial, Helvetica, sans-serif' font-size="9.7" text-anchor="end" fill="#111">0</text>
<text x="0" y="0" transform="translate(778.4 1276.5) scale(0.94 1)" font-family='"DejaVu Sans", "Liberation Sans", Verdana, sans-serif' font-size="14.4" text-anchor="middle">FITC-H</text>
<text x="0" y="0" transform="translate(653 1136.9) rotate(-90) scale(0.94 1)" font-family='"DejaVu Sans", "Liberation Sans", Verdana, sans-serif' font-size="14.4" text-anchor="middle">Count</text>
</g>
<g id="hist4">
<text x="172.4" y="1335.2" font-family='"Liberation Sans", Arial, Helvetica, sans-serif' font-size="23.9" text-anchor="middle">H<tspan dy="0.643em" font-size="56%">2</tspan><tspan dy="-0.36em">O</tspan><tspan dy="0.643em" font-size="56%">2</tspan><tspan dy="-0.36em">+si-NRF2</tspan></text>
<rect x="72.3" y="1348.9" width="199.3" height="197.6" fill="#fff" stroke="#bdbdbd" stroke-width="1.2"/>
<path d="M72.3 1546.5v5.8M82.3 1546.5v3M88.15 1546.5v3M92.3 1546.5v3M95.52 1546.5v3M98.15 1546.5v3M100.37 1546.5v3M102.3 1546.5v3M104 1546.5v3M105.52 1546.5v5.8M115.52 1546.5v3M121.37 1546.5v3M125.52 1546.5v3M128.73 1546.5v3M131.36 1546.5v3M133.59 1546.5v3M135.51 1546.5v3M137.21 1546.5v3M138.73 1546.5v5.8M148.73 1546.5v3M154.58 1546.5v3M158.73 1546.5v3M161.95 1546.5v3M164.58 1546.5v3M166.8 1546.5v3M168.73 1546.5v3M170.43 1546.5v3M171.95 1546.5v5.8M181.95 1546.5v3M187.8 1546.5v3M191.95 1546.5v3M195.17 1546.5v3M197.8 1546.5v3M200.02 1546.5v3M201.95 1546.5v3M203.65 1546.5v3M205.17 1546.5v5.8M215.17 1546.5v3M221.02 1546.5v3M225.17 1546.5v3M228.38 1546.5v3M231.01 1546.5v3M233.24 1546.5v3M235.16 1546.5v3M236.86 1546.5v3M238.38 1546.5v5.8M248.38 1546.5v3M254.23 1546.5v3M258.38 1546.5v3M261.6 1546.5v3M264.23 1546.5v3M266.45 1546.5v3M268.38 1546.5v3M270.08 1546.5v3M271.6 1546.5v5.8" stroke="#ababab" stroke-width="0.9" fill="none"/>
<path d="M72.3 1546.5h-5.8M72.3 1532.94h-3M72.3 1519.38h-3M72.3 1505.82h-3M72.3 1492.26h-3M72.3 1478.7h-5.8M72.3 1465.14h-3M72.3 1451.58h-3M72.3 1438.02h-3M72.3 1424.46h-3M72.3 1410.9h-5.8M72.3 1397.34h-3M72.3 1383.78h-3M72.3 1370.22h-3M72.3 1356.66h-3" stroke="#ababab" stroke-width="0.9" fill="none"/>
<path d="M72.3 1546.5L121.62 1546.3L131.03 1546.3L137.61 1544.05L142.32 1543.11L144.2 1540.28L146.46 1543.11L149.85 1544.42L152.67 1542.54L155.49 1543.67L158.31 1541.22L161.14 1534.64L163.96 1521.46L166.78 1500.76L169.6 1474.42L171.49 1444.31L173.37 1410.44L175.25 1380.33L176.76 1361.51L178.07 1350.22L179.01 1349.28L180.9 1355.86L182.78 1361.51L185.22 1372.8L186.54 1399.15L188.42 1433.02L190.3 1459.36L192.19 1481.95L194.07 1500.76L196.89 1521.46L199.71 1534.64L203.48 1542.16L206.3 1544.99L208.75 1543.48L211 1545.93L225.12 1546.3L225.12 1546.5Z" fill="#e05858" stroke="none"/>
<path d="M72.3 1546.5L121.62 1546.3L131.03 1546.3L137.61 1544.05L142.32 1543.11L144.2 1540.28L146.46 1543.11L149.85 1544.42L152.67 1542.54L155.49 1543.67L158.31 1541.22L161.14 1534.64L163.96 1521.46L166.78 1500.76L169.6 1474.42L171.49 1444.31L173.37 1410.44L175.25 1380.33L176.76 1361.51L178.07 1350.22L179.01 1349.28L180.9 1355.86L182.78 1361.51L185.22 1372.8L186.54 1399.15L188.42 1433.02L190.3 1459.36L192.19 1481.95L194.07 1500.76L196.89 1521.46L199.71 1534.64L203.48 1542.16L206.3 1544.99L208.75 1543.48L211 1545.93L225.12 1546.3" fill="none" stroke="#d62222" stroke-width="1.3" stroke-linejoin="round"/>
<line x1="178.1" y1="1348.9" x2="178.1" y2="1546.5" stroke="#8e1414" stroke-width="2"/>
<line x1="178.1" y1="1468.8" x2="271.6" y2="1468.8" stroke="#a31515" stroke-width="2"/>
<line x1="271.4" y1="1348.9" x2="271.4" y2="1546.5" stroke="#a31515" stroke-width="2.3"/>
<text x="265.6" y="1463.1" font-family='"DejaVu Sans", "Liberation Sans", Verdana, sans-serif' font-size="15" font-weight="bold" text-anchor="end" fill="#a01212">R3: 60.998%</text>
<text x="69.7" y="1563.5" font-family='"Liberation Sans", Arial, Helvetica, sans-serif' font-size="9.2" text-anchor="middle" fill="#111">10<tspan dx="0.6" dy="-6.7" font-size="4.8">0</tspan></text>
<text x="102.92" y="1563.5" font-family='"Liberation Sans", Arial, Helvetica, sans-serif' font-size="9.2" text-anchor="middle" fill="#111">10<tspan dx="0.6" dy="-6.7" font-size="4.8">1</tspan></text>
<text x="136.13" y="1563.5" font-family='"Liberation Sans", Arial, Helvetica, sans-serif' font-size="9.2" text-anchor="middle" fill="#111">10<tspan dx="0.6" dy="-6.7" font-size="4.8">2</tspan></text>
<text x="169.35" y="1563.5" font-family='"Liberation Sans", Arial, Helvetica, sans-serif' font-size="9.2" text-anchor="middle" fill="#111">10<tspan dx="0.6" dy="-6.7" font-size="4.8">3</tspan></text>
<text x="202.57" y="1563.5" font-family='"Liberation Sans", Arial, Helvetica, sans-serif' font-size="9.2" text-anchor="middle" fill="#111">10<tspan dx="0.6" dy="-6.7" font-size="4.8">4</tspan></text>
<text x="235.78" y="1563.5" font-family='"Liberation Sans", Arial, Helvetica, sans-serif' font-size="9.2" text-anchor="middle" fill="#111">10<tspan dx="0.6" dy="-6.7" font-size="4.8">5</tspan></text>
<text x="269" y="1563.5" font-family='"Liberation Sans", Arial, Helvetica, sans-serif' font-size="9.2" text-anchor="middle" fill="#111">10<tspan dx="0.6" dy="-6.7" font-size="4.8">6</tspan></text>
<text x="65.3" y="1352.3" font-family='"Liberation Sans", Arial, Helvetica, sans-serif' font-size="9.7" text-anchor="end" fill="#111">734</text>
<text x="65.3" y="1414.8" font-family='"Liberation Sans", Arial, Helvetica, sans-serif' font-size="9.7" text-anchor="end" fill="#111">500</text>
<text x="65.3" y="1482.1" font-family='"Liberation Sans", Arial, Helvetica, sans-serif' font-size="9.7" text-anchor="end" fill="#111">250</text>
<text x="65.3" y="1549.9" font-family='"Liberation Sans", Arial, Helvetica, sans-serif' font-size="9.7" text-anchor="end" fill="#111">0</text>
<text x="0" y="0" transform="translate(169.6 1585) scale(0.94 1)" font-family='"DejaVu Sans", "Liberation Sans", Verdana, sans-serif' font-size="14.4" text-anchor="middle">FITC-H</text>
<text x="0" y="0" transform="translate(47.3 1449) rotate(-90) scale(0.94 1)" font-family='"DejaVu Sans", "Liberation Sans", Verdana, sans-serif' font-size="14.4" text-anchor="middle">Count</text>
</g>
<g id="hist5">
<text x="466.8" y="1336.1" font-family='"Liberation Sans", Arial, Helvetica, sans-serif' font-size="23.9" text-anchor="middle">H<tspan dy="0.643em" font-size="56%">2</tspan><tspan dy="-0.36em">O</tspan><tspan dy="0.643em" font-size="56%">2</tspan><tspan dy="-0.36em">+oe-FGF19</tspan></text>
<rect x="368.6" y="1347" width="198.9" height="198.5" fill="#fff" stroke="#bdbdbd" stroke-width="1.2"/>
<path d="M368.6 1545.5v5.8M378.58 1545.5v3M384.42 1545.5v3M388.56 1545.5v3M391.77 1545.5v3M394.4 1545.5v3M396.62 1545.5v3M398.54 1545.5v3M400.23 1545.5v3M401.75 1545.5v5.8M411.73 1545.5v3M417.57 1545.5v3M421.71 1545.5v3M424.92 1545.5v3M427.55 1545.5v3M429.77 1545.5v3M431.69 1545.5v3M433.38 1545.5v3M434.9 1545.5v5.8M444.88 1545.5v3M450.72 1545.5v3M454.86 1545.5v3M458.07 1545.5v3M460.7 1545.5v3M462.92 1545.5v3M464.84 1545.5v3M466.53 1545.5v3M468.05 1545.5v5.8M478.03 1545.5v3M483.87 1545.5v3M488.01 1545.5v3M491.22 1545.5v3M493.85 1545.5v3M496.07 1545.5v3M497.99 1545.5v3M499.68 1545.5v3M501.2 1545.5v5.8M511.18 1545.5v3M517.02 1545.5v3M521.16 1545.5v3M524.37 1545.5v3M527 1545.5v3M529.22 1545.5v3M531.14 1545.5v3M532.83 1545.5v3M534.35 1545.5v5.8M544.33 1545.5v3M550.17 1545.5v3M554.31 1545.5v3M557.52 1545.5v3M560.15 1545.5v3M562.37 1545.5v3M564.29 1545.5v3M565.98 1545.5v3M567.5 1545.5v5.8" stroke="#ababab" stroke-width="0.9" fill="none"/>
<path d="M368.6 1545.5h-5.8M368.6 1530.98h-3M368.6 1516.46h-3M368.6 1501.94h-3M368.6 1487.42h-3M368.6 1472.9h-5.8M368.6 1458.38h-3M368.6 1443.86h-3M368.6 1429.34h-3M368.6 1414.82h-3M368.6 1400.3h-5.8M368.6 1385.78h-3M368.6 1371.26h-3M368.6 1356.74h-3" stroke="#ababab" stroke-width="0.9" fill="none"/>
<path d="M368.6 1545.5L408.45 1545.5L415.97 1545.5L422.56 1543.11L426.32 1541.22L429.15 1536.89L431.03 1538.02L433.47 1533.13L435.17 1534.26L437.61 1530.5L438.93 1534.64L441.38 1531.25L443.26 1524.29L444.76 1528.05L447.02 1523.35L449.85 1515.82L452.67 1502.65L455.49 1483.83L458.31 1455.6L460.76 1421.73L463.02 1387.85L464.52 1374.68L465.84 1369.04L467.16 1353.98L468.66 1347.96L469.98 1359.63L471.49 1372.8L472.8 1371.86L474.31 1395.38L476.19 1421.73L479.01 1449.95L481.84 1478.18L484.66 1502.65L487.48 1527.11L490.3 1538.4L494.07 1544.05L497.83 1545.5L505.36 1545.36L505.36 1545.5Z" fill="#e05858" stroke="none"/>
<path d="M368.6 1545.5L408.45 1545.5L415.97 1545.5L422.56 1543.11L426.32 1541.22L429.15 1536.89L431.03 1538.02L433.47 1533.13L435.17 1534.26L437.61 1530.5L438.93 1534.64L441.38 1531.25L443.26 1524.29L444.76 1528.05L447.02 1523.35L449.85 1515.82L452.67 1502.65L455.49 1483.83L458.31 1455.6L460.76 1421.73L463.02 1387.85L464.52 1374.68L465.84 1369.04L467.16 1353.98L468.66 1347.96L469.98 1359.63L471.49 1372.8L472.8 1371.86L474.31 1395.38L476.19 1421.73L479.01 1449.95L481.84 1478.18L484.66 1502.65L487.48 1527.11L490.3 1538.4L494.07 1544.05L497.83 1545.5L505.36 1545.36" fill="none" stroke="#d62222" stroke-width="1.3" stroke-linejoin="round"/>
<line x1="473.9" y1="1347" x2="473.9" y2="1545.5" stroke="#8e1414" stroke-width="2"/>
<line x1="473.9" y1="1467.5" x2="567.5" y2="1467.5" stroke="#a31515" stroke-width="2"/>
<line x1="567.3" y1="1347" x2="567.3" y2="1545.5" stroke="#a31515" stroke-width="2.3"/>
<text x="561.2" y="1461.8" font-family='"DejaVu Sans", "Liberation Sans", Verdana, sans-serif' font-size="15" font-weight="bold" text-anchor="end" fill="#a01212">R3: 24.495%</text>
<text x="366" y="1562.5" font-family='"Liberation Sans", Arial, Helvetica, sans-serif' font-size="9.2" text-anchor="middle" fill="#111">10<tspan dx="0.6" dy="-6.7" font-size="4.8">0</tspan></text>
<text x="399.15" y="1562.5" font-family='"Liberation Sans", Arial, Helvetica, sans-serif' font-size="9.2" text-anchor="middle" fill="#111">10<tspan dx="0.6" dy="-6.7" font-size="4.8">1</tspan></text>
<text x="432.3" y="1562.5" font-family='"Liberation Sans", Arial, Helvetica, sans-serif' font-size="9.2" text-anchor="middle" fill="#111">10<tspan dx="0.6" dy="-6.7" font-size="4.8">2</tspan></text>
<text x="465.45" y="1562.5" font-family='"Liberation Sans", Arial, Helvetica, sans-serif' font-size="9.2" text-anchor="middle" fill="#111">10<tspan dx="0.6" dy="-6.7" font-size="4.8">3</tspan></text>
<text x="498.6" y="1562.5" font-family='"Liberation Sans", Arial, Helvetica, sans-serif' font-size="9.2" text-anchor="middle" fill="#111">10<tspan dx="0.6" dy="-6.7" font-size="4.8">4</tspan></text>
<text x="531.75" y="1562.5" font-family='"Liberation Sans", Arial, Helvetica, sans-serif' font-size="9.2" text-anchor="middle" fill="#111">10<tspan dx="0.6" dy="-6.7" font-size="4.8">5</tspan></text>
<text x="564.9" y="1562.5" font-family='"Liberation Sans", Arial, Helvetica, sans-serif' font-size="9.2" text-anchor="middle" fill="#111">10<tspan dx="0.6" dy="-6.7" font-size="4.8">6</tspan></text>
<text x="361.6" y="1350.4" font-family='"Liberation Sans", Arial, Helvetica, sans-serif' font-size="9.7" text-anchor="end" fill="#111">683</text>
<text x="361.6" y="1403.5" font-family='"Liberation Sans", Arial, Helvetica, sans-serif' font-size="9.7" text-anchor="end" fill="#111">500</text>
<text x="361.6" y="1476.3" font-family='"Liberation Sans", Arial, Helvetica, sans-serif' font-size="9.7" text-anchor="end" fill="#111">250</text>
<text x="361.6" y="1548.9" font-family='"Liberation Sans", Arial, Helvetica, sans-serif' font-size="9.7" text-anchor="end" fill="#111">0</text>
<text x="0" y="0" transform="translate(465.3 1583.9) scale(0.94 1)" font-family='"DejaVu Sans", "Liberation Sans", Verdana, sans-serif' font-size="14.4" text-anchor="middle">FITC-H</text>
<text x="0" y="0" transform="translate(343.6 1448) rotate(-90) scale(0.94 1)" font-family='"DejaVu Sans", "Liberation Sans", Verdana, sans-serif' font-size="14.4" text-anchor="middle">Count</text>
</g>
<g id="hist6">
<text x="782.8" y="1310.7" font-family='"Liberation Sans", Arial, Helvetica, sans-serif' font-size="23.9" text-anchor="middle">H<tspan dy="0.643em" font-size="56%">2</tspan><tspan dy="-0.36em">O</tspan><tspan dy="0.643em" font-size="56%">2</tspan><tspan dy="-0.36em">+si-NRF2</tspan></text>
<text x="782.8" y="1333.7" font-family='"Liberation Sans", Arial, Helvetica, sans-serif' font-size="23.9" text-anchor="middle">+oe-FGF19</text>
<rect x="677.4" y="1344.6" width="201.9" height="200" fill="#fff" stroke="#bdbdbd" stroke-width="1.2"/>
<path d="M677.4 1544.6v5.8M687.53 1544.6v3M693.46 1544.6v3M697.66 1544.6v3M700.92 1544.6v3M703.58 1544.6v3M705.84 1544.6v3M707.79 1544.6v3M709.51 1544.6v3M711.05 1544.6v5.8M721.18 1544.6v3M727.11 1544.6v3M731.31 1544.6v3M734.57 1544.6v3M737.23 1544.6v3M739.49 1544.6v3M741.44 1544.6v3M743.16 1544.6v3M744.7 1544.6v5.8M754.83 1544.6v3M760.76 1544.6v3M764.96 1544.6v3M768.22 1544.6v3M770.88 1544.6v3M773.14 1544.6v3M775.09 1544.6v3M776.81 1544.6v3M778.35 1544.6v5.8M788.48 1544.6v3M794.41 1544.6v3M798.61 1544.6v3M801.87 1544.6v3M804.53 1544.6v3M806.79 1544.6v3M808.74 1544.6v3M810.46 1544.6v3M812 1544.6v5.8M822.13 1544.6v3M828.06 1544.6v3M832.26 1544.6v3M835.52 1544.6v3M838.18 1544.6v3M840.44 1544.6v3M842.39 1544.6v3M844.11 1544.6v3M845.65 1544.6v5.8M855.78 1544.6v3M861.71 1544.6v3M865.91 1544.6v3M869.17 1544.6v3M871.83 1544.6v3M874.09 1544.6v3M876.04 1544.6v3M877.76 1544.6v3M879.3 1544.6v5.8" stroke="#ababab" stroke-width="0.9" fill="none"/>
<path d="M677.4 1544.6h-5.8M677.4 1532.44h-3M677.4 1520.28h-3M677.4 1508.12h-3M677.4 1495.96h-3M677.4 1483.8h-5.8M677.4 1471.64h-3M677.4 1459.48h-3M677.4 1447.32h-3M677.4 1435.16h-3M677.4 1423h-5.8M677.4 1410.84h-3M677.4 1398.68h-3M677.4 1386.52h-3M677.4 1374.36h-3M677.4 1362.2h-5.8M677.4 1350.04h-3" stroke="#ababab" stroke-width="0.9" fill="none"/>
<path d="M677.4 1544.6L714.09 1544.6L721.62 1544.6L727.26 1543.11L731.97 1539.34L735.17 1534.64L737.05 1533.7L738.55 1526.17L740.81 1521.46L743.26 1526.17L745.71 1531.81L747.96 1536.52L751.73 1538.78L754.55 1540.28L758.31 1539.34L762.08 1538.78L764.9 1536.52L766.78 1530.87L769.6 1515.82L772.43 1487.59L775.25 1449.95L778.07 1387.85L779.95 1365.27L781.84 1350.22L783.72 1346.45L785.22 1344.9L786.54 1352.1L788.42 1369.04L790.3 1391.62L792.19 1425.49L794.07 1459.36L795.95 1487.59L797.83 1512.05L800.65 1530.87L803.48 1539.34L807.24 1543.11L811 1544.6L816.65 1544.6L816.65 1544.6Z" fill="#e05858" stroke="none"/>
<path d="M677.4 1544.6L714.09 1544.6L721.62 1544.6L727.26 1543.11L731.97 1539.34L735.17 1534.64L737.05 1533.7L738.55 1526.17L740.81 1521.46L743.26 1526.17L745.71 1531.81L747.96 1536.52L751.73 1538.78L754.55 1540.28L758.31 1539.34L762.08 1538.78L764.9 1536.52L766.78 1530.87L769.6 1515.82L772.43 1487.59L775.25 1449.95L778.07 1387.85L779.95 1365.27L781.84 1350.22L783.72 1346.45L785.22 1344.9L786.54 1352.1L788.42 1369.04L790.3 1391.62L792.19 1425.49L794.07 1459.36L795.95 1487.59L797.83 1512.05L800.65 1530.87L803.48 1539.34L807.24 1543.11L811 1544.6L816.65 1544.6" fill="none" stroke="#d62222" stroke-width="1.3" stroke-linejoin="round"/>
<line x1="784.7" y1="1344.6" x2="784.7" y2="1544.6" stroke="#8e1414" stroke-width="2"/>
<line x1="784.7" y1="1466" x2="879.3" y2="1466" stroke="#a31515" stroke-width="2"/>
<line x1="879.1" y1="1344.6" x2="879.1" y2="1544.6" stroke="#a31515" stroke-width="2.3"/>
<text x="872.5" y="1460.3" font-family='"DejaVu Sans", "Liberation Sans", Verdana, sans-serif' font-size="15" font-weight="bold" text-anchor="end" fill="#a01212">R3: 42.613%</text>
<text x="674.8" y="1561.6" font-family='"Liberation Sans", Arial, Helvetica, sans-serif' font-size="9.2" text-anchor="middle" fill="#111">10<tspan dx="0.6" dy="-6.7" font-size="4.8">0</tspan></text>
<text x="708.45" y="1561.6" font-family='"Liberation Sans", Arial, Helvetica, sans-serif' font-size="9.2" text-anchor="middle" fill="#111">10<tspan dx="0.6" dy="-6.7" font-size="4.8">1</tspan></text>
<text x="742.1" y="1561.6" font-family='"Liberation Sans", Arial, Helvetica, sans-serif' font-size="9.2" text-anchor="middle" fill="#111">10<tspan dx="0.6" dy="-6.7" font-size="4.8">2</tspan></text>
<text x="775.75" y="1561.6" font-family='"Liberation Sans", Arial, Helvetica, sans-serif' font-size="9.2" text-anchor="middle" fill="#111">10<tspan dx="0.6" dy="-6.7" font-size="4.8">3</tspan></text>
<text x="809.4" y="1561.6" font-family='"Liberation Sans", Arial, Helvetica, sans-serif' font-size="9.2" text-anchor="middle" fill="#111">10<tspan dx="0.6" dy="-6.7" font-size="4.8">4</tspan></text>
<text x="843.05" y="1561.6" font-family='"Liberation Sans", Arial, Helvetica, sans-serif' font-size="9.2" text-anchor="middle" fill="#111">10<tspan dx="0.6" dy="-6.7" font-size="4.8">5</tspan></text>
<text x="876.7" y="1561.6" font-family='"Liberation Sans", Arial, Helvetica, sans-serif' font-size="9.2" text-anchor="middle" fill="#111">10<tspan dx="0.6" dy="-6.7" font-size="4.8">6</tspan></text>
<text x="670.4" y="1364.9" font-family='"Liberation Sans", Arial, Helvetica, sans-serif' font-size="9.7" text-anchor="end" fill="#111">750</text>
<text x="670.4" y="1426.1" font-family='"Liberation Sans", Arial, Helvetica, sans-serif' font-size="9.7" text-anchor="end" fill="#111">500</text>
<text x="670.4" y="1487.2" font-family='"Liberation Sans", Arial, Helvetica, sans-serif' font-size="9.7" text-anchor="end" fill="#111">250</text>
<text x="670.4" y="1548" font-family='"Liberation Sans", Arial, Helvetica, sans-serif' font-size="9.7" text-anchor="end" fill="#111">0</text>
<text x="0" y="0" transform="translate(775.3 1584) scale(0.94 1)" font-family='"DejaVu Sans", "Liberation Sans", Verdana, sans-serif' font-size="14.4" text-anchor="middle">FITC-H</text>
<text x="0" y="0" transform="translate(652 1446.2) rotate(-90) scale(0.94 1)" font-family='"DejaVu Sans", "Liberation Sans", Verdana, sans-serif' font-size="14.4" text-anchor="middle">Count</text>
</g>
<g id="panelDbar">
<rect x="989" y="1311.3" width="42.3" height="66.3" fill="#0000ff"/>
<line x1="1010.15" y1="1312.3" x2="1010.15" y2="1308.1" stroke="#0000ff" stroke-width="2.6"/>
<line x1="999.79" y1="1308.1" x2="1020.51" y2="1308.1" stroke="#0000ff" stroke-width="2.6"/>
<rect x="1052.3" y="1234.8" width="42.3" height="142.8" fill="#d90000"/>
<line x1="1073.45" y1="1235.8" x2="1073.45" y2="1232.5" stroke="#d90000" stroke-width="2.6"/>
<line x1="1063.09" y1="1232.5" x2="1083.81" y2="1232.5" stroke="#d90000" stroke-width="2.6"/>
<rect x="1115.4" y="1231.9" width="42.4" height="145.7" fill="#6cbd2c"/>
<line x1="1136.6" y1="1232.9" x2="1136.6" y2="1229.4" stroke="#6cbd2c" stroke-width="2.6"/>
<line x1="1126.21" y1="1229.4" x2="1146.99" y2="1229.4" stroke="#6cbd2c" stroke-width="2.6"/>
<rect x="1178.6" y="1165.7" width="42.4" height="211.9" fill="#9611df"/>
<line x1="1199.8" y1="1166.7" x2="1199.8" y2="1162.8" stroke="#9611df" stroke-width="2.6"/>
<line x1="1189.41" y1="1162.8" x2="1210.19" y2="1162.8" stroke="#9611df" stroke-width="2.6"/>
<rect x="1242" y="1294.3" width="42" height="83.3" fill="#e37d1f"/>
<line x1="1263" y1="1295.3" x2="1263" y2="1292.7" stroke="#e37d1f" stroke-width="2.6"/>
<line x1="1252.71" y1="1292.7" x2="1273.29" y2="1292.7" stroke="#e37d1f" stroke-width="2.6"/>
<rect x="1305.2" y="1232.3" width="42.2" height="145.3" fill="#000000"/>
<line x1="1326.3" y1="1233.3" x2="1326.3" y2="1231.2" stroke="#000000" stroke-width="2.6"/>
<line x1="1315.96" y1="1231.2" x2="1336.64" y2="1231.2" stroke="#000000" stroke-width="2.6"/>
<line x1="968.5" y1="1108.7" x2="968.5" y2="1379" stroke="#000" stroke-width="2.8"/>
<line x1="959.8" y1="1377.6" x2="1369.5" y2="1377.6" stroke="#000" stroke-width="2.8"/>
<line x1="960.7" y1="1377.6" x2="968.5" y2="1377.6" stroke="#000" stroke-width="2.6"/>
<text x="958.5" y="1385.1" font-family='"Liberation Sans", Arial, Helvetica, sans-serif' font-size="20" font-weight="bold" text-anchor="end">0</text>
<line x1="960.7" y1="1310.72" x2="968.5" y2="1310.72" stroke="#000" stroke-width="2.6"/>
<text x="958.5" y="1318.22" font-family='"Liberation Sans", Arial, Helvetica, sans-serif' font-size="20" font-weight="bold" text-anchor="end">1</text>
<line x1="960.7" y1="1243.85" x2="968.5" y2="1243.85" stroke="#000" stroke-width="2.6"/>
<text x="958.5" y="1251.35" font-family='"Liberation Sans", Arial, Helvetica, sans-serif' font-size="20" font-weight="bold" text-anchor="end">2</text>
<line x1="960.7" y1="1176.97" x2="968.5" y2="1176.97" stroke="#000" stroke-width="2.6"/>
<text x="958.5" y="1184.47" font-family='"Liberation Sans", Arial, Helvetica, sans-serif' font-size="20" font-weight="bold" text-anchor="end">3</text>
<line x1="960.7" y1="1110.1" x2="968.5" y2="1110.1" stroke="#000" stroke-width="2.6"/>
<text x="958.5" y="1117.6" font-family='"Liberation Sans", Arial, Helvetica, sans-serif' font-size="20" font-weight="bold" text-anchor="end">4</text>
<text x="0" y="0" transform="translate(1011.15 1409.6) rotate(-30)" font-family='"Liberation Sans", Arial, Helvetica, sans-serif' font-size="20.2" font-weight="bold" text-anchor="end">PBS</text>
<text x="0" y="0" transform="translate(1077.45 1408.6) rotate(-30)" font-family='"Liberation Sans", Arial, Helvetica, sans-serif' font-size="20.2" font-weight="bold" text-anchor="end">H<tspan dy="0.214em" font-size="70%" font-weight="normal">2</tspan><tspan dy="-0.15em">O</tspan><tspan dy="0.214em" font-size="70%" font-weight="normal">2</tspan></text>
<text x="0" y="0" transform="translate(1140.6 1408.6) rotate(-30)" font-family='"Liberation Sans", Arial, Helvetica, sans-serif' font-size="20.2" font-weight="bold" text-anchor="end">H<tspan dy="0.214em" font-size="70%" font-weight="normal">2</tspan><tspan dy="-0.15em">O</tspan><tspan dy="0.214em" font-size="70%" font-weight="normal">2</tspan><tspan dy="-0.15em">+si-NC</tspan></text>
<text x="0" y="0" transform="translate(1203.8 1408.6) rotate(-30)" font-family='"Liberation Sans", Arial, Helvetica, sans-serif' font-size="20.2" font-weight="bold" text-anchor="end">H<tspan dy="0.214em" font-size="70%" font-weight="normal">2</tspan><tspan dy="-0.15em">O</tspan><tspan dy="0.214em" font-size="70%" font-weight="normal">2</tspan><tspan dy="-0.15em">+si-NRF2</tspan></text>
<text x="0" y="0" transform="translate(1267 1408.6) rotate(-30)" font-family='"Liberation Sans", Arial, Helvetica, sans-serif' font-size="20.2" font-weight="bold" text-anchor="end">H<tspan dy="0.214em" font-size="70%" font-weight="normal">2</tspan><tspan dy="-0.15em">O</tspan><tspan dy="0.214em" font-size="70%" font-weight="normal">2</tspan><tspan dy="-0.15em">+oe-FGF19</tspan></text>
<text x="0" y="0" transform="translate(1330.3 1408.6) rotate(-30)" font-family='"Liberation Sans", Arial, Helvetica, sans-serif' font-size="20.2" font-weight="bold" text-anchor="end">H<tspan dy="0.214em" font-size="70%" font-weight="normal">2</tspan><tspan dy="-0.15em">O</tspan><tspan dy="0.214em" font-size="70%" font-weight="normal">2</tspan><tspan dy="-0.15em">+si-NRF2+oe-FGF19</tspan></text>
<text x="1075.15" y="1236.27" font-family='"Liberation Sans", Arial, Helvetica, sans-serif' font-size="20.5" text-anchor="middle" letter-spacing="1.3" stroke="#000" stroke-width="0.22">***</text>
<text x="1138.55" y="1232.38" font-family='"Liberation Sans", Arial, Helvetica, sans-serif' font-size="20.5" text-anchor="middle" letter-spacing="1.3" stroke="#000" stroke-width="0.22">***</text>
<text x="1201.55" y="1165.38" font-family='"Liberation Sans", Arial, Helvetica, sans-serif' font-size="20.5" text-anchor="middle" letter-spacing="1.3" stroke="#000" stroke-width="0.22">***</text>
<text x="1202.8" y="1145.5" font-family='"Liberation Sans", Arial, Helvetica, sans-serif' font-size="17.3" text-anchor="middle" stroke="#000" stroke-width="0.22">###</text>
<text x="1265.05" y="1296.67" font-family='"Liberation Sans", Arial, Helvetica, sans-serif' font-size="20.5" text-anchor="middle" letter-spacing="1.3" stroke="#000" stroke-width="0.22">***</text>
<text x="1266" y="1276.7" font-family='"Liberation Sans", Arial, Helvetica, sans-serif' font-size="17.3" text-anchor="middle" stroke="#000" stroke-width="0.22">###</text>
<text x="1267.8" y="1261.3" font-family='"Liberation Sans", Arial, Helvetica, sans-serif' font-size="17.3" text-anchor="middle" letter-spacing="0.4" stroke="#000" stroke-width="0.22">&amp;&amp;&amp;</text>
<text x="1327.45" y="1236.27" font-family='"Liberation Sans", Arial, Helvetica, sans-serif' font-size="20.5" text-anchor="middle" letter-spacing="1.3" stroke="#000" stroke-width="0.22">***</text>
<text x="1328.1" y="1217.5" font-family='"Liberation Sans", Arial, Helvetica, sans-serif' font-size="17.3" text-anchor="middle" letter-spacing="0.4" stroke="#000" stroke-width="0.22">&amp;&amp;&amp;</text>
<text x="1328.2" y="1200.4" font-family='"Liberation Sans", Arial, Helvetica, sans-serif' font-size="17.3" text-anchor="middle" stroke="#000" stroke-width="0.22">$$$</text>
<text x="0" y="0" transform="translate(931.5 1243.4) rotate(-90)" font-family='"Liberation Sans", Arial, Helvetica, sans-serif' font-size="24.7" font-weight="bold" text-anchor="middle">ROS level</text>
</g>
</svg>
</body></html>
